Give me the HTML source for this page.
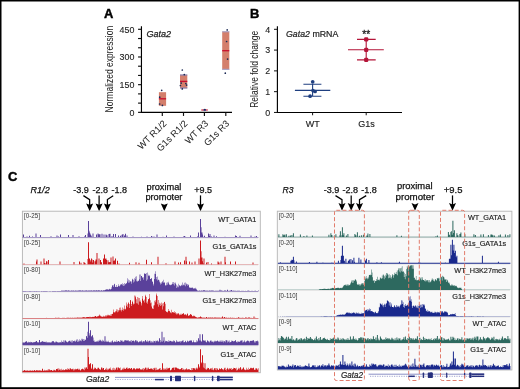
<!DOCTYPE html>
<html><head><meta charset="utf-8"><style>
html,body{margin:0;padding:0;background:#fff;}
body{width:520px;height:389px;position:relative;overflow:hidden;font-family:"Liberation Sans", sans-serif;}
</style></head><body>
<svg width="520" height="389" viewBox="0 0 520 389" style="position:absolute;left:0;top:0;will-change:transform"><g font-family='"Liberation Sans", sans-serif'><text x="103.9" y="17.8" font-size="12.9" font-weight="bold" fill="#000" stroke="#000" stroke-width="0.45">A</text><path d="M141.45,26.3 V112.35 H232" stroke="#000" stroke-width="1.15" fill="none"/><path d="M138.04999999999998,112.35 H141.45" stroke="#111" stroke-width="1.15"/><path d="M138.04999999999998,103.12 H141.45" stroke="#111" stroke-width="1.15"/><path d="M138.04999999999998,93.89 H141.45" stroke="#111" stroke-width="1.15"/><path d="M138.04999999999998,84.67 H141.45" stroke="#111" stroke-width="1.15"/><path d="M138.04999999999998,75.44 H141.45" stroke="#111" stroke-width="1.15"/><path d="M138.04999999999998,66.21 H141.45" stroke="#111" stroke-width="1.15"/><path d="M138.04999999999998,56.98 H141.45" stroke="#111" stroke-width="1.15"/><path d="M138.04999999999998,47.76 H141.45" stroke="#111" stroke-width="1.15"/><path d="M138.04999999999998,38.53 H141.45" stroke="#111" stroke-width="1.15"/><path d="M138.04999999999998,29.30 H141.45" stroke="#111" stroke-width="1.15"/><text x="134.4" y="115.55" font-size="9.4" text-anchor="end" textLength="4.95" lengthAdjust="spacingAndGlyphs" fill="#222" stroke="#222" stroke-width="0.12">0</text><text x="134.4" y="87.87" font-size="9.4" text-anchor="end" textLength="14.85" lengthAdjust="spacingAndGlyphs" fill="#222" stroke="#222" stroke-width="0.12">150</text><text x="134.4" y="60.18" font-size="9.4" text-anchor="end" textLength="14.85" lengthAdjust="spacingAndGlyphs" fill="#222" stroke="#222" stroke-width="0.12">300</text><text x="134.4" y="32.5" font-size="9.4" text-anchor="end" textLength="14.85" lengthAdjust="spacingAndGlyphs" fill="#222" stroke="#222" stroke-width="0.12">450</text><path d="M162.3,112.35 V115.94999999999999" stroke="#111" stroke-width="1.15"/><path d="M183.5,112.35 V115.94999999999999" stroke="#111" stroke-width="1.15"/><path d="M204.4,112.35 V115.94999999999999" stroke="#111" stroke-width="1.15"/><path d="M225.8,112.35 V115.94999999999999" stroke="#111" stroke-width="1.15"/><text transform="translate(113.0,69.1) rotate(-90)" font-size="10.9" text-anchor="middle" fill="#222" textLength="86.6" lengthAdjust="spacingAndGlyphs">Normalized expression</text><text x="146.4" y="37.3" font-size="9.3" font-style="italic" textLength="24.6" lengthAdjust="spacingAndGlyphs" fill="#222" stroke="#222" stroke-width="0.25">Gata2</text><text transform="translate(167.2,124.1) rotate(-45)" font-size="9.3" text-anchor="end" fill="#222">WT R1/2</text><text transform="translate(188.2,124.1) rotate(-45)" font-size="9.3" text-anchor="end" fill="#222">G1s R1/2</text><text transform="translate(209.0,124.1) rotate(-45)" font-size="9.3" text-anchor="end" fill="#222">WT R3</text><text transform="translate(230.0,124.1) rotate(-45)" font-size="9.3" text-anchor="end" fill="#222">G1s R3</text><rect x="158.9" y="92.2" width="7.199999999999989" height="13.599999999999994" fill="#d47f6c"/><path d="M158.9,98.8 H166.1" stroke="#c8102e" stroke-width="1.3"/><rect x="180.0" y="74.6" width="7.300000000000011" height="13.800000000000011" fill="#d47f6c"/><path d="M180.0,75.0 H187.3 M180.0,88.0 H187.3" stroke="#6f83c8" stroke-width="0.9"/><path d="M180.0,81.4 H187.3" stroke="#c8102e" stroke-width="1.3"/><rect x="222.2" y="31.4" width="7.100000000000023" height="38.300000000000004" fill="#d47f6c"/><path d="M222.2,31.799999999999997 H229.3 M222.2,69.3 H229.3" stroke="#9aa6d8" stroke-width="0.9"/><path d="M222.2,50.7 H229.3" stroke="#c8102e" stroke-width="1.3"/><rect x="201.3" y="109.3" width="6.5" height="1.4" fill="#d04050"/><rect x="203.5" y="109.1" width="2.5" height="1.7" fill="#4050a0"/><circle cx="161.7" cy="90.3" r="0.85" fill="#1c2a55"/><circle cx="159.7" cy="97.2" r="0.85" fill="#1c2a55"/><circle cx="159.6" cy="104" r="0.85" fill="#1c2a55"/><circle cx="162.4" cy="105.4" r="0.85" fill="#1c2a55"/><circle cx="182.3" cy="70" r="0.85" fill="#1c2a55"/><circle cx="184.3" cy="74.6" r="0.85" fill="#1c2a55"/><circle cx="181.2" cy="83.1" r="0.85" fill="#1c2a55"/><circle cx="185.8" cy="83.5" r="0.85" fill="#1c2a55"/><circle cx="180.4" cy="85.5" r="0.85" fill="#1c2a55"/><circle cx="186.6" cy="85.1" r="0.85" fill="#1c2a55"/><circle cx="182.3" cy="88.9" r="0.85" fill="#1c2a55"/><circle cx="227.2" cy="29.9" r="0.85" fill="#1c2a55"/><circle cx="226.6" cy="41.5" r="0.85" fill="#1c2a55"/><circle cx="227.6" cy="59.1" r="0.85" fill="#1c2a55"/><circle cx="225.3" cy="73.2" r="0.85" fill="#1c2a55"/><circle cx="204.8" cy="109.6" r="0.85" fill="#1c2a55"/><text x="250.0" y="17.8" font-size="12.9" font-weight="bold" fill="#000" stroke="#000" stroke-width="0.45">B</text><path d="M277.4,26.2 V112.45 H402" stroke="#000" stroke-width="1.15" fill="none"/><path d="M274.0,112.45 H277.4" stroke="#111" stroke-width="1"/><text x="270.1" y="115.65" font-size="9.4" text-anchor="end" textLength="4.95" lengthAdjust="spacingAndGlyphs" fill="#222" stroke="#222" stroke-width="0.12">0</text><path d="M274.0,91.66 H277.4" stroke="#111" stroke-width="1"/><text x="270.1" y="94.86" font-size="9.4" text-anchor="end" textLength="4.95" lengthAdjust="spacingAndGlyphs" fill="#222" stroke="#222" stroke-width="0.12">1</text><path d="M274.0,70.88 H277.4" stroke="#111" stroke-width="1"/><text x="270.1" y="74.08" font-size="9.4" text-anchor="end" textLength="4.95" lengthAdjust="spacingAndGlyphs" fill="#222" stroke="#222" stroke-width="0.12">2</text><path d="M274.0,50.09 H277.4" stroke="#111" stroke-width="1"/><text x="270.1" y="53.29" font-size="9.4" text-anchor="end" textLength="4.95" lengthAdjust="spacingAndGlyphs" fill="#222" stroke="#222" stroke-width="0.12">3</text><path d="M274.0,29.30 H277.4" stroke="#111" stroke-width="1"/><text x="270.1" y="32.5" font-size="9.4" text-anchor="end" textLength="4.95" lengthAdjust="spacingAndGlyphs" fill="#222" stroke="#222" stroke-width="0.12">4</text><path d="M312.6,112.45 V115.25" stroke="#111" stroke-width="1"/><path d="M366.2,112.45 V115.25" stroke="#111" stroke-width="1"/><text transform="translate(257.8,69.3) rotate(-90)" font-size="10.3" text-anchor="middle" fill="#222" textLength="77" lengthAdjust="spacingAndGlyphs">Relative fold change</text><text x="286.0" y="36.9" font-size="8.9" fill="#222" stroke="#222" stroke-width="0.2" textLength="52.3" lengthAdjust="spacingAndGlyphs"><tspan font-style="italic">Gata2</tspan> mRNA</text><text x="312.7" y="126.9" font-size="9.0" text-anchor="middle" fill="#222" stroke="#222" stroke-width="0.15">WT</text><text x="366.4" y="127.1" font-size="9.0" text-anchor="middle" fill="#222" stroke="#222" stroke-width="0.15">G1s</text><text x="366.2" y="38.0" font-size="10.2" text-anchor="middle" fill="#222" stroke="#222" stroke-width="0.3">**</text><path d="M294.9,90.4 H330.3 M303.4,84.2 H321.4 M303.4,96.2 H321.4 M312.6,84.2 V96.2" stroke="#1f3f80" stroke-width="1.1" fill="none"/><circle cx="312.7" cy="81.8" r="1.85" fill="#1f3f80"/><circle cx="315.1" cy="91.5" r="1.85" fill="#1f3f80"/><circle cx="313.0" cy="90.6" r="1.85" fill="#1f3f80"/><circle cx="310.1" cy="96.2" r="1.85" fill="#1f3f80"/><path d="M348,49.8 H383.8 M357,39.4 H375.7 M357,59.9 H375.7 M366.2,39.4 V59.9" stroke="#b41438" stroke-width="1.1" fill="none"/><rect x="364.09999999999997" y="37.3" width="4.2" height="4.2" rx="1.2" fill="#b41438"/><rect x="364.09999999999997" y="47.699999999999996" width="4.2" height="4.2" rx="1.2" fill="#b41438"/><rect x="364.09999999999997" y="57.8" width="4.2" height="4.2" rx="1.2" fill="#b41438"/><text x="8.0" y="181.0" font-size="12.9" font-weight="bold" fill="#000" stroke="#000" stroke-width="0.45">C</text><text x="30.5" y="192.5" font-size="9.0" font-style="italic" textLength="19.2" lengthAdjust="spacingAndGlyphs" fill="#111" stroke="#111" stroke-width="0.25">R1/2</text><text x="73.2" y="192.5" font-size="9.3" textLength="15.6" lengthAdjust="spacingAndGlyphs" fill="#111" stroke="#111" stroke-width="0.25">-3.9</text><text x="92.5" y="192.5" font-size="9.3" textLength="15.6" lengthAdjust="spacingAndGlyphs" fill="#111" stroke="#111" stroke-width="0.25">-2.8</text><text x="111.5" y="192.5" font-size="9.3" textLength="15.6" lengthAdjust="spacingAndGlyphs" fill="#111" stroke="#111" stroke-width="0.25">-1.8</text><path d="M83.4,195.6 L89.65,199.6 V205 M99.1,195.6 V205 M113.2,195.8 L107.4,199.6 V205" stroke="#000" stroke-width="1.25" fill="none"/><path d="M89.65,211.2 L86.15,203.39999999999998 L89.65,204.79999999999998 L93.15,203.39999999999998 Z" fill="#000"/><path d="M99.1,211.2 L95.6,203.39999999999998 L99.1,204.79999999999998 L102.6,203.39999999999998 Z" fill="#000"/><path d="M107.4,211.2 L103.9,203.39999999999998 L107.4,204.79999999999998 L110.9,203.39999999999998 Z" fill="#000"/><text x="146.5" y="189.5" font-size="9.0" textLength="34.9" lengthAdjust="spacingAndGlyphs" fill="#111" stroke="#111" stroke-width="0.25">proximal</text><text x="145.4" y="199.8" font-size="9.0" textLength="37.0" lengthAdjust="spacingAndGlyphs" fill="#111" stroke="#111" stroke-width="0.25">promoter</text><path d="M164.3,211.2 L160.8,203.39999999999998 L164.3,204.79999999999998 L167.8,203.39999999999998 Z" fill="#000"/><text x="194.2" y="192.7" font-size="8.9" textLength="17.8" lengthAdjust="spacingAndGlyphs" fill="#111" stroke="#111" stroke-width="0.25">+9.5</text><path d="M200.5,195.4 V205" stroke="#000" stroke-width="1.25"/><path d="M200.5,211.2 L197.0,203.39999999999998 L200.5,204.79999999999998 L204.0,203.39999999999998 Z" fill="#000"/><text x="282.5" y="192.5" font-size="9.0" font-style="italic" textLength="11" lengthAdjust="spacingAndGlyphs" fill="#111" stroke="#111" stroke-width="0.25">R3</text><text x="323.8" y="192.5" font-size="9.3" textLength="15.6" lengthAdjust="spacingAndGlyphs" fill="#111" stroke="#111" stroke-width="0.25">-3.9</text><text x="342.5" y="192.5" font-size="9.3" textLength="15.6" lengthAdjust="spacingAndGlyphs" fill="#111" stroke="#111" stroke-width="0.25">-2.8</text><text x="361.3" y="192.5" font-size="9.3" textLength="15.6" lengthAdjust="spacingAndGlyphs" fill="#111" stroke="#111" stroke-width="0.25">-1.8</text><path d="M335.5,195.6 L342,199.6 V205 M351.2,195.6 V205 M366.2,195.6 L359.5,199.6 V205" stroke="#000" stroke-width="1.25" fill="none"/><path d="M342.0,210.8 L338.5,203.0 L342.0,204.4 L345.5,203.0 Z" fill="#000"/><path d="M351.2,210.8 L347.7,203.0 L351.2,204.4 L354.7,203.0 Z" fill="#000"/><path d="M359.5,210.8 L356.0,203.0 L359.5,204.4 L363.0,203.0 Z" fill="#000"/><text x="397.0" y="189.3" font-size="9.0" textLength="35.5" lengthAdjust="spacingAndGlyphs" fill="#111" stroke="#111" stroke-width="0.25">proximal</text><text x="395.5" y="199.6" font-size="9.0" textLength="39.0" lengthAdjust="spacingAndGlyphs" fill="#111" stroke="#111" stroke-width="0.25">promoter</text><path d="M415.0,210.8 L411.5,203.0 L415.0,204.4 L418.5,203.0 Z" fill="#000"/><text x="443.8" y="192.7" font-size="8.9" textLength="18.7" lengthAdjust="spacingAndGlyphs" fill="#111" stroke="#111" stroke-width="0.25">+9.5</text><path d="M452.5,195.4 V205" stroke="#000" stroke-width="1.25"/><path d="M452.5,210.8 L449.0,203.0 L452.5,204.4 L456.0,203.0 Z" fill="#000"/><rect x="22.4" y="211.2" width="237.9" height="161.52" fill="#f8f8f8" stroke="#b4b4b4" stroke-width="0.9"/><text x="24.0" y="218.4" font-size="7.0" textLength="15.9" lengthAdjust="spacingAndGlyphs" fill="#333">[0-25]</text><text x="256.4" y="221.9" font-size="7.3" text-anchor="end" fill="#222" stroke="#222" stroke-width="0.15">WT_GATA1</text><text x="24.0" y="245.32" font-size="7.0" textLength="15.9" lengthAdjust="spacingAndGlyphs" fill="#333">[0-25]</text><text x="256.4" y="248.82" font-size="7.3" text-anchor="end" fill="#222" stroke="#222" stroke-width="0.15">G1s_GATA1s</text><text x="24.0" y="272.24" font-size="7.0" textLength="15.9" lengthAdjust="spacingAndGlyphs" fill="#333">[0-80]</text><text x="256.4" y="275.74" font-size="7.3" text-anchor="end" fill="#222" stroke="#222" stroke-width="0.15">WT_H3K27me3</text><text x="24.0" y="299.16" font-size="7.0" textLength="15.9" lengthAdjust="spacingAndGlyphs" fill="#333">[0-80]</text><text x="256.4" y="302.66" font-size="7.3" text-anchor="end" fill="#222" stroke="#222" stroke-width="0.15">G1s_H3K27me3</text><text x="24.0" y="326.08" font-size="7.0" textLength="15.9" lengthAdjust="spacingAndGlyphs" fill="#333">[0-10]</text><text x="256.4" y="329.58" font-size="7.3" text-anchor="end" fill="#222" stroke="#222" stroke-width="0.15">WT_ATAC</text><text x="24.0" y="353.0" font-size="7.0" textLength="15.9" lengthAdjust="spacingAndGlyphs" fill="#333">[0-10]</text><text x="256.4" y="356.5" font-size="7.3" text-anchor="end" fill="#222" stroke="#222" stroke-width="0.15">G1s_ATAC</text><rect x="22.5" y="237.62" width="235.5" height="0.9" fill="#e2e2e2"/><path d="M22.50,237.62L22.50,237.12L23.00,237.12L23.00,234.62L23.50,234.62L23.50,234.62L24.00,234.62L24.00,237.12L24.50,237.12L24.50,237.12L25.00,237.12L25.00,237.12L25.50,237.12L25.50,237.12L26.00,237.12L26.00,237.12L26.50,237.12L26.50,236.56L27.00,236.56L27.00,236.56L27.50,236.56L27.50,237.12L28.00,237.12L28.00,237.12L28.50,237.12L28.50,237.12L29.00,237.12L29.00,235.73L29.50,235.73L29.50,235.73L30.00,235.73L30.00,237.12L30.50,237.12L30.50,237.12L31.00,237.12L31.00,237.12L31.50,237.12L31.50,237.12L32.00,237.12L32.00,236.57L32.50,236.57L32.50,236.57L33.00,236.57L33.00,237.12L33.50,237.12L33.50,237.12L34.00,237.12L34.00,237.12L34.50,237.12L34.50,237.12L35.00,237.12L35.00,237.12L35.50,237.12L35.50,233.62L36.00,233.62L36.00,233.62L36.50,233.62L36.50,237.12L37.00,237.12L37.00,237.12L37.50,237.12L37.50,237.12L38.00,237.12L38.00,237.12L38.50,237.12L38.50,237.12L39.00,237.12L39.00,237.12L39.50,237.12L39.50,237.12L40.00,237.12L40.00,234.94L40.50,234.94L40.50,234.94L41.00,234.94L41.00,237.12L41.50,237.12L41.50,237.12L42.00,237.12L42.00,237.12L42.50,237.12L42.50,237.12L43.00,237.12L43.00,237.12L43.50,237.12L43.50,237.12L44.00,237.12L44.00,237.12L44.50,237.12L44.50,237.12L45.00,237.12L45.00,237.12L45.50,237.12L45.50,237.12L46.00,237.12L46.00,237.12L46.50,237.12L46.50,237.12L47.00,237.12L47.00,237.12L47.50,237.12L47.50,237.12L48.00,237.12L48.00,237.12L48.50,237.12L48.50,237.12L49.00,237.12L49.00,237.12L49.50,237.12L49.50,237.12L50.00,237.12L50.00,237.12L50.50,237.12L50.50,236.13L51.00,236.13L51.00,236.13L51.50,236.13L51.50,237.12L52.00,237.12L52.00,237.12L52.50,237.12L52.50,237.12L53.00,237.12L53.00,237.12L53.50,237.12L53.50,237.12L54.00,237.12L54.00,237.12L54.50,237.12L54.50,237.12L55.00,237.12L55.00,237.12L55.50,237.12L55.50,237.12L56.00,237.12L56.00,237.12L56.50,237.12L56.50,235.62L57.00,235.62L57.00,235.62L57.50,235.62L57.50,237.12L58.00,237.12L58.00,236.53L58.50,236.53L58.50,236.53L59.00,236.53L59.00,237.12L59.50,237.12L59.50,237.12L60.00,237.12L60.00,234.62L60.50,234.62L60.50,234.62L61.00,234.62L61.00,237.12L61.50,237.12L61.50,237.12L62.00,237.12L62.00,237.12L62.50,237.12L62.50,237.12L63.00,237.12L63.00,237.12L63.50,237.12L63.50,237.12L64.00,237.12L64.00,237.12L64.50,237.12L64.50,237.12L65.00,237.12L65.00,237.12L65.50,237.12L65.50,237.12L66.00,237.12L66.00,237.12L66.50,237.12L66.50,237.12L67.00,237.12L67.00,237.12L67.50,237.12L67.50,237.12L68.00,237.12L68.00,235.05L68.50,235.05L68.50,235.05L69.00,235.05L69.00,237.12L69.50,237.12L69.50,237.12L70.00,237.12L70.00,237.12L70.50,237.12L70.50,237.12L71.00,237.12L71.00,237.12L71.50,237.12L71.50,237.12L72.00,237.12L72.00,237.12L72.50,237.12L72.50,234.88L73.00,234.88L73.00,234.88L73.50,234.88L73.50,237.12L74.00,237.12L74.00,237.12L74.50,237.12L74.50,237.12L75.00,237.12L75.00,237.12L75.50,237.12L75.50,237.12L76.00,237.12L76.00,237.12L76.50,237.12L76.50,237.12L77.00,237.12L77.00,237.12L77.50,237.12L77.50,237.12L78.00,237.12L78.00,237.12L78.50,237.12L78.50,236.16L79.00,236.16L79.00,236.16L79.50,236.16L79.50,237.12L80.00,237.12L80.00,237.12L80.50,237.12L80.50,237.12L81.00,237.12L81.00,237.12L81.50,237.12L81.50,237.12L82.00,237.12L82.00,237.12L82.50,237.12L82.50,237.12L83.00,237.12L83.00,237.12L83.50,237.12L83.50,237.12L84.00,237.12L84.00,236.59L84.50,236.59L84.50,236.59L85.00,236.59L85.00,235.11L85.50,235.11L85.50,235.11L86.00,235.11L86.00,237.12L86.50,237.12L86.50,237.12L87.00,237.12L87.00,237.12L87.50,237.12L87.50,233.50L88.00,233.50L88.00,221.12L88.50,221.12L88.50,221.12L89.00,221.12L89.00,230.75L89.50,230.75L89.50,232.62L90.00,232.62L90.00,233.52L90.50,233.52L90.50,234.64L91.00,234.64L91.00,235.53L91.50,235.53L91.50,236.62L92.00,236.62L92.00,237.12L92.50,237.12L92.50,233.62L93.00,233.62L93.00,233.62L93.50,233.62L93.50,237.12L94.00,237.12L94.00,237.12L94.50,237.12L94.50,237.12L95.00,237.12L95.00,237.12L95.50,237.12L95.50,237.12L96.00,237.12L96.00,234.61L96.50,234.61L96.50,234.61L97.00,234.61L97.00,237.12L97.50,237.12L97.50,233.62L98.00,233.62L98.00,233.62L98.50,233.62L98.50,234.32L99.00,234.32L99.00,234.32L99.50,234.32L99.50,234.36L100.00,234.36L100.00,234.36L100.50,234.36L100.50,237.12L101.00,237.12L101.00,237.12L101.50,237.12L101.50,233.68L102.00,233.68L102.00,233.68L102.50,233.68L102.50,237.12L103.00,237.12L103.00,237.12L103.50,237.12L103.50,234.50L104.00,234.50L104.00,234.50L104.50,234.50L104.50,237.12L105.00,237.12L105.00,237.12L105.50,237.12L105.50,234.54L106.00,234.54L106.00,234.54L106.50,234.54L106.50,235.37L107.00,235.37L107.00,235.37L107.50,235.37L107.50,237.12L108.00,237.12L108.00,237.12L108.50,237.12L108.50,233.97L109.00,233.97L109.00,233.97L109.50,233.97L109.50,233.77L110.00,233.77L110.00,233.77L110.50,233.77L110.50,237.12L111.00,237.12L111.00,237.12L111.50,237.12L111.50,236.10L112.00,236.10L112.00,236.10L112.50,236.10L112.50,237.12L113.00,237.12L113.00,234.07L113.50,234.07L113.50,234.07L114.00,234.07L114.00,237.12L114.50,237.12L114.50,237.12L115.00,237.12L115.00,233.95L115.50,233.95L115.50,233.95L116.00,233.95L116.00,237.12L116.50,237.12L116.50,237.12L117.00,237.12L117.00,237.12L117.50,237.12L117.50,237.12L118.00,237.12L118.00,235.61L118.50,235.61L118.50,235.61L119.00,235.61L119.00,237.12L119.50,237.12L119.50,237.12L120.00,237.12L120.00,235.86L120.50,235.86L120.50,235.86L121.00,235.86L121.00,237.12L121.50,237.12L121.50,234.87L122.00,234.87L122.00,234.87L122.50,234.87L122.50,233.94L123.00,233.94L123.00,233.94L123.50,233.94L123.50,237.12L124.00,237.12L124.00,235.62L124.50,235.62L124.50,235.62L125.00,235.62L125.00,233.65L125.50,233.65L125.50,233.65L126.00,233.65L126.00,237.12L126.50,237.12L126.50,235.59L127.00,235.59L127.00,235.59L127.50,235.59L127.50,237.12L128.00,237.12L128.00,237.12L128.50,237.12L128.50,237.12L129.00,237.12L129.00,237.12L129.50,237.12L129.50,237.12L130.00,237.12L130.00,237.12L130.50,237.12L130.50,237.12L131.00,237.12L131.00,237.12L131.50,237.12L131.50,237.12L132.00,237.12L132.00,237.12L132.50,237.12L132.50,236.58L133.00,236.58L133.00,236.58L133.50,236.58L133.50,237.12L134.00,237.12L134.00,237.12L134.50,237.12L134.50,237.12L135.00,237.12L135.00,237.12L135.50,237.12L135.50,237.12L136.00,237.12L136.00,237.12L136.50,237.12L136.50,237.12L137.00,237.12L137.00,237.12L137.50,237.12L137.50,237.12L138.00,237.12L138.00,237.12L138.50,237.12L138.50,237.12L139.00,237.12L139.00,237.12L139.50,237.12L139.50,237.12L140.00,237.12L140.00,237.12L140.50,237.12L140.50,237.12L141.00,237.12L141.00,236.72L141.50,236.72L141.50,236.72L142.00,236.72L142.00,237.12L142.50,237.12L142.50,237.12L143.00,237.12L143.00,237.12L143.50,237.12L143.50,237.12L144.00,237.12L144.00,237.12L144.50,237.12L144.50,237.12L145.00,237.12L145.00,237.12L145.50,237.12L145.50,237.12L146.00,237.12L146.00,237.12L146.50,237.12L146.50,236.45L147.00,236.45L147.00,236.45L147.50,236.45L147.50,237.12L148.00,237.12L148.00,237.12L148.50,237.12L148.50,237.12L149.00,237.12L149.00,237.12L149.50,237.12L149.50,237.12L150.00,237.12L150.00,237.12L150.50,237.12L150.50,237.12L151.00,237.12L151.00,235.88L151.50,235.88L151.50,235.88L152.00,235.88L152.00,236.66L152.50,236.66L152.50,236.66L153.00,236.66L153.00,237.12L153.50,237.12L153.50,236.48L154.00,236.48L154.00,236.48L154.50,236.48L154.50,237.12L155.00,237.12L155.00,237.12L155.50,237.12L155.50,237.12L156.00,237.12L156.00,237.12L156.50,237.12L156.50,234.62L157.00,234.62L157.00,234.62L157.50,234.62L157.50,237.12L158.00,237.12L158.00,237.12L158.50,237.12L158.50,237.12L159.00,237.12L159.00,237.12L159.50,237.12L159.50,237.12L160.00,237.12L160.00,237.12L160.50,237.12L160.50,237.12L161.00,237.12L161.00,237.12L161.50,237.12L161.50,237.12L162.00,237.12L162.00,237.12L162.50,237.12L162.50,236.81L163.00,236.81L163.00,236.81L163.50,236.81L163.50,237.12L164.00,237.12L164.00,237.12L164.50,237.12L164.50,237.12L165.00,237.12L165.00,237.12L165.50,237.12L165.50,237.12L166.00,237.12L166.00,235.54L166.50,235.54L166.50,235.54L167.00,235.54L167.00,237.12L167.50,237.12L167.50,237.12L168.00,237.12L168.00,237.12L168.50,237.12L168.50,237.12L169.00,237.12L169.00,237.12L169.50,237.12L169.50,237.12L170.00,237.12L170.00,237.12L170.50,237.12L170.50,237.12L171.00,237.12L171.00,237.12L171.50,237.12L171.50,237.12L172.00,237.12L172.00,237.12L172.50,237.12L172.50,237.12L173.00,237.12L173.00,237.12L173.50,237.12L173.50,236.43L174.00,236.43L174.00,236.43L174.50,236.43L174.50,237.12L175.00,237.12L175.00,237.12L175.50,237.12L175.50,237.12L176.00,237.12L176.00,237.12L176.50,237.12L176.50,237.12L177.00,237.12L177.00,237.12L177.50,237.12L177.50,237.12L178.00,237.12L178.00,237.12L178.50,237.12L178.50,237.12L179.00,237.12L179.00,237.12L179.50,237.12L179.50,237.12L180.00,237.12L180.00,237.12L180.50,237.12L180.50,237.12L181.00,237.12L181.00,237.12L181.50,237.12L181.50,237.12L182.00,237.12L182.00,237.12L182.50,237.12L182.50,237.12L183.00,237.12L183.00,236.48L183.50,236.48L183.50,236.48L184.00,236.48L184.00,236.05L184.50,236.05L184.50,236.05L185.00,236.05L185.00,236.71L185.50,236.71L185.50,236.71L186.00,236.71L186.00,237.12L186.50,237.12L186.50,237.12L187.00,237.12L187.00,237.12L187.50,237.12L187.50,237.12L188.00,237.12L188.00,237.12L188.50,237.12L188.50,237.12L189.00,237.12L189.00,237.12L189.50,237.12L189.50,237.12L190.00,237.12L190.00,235.49L190.50,235.49L190.50,235.49L191.00,235.49L191.00,237.12L191.50,237.12L191.50,237.12L192.00,237.12L192.00,237.12L192.50,237.12L192.50,237.12L193.00,237.12L193.00,237.12L193.50,237.12L193.50,237.12L194.00,237.12L194.00,237.12L194.50,237.12L194.50,237.12L195.00,237.12L195.00,237.12L195.50,237.12L195.50,237.12L196.00,237.12L196.00,237.12L196.50,237.12L196.50,237.12L197.00,237.12L197.00,236.38L197.50,236.38L197.50,236.38L198.00,236.38L198.00,232.62L198.50,232.62L198.50,232.62L199.00,232.62L199.00,237.12L199.50,237.12L199.50,237.12L200.00,237.12L200.00,218.92L200.50,218.92L200.50,218.92L201.00,218.92L201.00,227.33L201.50,227.33L201.50,232.62L202.00,232.62L202.00,232.62L202.50,232.62L202.50,234.49L203.00,234.49L203.00,236.73L203.50,236.73L203.50,237.12L204.00,237.12L204.00,235.66L204.50,235.66L204.50,235.66L205.00,235.66L205.00,237.12L205.50,237.12L205.50,237.12L206.00,237.12L206.00,237.12L206.50,237.12L206.50,237.12L207.00,237.12L207.00,237.12L207.50,237.12L207.50,237.12L208.00,237.12L208.00,233.62L208.50,233.62L208.50,233.62L209.00,233.62L209.00,236.04L209.50,236.04L209.50,234.12L210.00,234.12L210.00,234.12L210.50,234.12L210.50,236.72L211.00,236.72L211.00,236.39L211.50,236.39L211.50,236.39L212.00,236.39L212.00,237.12L212.50,237.12L212.50,237.12L213.00,237.12L213.00,237.12L213.50,237.12L213.50,235.62L214.00,235.62L214.00,235.62L214.50,235.62L214.50,237.12L215.00,237.12L215.00,237.12L215.50,237.12L215.50,237.12L216.00,237.12L216.00,236.19L216.50,236.19L216.50,236.19L217.00,236.19L217.00,237.12L217.50,237.12L217.50,237.12L218.00,237.12L218.00,237.12L218.50,237.12L218.50,237.12L219.00,237.12L219.00,237.12L219.50,237.12L219.50,237.12L220.00,237.12L220.00,237.12L220.50,237.12L220.50,237.12L221.00,237.12L221.00,237.12L221.50,237.12L221.50,237.12L222.00,237.12L222.00,237.12L222.50,237.12L222.50,237.12L223.00,237.12L223.00,237.12L223.50,237.12L223.50,237.12L224.00,237.12L224.00,237.12L224.50,237.12L224.50,236.73L225.00,236.73L225.00,236.73L225.50,236.73L225.50,237.12L226.00,237.12L226.00,237.12L226.50,237.12L226.50,237.12L227.00,237.12L227.00,237.12L227.50,237.12L227.50,237.12L228.00,237.12L228.00,237.12L228.50,237.12L228.50,237.12L229.00,237.12L229.00,237.12L229.50,237.12L229.50,237.12L230.00,237.12L230.00,237.12L230.50,237.12L230.50,237.12L231.00,237.12L231.00,237.12L231.50,237.12L231.50,237.12L232.00,237.12L232.00,237.12L232.50,237.12L232.50,237.12L233.00,237.12L233.00,237.12L233.50,237.12L233.50,237.12L234.00,237.12L234.00,237.12L234.50,237.12L234.50,237.12L235.00,237.12L235.00,235.62L235.50,235.62L235.50,235.62L236.00,235.62L236.00,236.00L236.50,236.00L236.50,236.00L237.00,236.00L237.00,237.12L237.50,237.12L237.50,237.12L238.00,237.12L238.00,237.12L238.50,237.12L238.50,237.12L239.00,237.12L239.00,237.12L239.50,237.12L239.50,235.64L240.00,235.64L240.00,235.64L240.50,235.64L240.50,237.12L241.00,237.12L241.00,237.12L241.50,237.12L241.50,237.12L242.00,237.12L242.00,237.12L242.50,237.12L242.50,237.12L243.00,237.12L243.00,237.12L243.50,237.12L243.50,237.12L244.00,237.12L244.00,237.12L244.50,237.12L244.50,237.12L245.00,237.12L245.00,237.12L245.50,237.12L245.50,237.12L246.00,237.12L246.00,237.12L246.50,237.12L246.50,237.12L247.00,237.12L247.00,237.12L247.50,237.12L247.50,237.12L248.00,237.12L248.00,237.12L248.50,237.12L248.50,237.12L249.00,237.12L249.00,237.12L249.50,237.12L249.50,237.12L250.00,237.12L250.00,237.12L250.50,237.12L250.50,235.62L251.00,235.62L251.00,235.62L251.50,235.62L251.50,237.12L252.00,237.12L252.00,237.12L252.50,237.12L252.50,237.12L253.00,237.12L253.00,237.12L253.50,237.12L253.50,237.12L254.00,237.12L254.00,237.12L254.50,237.12L254.50,236.59L255.00,236.59L255.00,236.59L255.50,236.59L255.50,237.12L256.00,237.12L256.00,236.07L256.50,236.07L256.50,236.07L257.00,236.07L257.00,237.12L257.50,237.12L257.50,237.12L258.00,237.12L258.00,237.12L258.50,237.12L258.50,237.62Z" fill="#5a419b"/><rect x="22.5" y="264.53999999999996" width="235.5" height="0.9" fill="#e2e2e2"/><path d="M22.50,264.54L22.50,264.14L23.00,264.14L23.00,264.14L23.50,264.14L23.50,263.46L24.00,263.46L24.00,263.46L24.50,263.46L24.50,264.14L25.00,264.14L25.00,264.14L25.50,264.14L25.50,264.14L26.00,264.14L26.00,264.14L26.50,264.14L26.50,264.14L27.00,264.14L27.00,264.14L27.50,264.14L27.50,264.14L28.00,264.14L28.00,264.14L28.50,264.14L28.50,264.14L29.00,264.14L29.00,264.14L29.50,264.14L29.50,264.14L30.00,264.14L30.00,264.14L30.50,264.14L30.50,264.14L31.00,264.14L31.00,264.14L31.50,264.14L31.50,264.14L32.00,264.14L32.00,264.14L32.50,264.14L32.50,264.14L33.00,264.14L33.00,264.14L33.50,264.14L33.50,264.14L34.00,264.14L34.00,264.14L34.50,264.14L34.50,264.14L35.00,264.14L35.00,264.14L35.50,264.14L35.50,264.14L36.00,264.14L36.00,261.53L36.50,261.53L36.50,259.54L37.00,259.54L37.00,259.54L37.50,259.54L37.50,264.14L38.00,264.14L38.00,264.14L38.50,264.14L38.50,264.14L39.00,264.14L39.00,264.14L39.50,264.14L39.50,264.14L40.00,264.14L40.00,264.14L40.50,264.14L40.50,261.54L41.00,261.54L41.00,261.54L41.50,261.54L41.50,264.14L42.00,264.14L42.00,264.14L42.50,264.14L42.50,264.14L43.00,264.14L43.00,264.14L43.50,264.14L43.50,258.54L44.00,258.54L44.00,258.54L44.50,258.54L44.50,262.96L45.00,262.96L45.00,262.96L45.50,262.96L45.50,264.14L46.00,264.14L46.00,261.25L46.50,261.25L46.50,261.25L47.00,261.25L47.00,261.54L47.50,261.54L47.50,264.14L48.00,264.14L48.00,259.91L48.50,259.91L48.50,259.91L49.00,259.91L49.00,264.14L49.50,264.14L49.50,264.14L50.00,264.14L50.00,264.14L50.50,264.14L50.50,264.14L51.00,264.14L51.00,264.14L51.50,264.14L51.50,264.14L52.00,264.14L52.00,264.14L52.50,264.14L52.50,264.14L53.00,264.14L53.00,264.14L53.50,264.14L53.50,264.14L54.00,264.14L54.00,264.14L54.50,264.14L54.50,264.14L55.00,264.14L55.00,264.14L55.50,264.14L55.50,264.14L56.00,264.14L56.00,264.14L56.50,264.14L56.50,264.14L57.00,264.14L57.00,264.14L57.50,264.14L57.50,264.14L58.00,264.14L58.00,264.14L58.50,264.14L58.50,264.14L59.00,264.14L59.00,264.14L59.50,264.14L59.50,261.54L60.00,261.54L60.00,261.54L60.50,261.54L60.50,264.14L61.00,264.14L61.00,264.14L61.50,264.14L61.50,264.14L62.00,264.14L62.00,264.14L62.50,264.14L62.50,264.14L63.00,264.14L63.00,264.14L63.50,264.14L63.50,264.14L64.00,264.14L64.00,264.14L64.50,264.14L64.50,264.14L65.00,264.14L65.00,264.14L65.50,264.14L65.50,264.14L66.00,264.14L66.00,264.14L66.50,264.14L66.50,264.14L67.00,264.14L67.00,264.14L67.50,264.14L67.50,264.14L68.00,264.14L68.00,264.14L68.50,264.14L68.50,264.14L69.00,264.14L69.00,264.14L69.50,264.14L69.50,264.14L70.00,264.14L70.00,264.14L70.50,264.14L70.50,264.14L71.00,264.14L71.00,264.14L71.50,264.14L71.50,264.14L72.00,264.14L72.00,264.14L72.50,264.14L72.50,264.14L73.00,264.14L73.00,264.14L73.50,264.14L73.50,262.04L74.00,262.04L74.00,262.04L74.50,262.04L74.50,264.14L75.00,264.14L75.00,264.14L75.50,264.14L75.50,264.14L76.00,264.14L76.00,264.14L76.50,264.14L76.50,264.14L77.00,264.14L77.00,264.14L77.50,264.14L77.50,264.14L78.00,264.14L78.00,264.14L78.50,264.14L78.50,264.14L79.00,264.14L79.00,261.54L79.50,261.54L79.50,261.54L80.00,261.54L80.00,264.14L80.50,264.14L80.50,262.82L81.00,262.82L81.00,262.82L81.50,262.82L81.50,264.14L82.00,264.14L82.00,264.14L82.50,264.14L82.50,264.14L83.00,264.14L83.00,264.14L83.50,264.14L83.50,262.08L84.00,262.08L84.00,262.08L84.50,262.08L84.50,263.03L85.00,263.03L85.00,263.03L85.50,263.03L85.50,264.14L86.00,264.14L86.00,264.14L86.50,264.14L86.50,264.14L87.00,264.14L87.00,264.14L87.50,264.14L87.50,259.01L88.00,259.01L88.00,242.24L88.50,242.24L88.50,242.24L89.00,242.24L89.00,258.54L89.50,258.54L89.50,258.54L90.00,258.54L90.00,259.89L90.50,259.89L90.50,261.41L91.00,261.41L91.00,258.58L91.50,258.58L91.50,258.58L92.00,258.58L92.00,259.54L92.50,259.54L92.50,262.39L93.00,262.39L93.00,260.08L93.50,260.08L93.50,260.08L94.00,260.08L94.00,264.14L94.50,264.14L94.50,261.19L95.00,261.19L95.00,261.19L95.50,261.19L95.50,259.54L96.00,259.54L96.00,259.54L96.50,259.54L96.50,253.04L97.00,253.04L97.00,253.04L97.50,253.04L97.50,264.14L98.00,264.14L98.00,264.14L98.50,264.14L98.50,258.54L99.00,258.54L99.00,258.54L99.50,258.54L99.50,264.14L100.00,264.14L100.00,259.90L100.50,259.90L100.50,259.90L101.00,259.90L101.00,262.13L101.50,262.13L101.50,262.13L102.00,262.13L102.00,264.14L102.50,264.14L102.50,264.14L103.00,264.14L103.00,258.54L103.50,258.54L103.50,258.54L104.00,258.54L104.00,254.54L104.50,254.54L104.50,254.54L105.00,254.54L105.00,258.70L105.50,258.70L105.50,258.54L106.00,258.54L106.00,258.54L106.50,258.54L106.50,260.12L107.00,260.12L107.00,264.14L107.50,264.14L107.50,260.31L108.00,260.31L108.00,260.31L108.50,260.31L108.50,262.31L109.00,262.31L109.00,262.31L109.50,262.31L109.50,261.90L110.00,261.90L110.00,261.90L110.50,261.90L110.50,257.54L111.00,257.54L111.00,257.54L111.50,257.54L111.50,264.14L112.00,264.14L112.00,264.14L112.50,264.14L112.50,256.54L113.00,256.54L113.00,256.54L113.50,256.54L113.50,260.76L114.00,260.76L114.00,260.76L114.50,260.76L114.50,260.18L115.00,260.18L115.00,258.54L115.50,258.54L115.50,258.54L116.00,258.54L116.00,264.14L116.50,264.14L116.50,264.14L117.00,264.14L117.00,260.85L117.50,260.85L117.50,260.85L118.00,260.85L118.00,264.14L118.50,264.14L118.50,263.47L119.00,263.47L119.00,263.47L119.50,263.47L119.50,264.14L120.00,264.14L120.00,264.14L120.50,264.14L120.50,264.14L121.00,264.14L121.00,264.14L121.50,264.14L121.50,264.14L122.00,264.14L122.00,264.14L122.50,264.14L122.50,264.14L123.00,264.14L123.00,264.14L123.50,264.14L123.50,264.14L124.00,264.14L124.00,264.14L124.50,264.14L124.50,264.14L125.00,264.14L125.00,264.14L125.50,264.14L125.50,264.14L126.00,264.14L126.00,264.14L126.50,264.14L126.50,264.14L127.00,264.14L127.00,264.14L127.50,264.14L127.50,264.14L128.00,264.14L128.00,264.14L128.50,264.14L128.50,264.14L129.00,264.14L129.00,262.70L129.50,262.70L129.50,262.70L130.00,262.70L130.00,264.14L130.50,264.14L130.50,264.14L131.00,264.14L131.00,264.14L131.50,264.14L131.50,264.14L132.00,264.14L132.00,264.14L132.50,264.14L132.50,264.14L133.00,264.14L133.00,264.14L133.50,264.14L133.50,264.14L134.00,264.14L134.00,264.14L134.50,264.14L134.50,264.14L135.00,264.14L135.00,264.14L135.50,264.14L135.50,262.17L136.00,262.17L136.00,262.17L136.50,262.17L136.50,264.14L137.00,264.14L137.00,264.14L137.50,264.14L137.50,264.14L138.00,264.14L138.00,264.14L138.50,264.14L138.50,262.64L139.00,262.64L139.00,262.64L139.50,262.64L139.50,264.14L140.00,264.14L140.00,264.14L140.50,264.14L140.50,264.14L141.00,264.14L141.00,264.14L141.50,264.14L141.50,264.14L142.00,264.14L142.00,264.14L142.50,264.14L142.50,264.14L143.00,264.14L143.00,264.14L143.50,264.14L143.50,264.14L144.00,264.14L144.00,264.14L144.50,264.14L144.50,264.14L145.00,264.14L145.00,264.14L145.50,264.14L145.50,264.14L146.00,264.14L146.00,259.84L146.50,259.84L146.50,259.84L147.00,259.84L147.00,264.14L147.50,264.14L147.50,264.14L148.00,264.14L148.00,264.14L148.50,264.14L148.50,264.14L149.00,264.14L149.00,264.14L149.50,264.14L149.50,264.14L150.00,264.14L150.00,264.14L150.50,264.14L150.50,264.14L151.00,264.14L151.00,262.22L151.50,262.22L151.50,262.22L152.00,262.22L152.00,264.14L152.50,264.14L152.50,264.14L153.00,264.14L153.00,264.14L153.50,264.14L153.50,264.14L154.00,264.14L154.00,264.14L154.50,264.14L154.50,264.14L155.00,264.14L155.00,264.14L155.50,264.14L155.50,264.14L156.00,264.14L156.00,264.14L156.50,264.14L156.50,264.14L157.00,264.14L157.00,264.14L157.50,264.14L157.50,256.84L158.00,256.84L158.00,256.84L158.50,256.84L158.50,264.14L159.00,264.14L159.00,264.14L159.50,264.14L159.50,264.14L160.00,264.14L160.00,264.14L160.50,264.14L160.50,264.14L161.00,264.14L161.00,264.14L161.50,264.14L161.50,264.14L162.00,264.14L162.00,264.14L162.50,264.14L162.50,264.14L163.00,264.14L163.00,264.14L163.50,264.14L163.50,264.14L164.00,264.14L164.00,264.14L164.50,264.14L164.50,264.14L165.00,264.14L165.00,264.14L165.50,264.14L165.50,263.37L166.00,263.37L166.00,263.37L166.50,263.37L166.50,264.14L167.00,264.14L167.00,264.14L167.50,264.14L167.50,264.14L168.00,264.14L168.00,264.14L168.50,264.14L168.50,264.14L169.00,264.14L169.00,264.14L169.50,264.14L169.50,264.14L170.00,264.14L170.00,264.14L170.50,264.14L170.50,264.14L171.00,264.14L171.00,264.14L171.50,264.14L171.50,264.14L172.00,264.14L172.00,264.14L172.50,264.14L172.50,264.14L173.00,264.14L173.00,264.14L173.50,264.14L173.50,264.14L174.00,264.14L174.00,264.14L174.50,264.14L174.50,261.54L175.00,261.54L175.00,261.54L175.50,261.54L175.50,264.14L176.00,264.14L176.00,264.14L176.50,264.14L176.50,264.14L177.00,264.14L177.00,264.14L177.50,264.14L177.50,264.14L178.00,264.14L178.00,262.54L178.50,262.54L178.50,262.54L179.00,262.54L179.00,264.14L179.50,264.14L179.50,264.14L180.00,264.14L180.00,262.35L180.50,262.35L180.50,262.35L181.00,262.35L181.00,264.14L181.50,264.14L181.50,264.14L182.00,264.14L182.00,264.14L182.50,264.14L182.50,264.14L183.00,264.14L183.00,264.14L183.50,264.14L183.50,264.14L184.00,264.14L184.00,260.54L184.50,260.54L184.50,260.54L185.00,260.54L185.00,264.14L185.50,264.14L185.50,256.84L186.00,256.84L186.00,256.84L186.50,256.84L186.50,261.33L187.00,261.33L187.00,264.14L187.50,264.14L187.50,264.14L188.00,264.14L188.00,264.14L188.50,264.14L188.50,264.14L189.00,264.14L189.00,261.54L189.50,261.54L189.50,261.54L190.00,261.54L190.00,264.14L190.50,264.14L190.50,264.14L191.00,264.14L191.00,264.14L191.50,264.14L191.50,262.61L192.00,262.61L192.00,262.61L192.50,262.61L192.50,264.14L193.00,264.14L193.00,264.14L193.50,264.14L193.50,264.14L194.00,264.14L194.00,264.14L194.50,264.14L194.50,261.54L195.00,261.54L195.00,261.54L195.50,261.54L195.50,264.14L196.00,264.14L196.00,264.14L196.50,264.14L196.50,264.14L197.00,264.14L197.00,264.14L197.50,264.14L197.50,264.14L198.00,264.14L198.00,264.14L198.50,264.14L198.50,258.54L199.00,258.54L199.00,258.54L199.50,258.54L199.50,264.14L200.00,264.14L200.00,240.54L200.50,240.54L200.50,240.54L201.00,240.54L201.00,251.34L201.50,251.34L201.50,257.54L202.00,257.54L202.00,257.54L202.50,257.54L202.50,261.16L203.00,261.16L203.00,263.52L203.50,263.52L203.50,258.54L204.00,258.54L204.00,258.54L204.50,258.54L204.50,264.14L205.00,264.14L205.00,264.14L205.50,264.14L205.50,264.14L206.00,264.14L206.00,262.57L206.50,262.57L206.50,262.57L207.00,262.57L207.00,264.14L207.50,264.14L207.50,262.04L208.00,262.04L208.00,262.04L208.50,262.04L208.50,264.14L209.00,264.14L209.00,264.14L209.50,264.14L209.50,264.14L210.00,264.14L210.00,264.14L210.50,264.14L210.50,264.14L211.00,264.14L211.00,263.38L211.50,263.38L211.50,263.38L212.00,263.38L212.00,264.14L212.50,264.14L212.50,264.14L213.00,264.14L213.00,264.14L213.50,264.14L213.50,264.14L214.00,264.14L214.00,264.14L214.50,264.14L214.50,264.14L215.00,264.14L215.00,264.14L215.50,264.14L215.50,264.14L216.00,264.14L216.00,264.14L216.50,264.14L216.50,264.14L217.00,264.14L217.00,264.14L217.50,264.14L217.50,261.54L218.00,261.54L218.00,261.54L218.50,261.54L218.50,262.43L219.00,262.43L219.00,262.43L219.50,262.43L219.50,264.14L220.00,264.14L220.00,264.14L220.50,264.14L220.50,261.54L221.00,261.54L221.00,261.54L221.50,261.54L221.50,264.14L222.00,264.14L222.00,264.14L222.50,264.14L222.50,264.14L223.00,264.14L223.00,264.14L223.50,264.14L223.50,264.14L224.00,264.14L224.00,264.14L224.50,264.14L224.50,256.84L225.00,256.84L225.00,256.84L225.50,256.84L225.50,262.23L226.00,262.23L226.00,264.14L226.50,264.14L226.50,264.14L227.00,264.14L227.00,264.14L227.50,264.14L227.50,264.14L228.00,264.14L228.00,264.14L228.50,264.14L228.50,264.14L229.00,264.14L229.00,264.14L229.50,264.14L229.50,264.14L230.00,264.14L230.00,261.54L230.50,261.54L230.50,261.54L231.00,261.54L231.00,264.14L231.50,264.14L231.50,264.14L232.00,264.14L232.00,264.14L232.50,264.14L232.50,264.14L233.00,264.14L233.00,264.14L233.50,264.14L233.50,264.14L234.00,264.14L234.00,264.14L234.50,264.14L234.50,264.14L235.00,264.14L235.00,261.54L235.50,261.54L235.50,261.54L236.00,261.54L236.00,264.14L236.50,264.14L236.50,264.14L237.00,264.14L237.00,264.14L237.50,264.14L237.50,264.14L238.00,264.14L238.00,264.14L238.50,264.14L238.50,264.14L239.00,264.14L239.00,264.14L239.50,264.14L239.50,264.14L240.00,264.14L240.00,264.14L240.50,264.14L240.50,264.14L241.00,264.14L241.00,264.14L241.50,264.14L241.50,264.14L242.00,264.14L242.00,264.14L242.50,264.14L242.50,264.14L243.00,264.14L243.00,264.14L243.50,264.14L243.50,264.14L244.00,264.14L244.00,264.14L244.50,264.14L244.50,264.14L245.00,264.14L245.00,264.14L245.50,264.14L245.50,264.14L246.00,264.14L246.00,264.14L246.50,264.14L246.50,264.14L247.00,264.14L247.00,264.14L247.50,264.14L247.50,264.14L248.00,264.14L248.00,264.14L248.50,264.14L248.50,264.14L249.00,264.14L249.00,264.14L249.50,264.14L249.50,264.14L250.00,264.14L250.00,264.14L250.50,264.14L250.50,264.14L251.00,264.14L251.00,264.14L251.50,264.14L251.50,264.14L252.00,264.14L252.00,264.14L252.50,264.14L252.50,262.54L253.00,262.54L253.00,262.54L253.50,262.54L253.50,264.14L254.00,264.14L254.00,264.14L254.50,264.14L254.50,264.14L255.00,264.14L255.00,264.14L255.50,264.14L255.50,264.14L256.00,264.14L256.00,264.14L256.50,264.14L256.50,264.14L257.00,264.14L257.00,264.14L257.50,264.14L257.50,264.14L258.00,264.14L258.00,264.14L258.50,264.14L258.50,264.54Z" fill="#cc1a1e"/><rect x="22.5" y="291.46" width="235.5" height="0.9" fill="#e2e2e2"/><path d="M22.50,291.46L22.50,291.05L23.00,291.05L23.00,291.11L23.50,291.11L23.50,291.07L24.00,291.07L24.00,291.12L24.50,291.12L24.50,291.12L25.00,291.12L25.00,291.00L25.50,291.00L25.50,290.99L26.00,290.99L26.00,291.16L26.50,291.16L26.50,291.04L27.00,291.04L27.00,291.03L27.50,291.03L27.50,291.16L28.00,291.16L28.00,291.08L28.50,291.08L28.50,291.16L29.00,291.16L29.00,291.08L29.50,291.08L29.50,291.12L30.00,291.12L30.00,291.01L30.50,291.01L30.50,291.11L31.00,291.11L31.00,291.16L31.50,291.16L31.50,291.09L32.00,291.09L32.00,291.13L32.50,291.13L32.50,291.12L33.00,291.12L33.00,290.98L33.50,290.98L33.50,291.13L34.00,291.13L34.00,291.10L34.50,291.10L34.50,291.03L35.00,291.03L35.00,290.97L35.50,290.97L35.50,291.15L36.00,291.15L36.00,291.06L36.50,291.06L36.50,291.12L37.00,291.12L37.00,291.15L37.50,291.15L37.50,291.12L38.00,291.12L38.00,291.16L38.50,291.16L38.50,291.04L39.00,291.04L39.00,291.13L39.50,291.13L39.50,291.05L40.00,291.05L40.00,291.16L40.50,291.16L40.50,291.15L41.00,291.15L41.00,290.97L41.50,290.97L41.50,290.97L42.00,290.97L42.00,290.99L42.50,290.99L42.50,291.16L43.00,291.16L43.00,291.04L43.50,291.04L43.50,291.08L44.00,291.08L44.00,291.00L44.50,291.00L44.50,291.05L45.00,291.05L45.00,291.02L45.50,291.02L45.50,291.01L46.00,291.01L46.00,291.07L46.50,291.07L46.50,291.07L47.00,291.07L47.00,291.14L47.50,291.14L47.50,291.09L48.00,291.09L48.00,291.15L48.50,291.15L48.50,291.13L49.00,291.13L49.00,291.16L49.50,291.16L49.50,291.08L50.00,291.08L50.00,290.96L50.50,290.96L50.50,291.13L51.00,291.13L51.00,291.15L51.50,291.15L51.50,291.13L52.00,291.13L52.00,291.05L52.50,291.05L52.50,291.09L53.00,291.09L53.00,290.96L53.50,290.96L53.50,291.11L54.00,291.11L54.00,291.05L54.50,291.05L54.50,290.97L55.00,290.97L55.00,290.92L55.50,290.92L55.50,291.11L56.00,291.11L56.00,291.15L56.50,291.15L56.50,290.92L57.00,290.92L57.00,291.10L57.50,291.10L57.50,291.00L58.00,291.00L58.00,290.93L58.50,290.93L58.50,290.96L59.00,290.96L59.00,291.09L59.50,291.09L59.50,291.11L60.00,291.11L60.00,290.90L60.50,290.90L60.50,290.94L61.00,290.94L61.00,290.61L61.50,290.61L61.50,290.78L62.00,290.78L62.00,290.48L62.50,290.48L62.50,290.77L63.00,290.77L63.00,290.82L63.50,290.82L63.50,290.57L64.00,290.57L64.00,290.83L64.50,290.83L64.50,290.47L65.00,290.47L65.00,290.35L65.50,290.35L65.50,290.62L66.00,290.62L66.00,290.33L66.50,290.33L66.50,290.41L67.00,290.41L67.00,290.52L67.50,290.52L67.50,290.63L68.00,290.63L68.00,290.39L68.50,290.39L68.50,290.33L69.00,290.33L69.00,290.76L69.50,290.76L69.50,290.47L70.00,290.47L70.00,290.81L70.50,290.81L70.50,290.77L71.00,290.77L71.00,290.51L71.50,290.51L71.50,290.55L72.00,290.55L72.00,290.58L72.50,290.58L72.50,290.64L73.00,290.64L73.00,290.62L73.50,290.62L73.50,290.60L74.00,290.60L74.00,290.63L74.50,290.63L74.50,290.80L75.00,290.80L75.00,290.57L75.50,290.57L75.50,290.53L76.00,290.53L76.00,290.68L76.50,290.68L76.50,290.43L77.00,290.43L77.00,290.47L77.50,290.47L77.50,290.82L78.00,290.82L78.00,290.58L78.50,290.58L78.50,290.59L79.00,290.59L79.00,290.32L79.50,290.32L79.50,290.52L80.00,290.52L80.00,290.61L80.50,290.61L80.50,290.32L81.00,290.32L81.00,290.62L81.50,290.62L81.50,290.63L82.00,290.63L82.00,290.32L82.50,290.32L82.50,290.62L83.00,290.62L83.00,290.53L83.50,290.53L83.50,290.64L84.00,290.64L84.00,290.46L84.50,290.46L84.50,290.65L85.00,290.65L85.00,290.66L85.50,290.66L85.50,290.27L86.00,290.27L86.00,290.29L86.50,290.29L86.50,290.62L87.00,290.62L87.00,290.77L87.50,290.77L87.50,290.38L88.00,290.38L88.00,290.49L88.50,290.49L88.50,290.56L89.00,290.56L89.00,290.40L89.50,290.40L89.50,290.42L90.00,290.42L90.00,290.39L90.50,290.39L90.50,290.42L91.00,290.42L91.00,290.54L91.50,290.54L91.50,290.37L92.00,290.37L92.00,290.41L92.50,290.41L92.50,290.63L93.00,290.63L93.00,290.20L93.50,290.20L93.50,290.51L94.00,290.51L94.00,290.60L94.50,290.60L94.50,290.35L95.00,290.35L95.00,290.30L95.50,290.30L95.50,290.63L96.00,290.63L96.00,290.30L96.50,290.30L96.50,290.26L97.00,290.26L97.00,290.40L97.50,290.40L97.50,290.56L98.00,290.56L98.00,290.20L98.50,290.20L98.50,290.33L99.00,290.33L99.00,290.33L99.50,290.33L99.50,290.62L100.00,290.62L100.00,290.38L100.50,290.38L100.50,290.63L101.00,290.63L101.00,290.21L101.50,290.21L101.50,290.31L102.00,290.31L102.00,290.50L102.50,290.50L102.50,290.64L103.00,290.64L103.00,290.37L103.50,290.37L103.50,290.22L104.00,290.22L104.00,290.16L104.50,290.16L104.50,290.15L105.00,290.15L105.00,289.57L105.50,289.57L105.50,289.92L106.00,289.92L106.00,289.74L106.50,289.74L106.50,288.93L107.00,288.93L107.00,289.05L107.50,289.05L107.50,289.70L108.00,289.70L108.00,289.50L108.50,289.50L108.50,289.70L109.00,289.70L109.00,289.13L109.50,289.13L109.50,288.86L110.00,288.86L110.00,289.06L110.50,289.06L110.50,289.69L111.00,289.69L111.00,289.04L111.50,289.04L111.50,287.14L112.00,287.14L112.00,285.39L112.50,285.39L112.50,285.36L113.00,285.36L113.00,285.28L113.50,285.28L113.50,287.00L114.00,287.00L114.00,284.33L114.50,284.33L114.50,283.76L115.00,283.76L115.00,286.99L115.50,286.99L115.50,286.74L116.00,286.74L116.00,287.09L116.50,287.09L116.50,285.10L117.00,285.10L117.00,286.91L117.50,286.91L117.50,286.80L118.00,286.80L118.00,284.21L118.50,284.21L118.50,286.08L119.00,286.08L119.00,286.38L119.50,286.38L119.50,285.71L120.00,285.71L120.00,285.14L120.50,285.14L120.50,284.25L121.00,284.25L121.00,284.40L121.50,284.40L121.50,283.93L122.00,283.93L122.00,283.28L122.50,283.28L122.50,285.23L123.00,285.23L123.00,284.03L123.50,284.03L123.50,286.01L124.00,286.01L124.00,283.01L124.50,283.01L124.50,285.57L125.00,285.57L125.00,283.75L125.50,283.75L125.50,284.15L126.00,284.15L126.00,283.23L126.50,283.23L126.50,283.33L127.00,283.33L127.00,281.46L127.50,281.46L127.50,278.17L128.00,278.17L128.00,282.67L128.50,282.67L128.50,279.39L129.00,279.39L129.00,280.27L129.50,280.27L129.50,282.48L130.00,282.48L130.00,281.80L130.50,281.80L130.50,280.88L131.00,280.88L131.00,283.76L131.50,283.76L131.50,281.54L132.00,281.54L132.00,279.59L132.50,279.59L132.50,278.72L133.00,278.72L133.00,282.45L133.50,282.45L133.50,279.63L134.00,279.63L134.00,281.48L134.50,281.48L134.50,278.20L135.00,278.20L135.00,276.79L135.50,276.79L135.50,279.15L136.00,279.15L136.00,281.13L136.50,281.13L136.50,276.28L137.00,276.28L137.00,280.80L137.50,280.80L137.50,281.70L138.00,281.70L138.00,280.76L138.50,280.76L138.50,280.82L139.00,280.82L139.00,274.50L139.50,274.50L139.50,279.17L140.00,279.17L140.00,280.91L140.50,280.91L140.50,274.49L141.00,274.49L141.00,276.11L141.50,276.11L141.50,275.99L142.00,275.99L142.00,277.95L142.50,277.95L142.50,277.03L143.00,277.03L143.00,277.34L143.50,277.34L143.50,279.71L144.00,279.71L144.00,273.30L144.50,273.30L144.50,273.63L145.00,273.63L145.00,274.11L145.50,274.11L145.50,273.82L146.00,273.82L146.00,273.07L146.50,273.07L146.50,280.65L147.00,280.65L147.00,279.43L147.50,279.43L147.50,272.39L148.00,272.39L148.00,275.88L148.50,275.88L148.50,274.77L149.00,274.77L149.00,275.34L149.50,275.34L149.50,276.21L150.00,276.21L150.00,279.10L150.50,279.10L150.50,279.12L151.00,279.12L151.00,277.97L151.50,277.97L151.50,278.58L152.00,278.58L152.00,281.17L152.50,281.17L152.50,281.96L153.00,281.96L153.00,285.42L153.50,285.42L153.50,283.67L154.00,283.67L154.00,279.07L154.50,279.07L154.50,273.72L155.00,273.72L155.00,271.37L155.50,271.37L155.50,274.08L156.00,274.08L156.00,276.95L156.50,276.95L156.50,279.17L157.00,279.17L157.00,276.53L157.50,276.53L157.50,280.55L158.00,280.55L158.00,279.87L158.50,279.87L158.50,279.65L159.00,279.65L159.00,280.45L159.50,280.45L159.50,282.30L160.00,282.30L160.00,284.38L160.50,284.38L160.50,282.76L161.00,282.76L161.00,283.82L161.50,283.82L161.50,282.34L162.00,282.34L162.00,280.89L162.50,280.89L162.50,282.15L163.00,282.15L163.00,282.77L163.50,282.77L163.50,279.77L164.00,279.77L164.00,282.16L164.50,282.16L164.50,282.63L165.00,282.63L165.00,285.21L165.50,285.21L165.50,285.47L166.00,285.47L166.00,282.85L166.50,282.85L166.50,285.29L167.00,285.29L167.00,284.79L167.50,284.79L167.50,282.33L168.00,282.33L168.00,283.27L168.50,283.27L168.50,281.68L169.00,281.68L169.00,284.90L169.50,284.90L169.50,284.19L170.00,284.19L170.00,285.24L170.50,285.24L170.50,284.87L171.00,284.87L171.00,284.38L171.50,284.38L171.50,284.76L172.00,284.76L172.00,284.08L172.50,284.08L172.50,282.14L173.00,282.14L173.00,284.35L173.50,284.35L173.50,281.94L174.00,281.94L174.00,282.64L174.50,282.64L174.50,285.39L175.00,285.39L175.00,282.44L175.50,282.44L175.50,283.74L176.00,283.74L176.00,284.87L176.50,284.87L176.50,287.99L177.00,287.99L177.00,287.23L177.50,287.23L177.50,285.77L178.00,285.77L178.00,287.17L178.50,287.17L178.50,283.85L179.00,283.85L179.00,285.75L179.50,285.75L179.50,285.05L180.00,285.05L180.00,285.72L180.50,285.72L180.50,286.20L181.00,286.20L181.00,284.66L181.50,284.66L181.50,285.57L182.00,285.57L182.00,282.41L182.50,282.41L182.50,285.44L183.00,285.44L183.00,284.38L183.50,284.38L183.50,285.22L184.00,285.22L184.00,282.70L184.50,282.70L184.50,285.36L185.00,285.36L185.00,286.13L185.50,286.13L185.50,282.51L186.00,282.51L186.00,283.60L186.50,283.60L186.50,284.59L187.00,284.59L187.00,285.69L187.50,285.69L187.50,283.95L188.00,283.95L188.00,284.41L188.50,284.41L188.50,285.34L189.00,285.34L189.00,287.03L189.50,287.03L189.50,287.91L190.00,287.91L190.00,287.68L190.50,287.68L190.50,287.66L191.00,287.66L191.00,287.76L191.50,287.76L191.50,287.71L192.00,287.71L192.00,287.88L192.50,287.88L192.50,287.26L193.00,287.26L193.00,288.12L193.50,288.12L193.50,289.06L194.00,289.06L194.00,288.03L194.50,288.03L194.50,288.69L195.00,288.69L195.00,287.64L195.50,287.64L195.50,288.65L196.00,288.65L196.00,288.80L196.50,288.80L196.50,289.66L197.00,289.66L197.00,290.58L197.50,290.58L197.50,290.56L198.00,290.56L198.00,290.65L198.50,290.65L198.50,290.78L199.00,290.78L199.00,290.40L199.50,290.40L199.50,290.38L200.00,290.38L200.00,290.71L200.50,290.71L200.50,290.80L201.00,290.80L201.00,290.60L201.50,290.60L201.50,290.57L202.00,290.57L202.00,290.71L202.50,290.71L202.50,290.44L203.00,290.44L203.00,290.49L203.50,290.49L203.50,289.96L204.00,289.96L204.00,289.96L204.50,289.96L204.50,290.52L205.00,290.52L205.00,290.48L205.50,290.48L205.50,290.71L206.00,290.71L206.00,290.84L206.50,290.84L206.50,290.52L207.00,290.52L207.00,290.72L207.50,290.72L207.50,290.59L208.00,290.59L208.00,290.80L208.50,290.80L208.50,290.67L209.00,290.67L209.00,290.53L209.50,290.53L209.50,290.50L210.00,290.50L210.00,290.42L210.50,290.42L210.50,290.64L211.00,290.64L211.00,290.59L211.50,290.59L211.50,290.50L212.00,290.50L212.00,290.59L212.50,290.59L212.50,290.57L213.00,290.57L213.00,290.79L213.50,290.79L213.50,290.50L214.00,290.50L214.00,290.89L214.50,290.89L214.50,290.66L215.00,290.66L215.00,290.72L215.50,290.72L215.50,290.66L216.00,290.66L216.00,290.83L216.50,290.83L216.50,290.82L217.00,290.82L217.00,290.71L217.50,290.71L217.50,290.68L218.00,290.68L218.00,290.79L218.50,290.79L218.50,290.85L219.00,290.85L219.00,290.65L219.50,290.65L219.50,289.66L220.00,289.66L220.00,289.66L220.50,289.66L220.50,290.69L221.00,290.69L221.00,290.59L221.50,290.59L221.50,290.59L222.00,290.59L222.00,290.80L222.50,290.80L222.50,290.79L223.00,290.79L223.00,290.91L223.50,290.91L223.50,290.87L224.00,290.87L224.00,290.61L224.50,290.61L224.50,290.59L225.00,290.59L225.00,290.62L225.50,290.62L225.50,290.60L226.00,290.60L226.00,290.82L226.50,290.82L226.50,290.89L227.00,290.89L227.00,289.69L227.50,289.69L227.50,289.69L228.00,289.69L228.00,290.90L228.50,290.90L228.50,290.67L229.00,290.67L229.00,290.72L229.50,290.72L229.50,290.85L230.00,290.85L230.00,290.59L230.50,290.59L230.50,290.59L231.00,290.59L231.00,289.96L231.50,289.96L231.50,289.96L232.00,289.96L232.00,290.71L232.50,290.71L232.50,290.80L233.00,290.80L233.00,290.84L233.50,290.84L233.50,290.58L234.00,290.58L234.00,290.71L234.50,290.71L234.50,290.76L235.00,290.76L235.00,290.78L235.50,290.78L235.50,290.67L236.00,290.67L236.00,290.82L236.50,290.82L236.50,290.97L237.00,290.97L237.00,290.75L237.50,290.75L237.50,290.81L238.00,290.81L238.00,290.65L238.50,290.65L238.50,290.72L239.00,290.72L239.00,290.87L239.50,290.87L239.50,290.66L240.00,290.66L240.00,290.96L240.50,290.96L240.50,290.97L241.00,290.97L241.00,290.67L241.50,290.67L241.50,290.98L242.00,290.98L242.00,290.78L242.50,290.78L242.50,290.93L243.00,290.93L243.00,290.92L243.50,290.92L243.50,290.76L244.00,290.76L244.00,290.90L244.50,290.90L244.50,290.89L245.00,290.89L245.00,290.95L245.50,290.95L245.50,290.76L246.00,290.76L246.00,290.94L246.50,290.94L246.50,291.01L247.00,291.01L247.00,290.91L247.50,290.91L247.50,290.38L248.00,290.38L248.00,290.38L248.50,290.38L248.50,290.86L249.00,290.86L249.00,290.81L249.50,290.81L249.50,290.94L250.00,290.94L250.00,290.93L250.50,290.93L250.50,290.89L251.00,290.89L251.00,290.77L251.50,290.77L251.50,290.93L252.00,290.93L252.00,290.92L252.50,290.92L252.50,290.78L253.00,290.78L253.00,291.02L253.50,291.02L253.50,290.94L254.00,290.94L254.00,290.77L254.50,290.77L254.50,291.04L255.00,291.04L255.00,290.78L255.50,290.78L255.50,290.84L256.00,290.84L256.00,290.97L256.50,290.97L256.50,290.94L257.00,290.94L257.00,290.93L257.50,290.93L257.50,290.96L258.00,290.96L258.00,290.25L258.50,290.25L258.50,291.46Z" fill="#5a419b"/><rect x="22.5" y="318.38" width="235.5" height="0.9" fill="#e2e2e2"/><path d="M22.50,318.38L22.50,318.06L23.00,318.06L23.00,318.04L23.50,318.04L23.50,318.08L24.00,318.08L24.00,318.04L24.50,318.04L24.50,318.02L25.00,318.02L25.00,318.07L25.50,318.07L25.50,318.08L26.00,318.08L26.00,318.08L26.50,318.08L26.50,318.08L27.00,318.08L27.00,318.03L27.50,318.03L27.50,318.08L28.00,318.08L28.00,318.03L28.50,318.03L28.50,318.01L29.00,318.01L29.00,318.00L29.50,318.00L29.50,318.01L30.00,318.01L30.00,318.08L30.50,318.08L30.50,318.08L31.00,318.08L31.00,318.08L31.50,318.08L31.50,318.08L32.00,318.08L32.00,318.00L32.50,318.00L32.50,318.02L33.00,318.02L33.00,318.07L33.50,318.07L33.50,318.08L34.00,318.08L34.00,318.08L34.50,318.08L34.50,318.08L35.00,318.08L35.00,317.96L35.50,317.96L35.50,318.06L36.00,318.06L36.00,318.07L36.50,318.07L36.50,318.03L37.00,318.03L37.00,317.96L37.50,317.96L37.50,318.02L38.00,318.02L38.00,317.94L38.50,317.94L38.50,318.08L39.00,318.08L39.00,318.08L39.50,318.08L39.50,318.03L40.00,318.03L40.00,317.97L40.50,317.97L40.50,318.08L41.00,318.08L41.00,318.02L41.50,318.02L41.50,318.08L42.00,318.08L42.00,318.08L42.50,318.08L42.50,318.00L43.00,318.00L43.00,317.98L43.50,317.98L43.50,318.02L44.00,318.02L44.00,317.98L44.50,317.98L44.50,317.91L45.00,317.91L45.00,317.94L45.50,317.94L45.50,318.06L46.00,318.06L46.00,317.88L46.50,317.88L46.50,317.87L47.00,317.87L47.00,318.01L47.50,318.01L47.50,317.92L48.00,317.92L48.00,317.98L48.50,317.98L48.50,317.96L49.00,317.96L49.00,317.93L49.50,317.93L49.50,318.08L50.00,318.08L50.00,317.89L50.50,317.89L50.50,317.94L51.00,317.94L51.00,317.88L51.50,317.88L51.50,317.99L52.00,317.99L52.00,317.89L52.50,317.89L52.50,317.91L53.00,317.91L53.00,318.01L53.50,318.01L53.50,317.90L54.00,317.90L54.00,317.95L54.50,317.95L54.50,318.04L55.00,318.04L55.00,317.83L55.50,317.83L55.50,317.82L56.00,317.82L56.00,317.86L56.50,317.86L56.50,318.00L57.00,318.00L57.00,317.96L57.50,317.96L57.50,317.85L58.00,317.85L58.00,317.87L58.50,317.87L58.50,317.83L59.00,317.83L59.00,317.90L59.50,317.90L59.50,317.79L60.00,317.79L60.00,317.96L60.50,317.96L60.50,318.02L61.00,318.02L61.00,318.03L61.50,318.03L61.50,317.97L62.00,317.97L62.00,318.03L62.50,318.03L62.50,317.76L63.00,317.76L63.00,317.83L63.50,317.83L63.50,318.02L64.00,318.02L64.00,317.97L64.50,317.97L64.50,317.86L65.00,317.86L65.00,318.01L65.50,318.01L65.50,317.92L66.00,317.92L66.00,317.97L66.50,317.97L66.50,317.81L67.00,317.81L67.00,317.78L67.50,317.78L67.50,317.85L68.00,317.85L68.00,317.76L68.50,317.76L68.50,317.83L69.00,317.83L69.00,318.00L69.50,318.00L69.50,317.81L70.00,317.81L70.00,317.71L70.50,317.71L70.50,317.72L71.00,317.72L71.00,317.75L71.50,317.75L71.50,317.94L72.00,317.94L72.00,317.80L72.50,317.80L72.50,317.78L73.00,317.78L73.00,317.72L73.50,317.72L73.50,317.99L74.00,317.99L74.00,317.81L74.50,317.81L74.50,317.74L75.00,317.74L75.00,317.69L75.50,317.69L75.50,317.66L76.00,317.66L76.00,317.66L76.50,317.66L76.50,317.81L77.00,317.81L77.00,317.59L77.50,317.59L77.50,317.51L78.00,317.51L78.00,317.66L78.50,317.66L78.50,317.53L79.00,317.53L79.00,317.83L79.50,317.83L79.50,317.41L80.00,317.41L80.00,317.57L80.50,317.57L80.50,317.66L81.00,317.66L81.00,317.46L81.50,317.46L81.50,317.73L82.00,317.73L82.00,317.44L82.50,317.44L82.50,317.28L83.00,317.28L83.00,317.34L83.50,317.34L83.50,317.09L84.00,317.09L84.00,317.29L84.50,317.29L84.50,317.15L85.00,317.15L85.00,317.53L85.50,317.53L85.50,317.47L86.00,317.47L86.00,317.23L86.50,317.23L86.50,316.88L87.00,316.88L87.00,317.00L87.50,317.00L87.50,316.96L88.00,316.96L88.00,316.90L88.50,316.90L88.50,316.89L89.00,316.89L89.00,317.35L89.50,317.35L89.50,316.76L90.00,316.76L90.00,316.65L90.50,316.65L90.50,317.31L91.00,317.31L91.00,316.95L91.50,316.95L91.50,317.28L92.00,317.28L92.00,316.69L92.50,316.69L92.50,317.11L93.00,317.11L93.00,316.82L93.50,316.82L93.50,316.91L94.00,316.91L94.00,316.81L94.50,316.81L94.50,316.49L95.00,316.49L95.00,315.98L95.50,315.98L95.50,316.04L96.00,316.04L96.00,316.77L96.50,316.77L96.50,316.76L97.00,316.76L97.00,316.74L97.50,316.74L97.50,315.94L98.00,315.94L98.00,316.30L98.50,316.30L98.50,315.74L99.00,315.74L99.00,314.61L99.50,314.61L99.50,315.48L100.00,315.48L100.00,315.46L100.50,315.46L100.50,316.20L101.00,316.20L101.00,316.75L101.50,316.75L101.50,316.21L102.00,316.21L102.00,316.87L102.50,316.87L102.50,316.85L103.00,316.85L103.00,315.68L103.50,315.68L103.50,316.75L104.00,316.75L104.00,316.68L104.50,316.68L104.50,316.20L105.00,316.20L105.00,315.23L105.50,315.23L105.50,316.40L106.00,316.40L106.00,315.14L106.50,315.14L106.50,316.38L107.00,316.38L107.00,315.83L107.50,315.83L107.50,314.73L108.00,314.73L108.00,314.81L108.50,314.81L108.50,315.55L109.00,315.55L109.00,315.35L109.50,315.35L109.50,315.60L110.00,315.60L110.00,315.88L110.50,315.88L110.50,314.41L111.00,314.41L111.00,313.88L111.50,313.88L111.50,315.68L112.00,315.68L112.00,313.69L112.50,313.69L112.50,314.09L113.00,314.09L113.00,309.43L113.50,309.43L113.50,312.31L114.00,312.31L114.00,312.13L114.50,312.13L114.50,312.47L115.00,312.47L115.00,310.96L115.50,310.96L115.50,312.35L116.00,312.35L116.00,309.21L116.50,309.21L116.50,311.27L117.00,311.27L117.00,309.61L117.50,309.61L117.50,312.15L118.00,312.15L118.00,311.53L118.50,311.53L118.50,310.01L119.00,310.01L119.00,310.19L119.50,310.19L119.50,307.67L120.00,307.67L120.00,307.61L120.50,307.61L120.50,310.29L121.00,310.29L121.00,309.68L121.50,309.68L121.50,311.50L122.00,311.50L122.00,310.12L122.50,310.12L122.50,307.62L123.00,307.62L123.00,308.68L123.50,308.68L123.50,310.73L124.00,310.73L124.00,309.36L124.50,309.36L124.50,305.46L125.00,305.46L125.00,309.56L125.50,309.56L125.50,308.75L126.00,308.75L126.00,302.49L126.50,302.49L126.50,305.68L127.00,305.68L127.00,304.20L127.50,304.20L127.50,307.14L128.00,307.14L128.00,303.16L128.50,303.16L128.50,302.28L129.00,302.28L129.00,304.10L129.50,304.10L129.50,307.88L130.00,307.88L130.00,300.31L130.50,300.31L130.50,299.91L131.00,299.91L131.00,303.93L131.50,303.93L131.50,305.96L132.00,305.96L132.00,302.04L132.50,302.04L132.50,300.81L133.00,300.81L133.00,304.61L133.50,304.61L133.50,303.41L134.00,303.41L134.00,295.49L134.50,295.49L134.50,303.78L135.00,303.78L135.00,295.78L135.50,295.78L135.50,297.28L136.00,297.28L136.00,303.37L136.50,303.37L136.50,299.17L137.00,299.17L137.00,303.41L137.50,303.41L137.50,297.10L138.00,297.10L138.00,304.64L138.50,304.64L138.50,297.85L139.00,297.85L139.00,297.91L139.50,297.91L139.50,301.59L140.00,301.59L140.00,300.38L140.50,300.38L140.50,302.10L141.00,302.10L141.00,305.43L141.50,305.43L141.50,303.33L142.00,303.33L142.00,296.02L142.50,296.02L142.50,298.85L143.00,298.85L143.00,301.01L143.50,301.01L143.50,300.18L144.00,300.18L144.00,302.38L144.50,302.38L144.50,299.62L145.00,299.62L145.00,294.82L145.50,294.82L145.50,296.34L146.00,296.34L146.00,302.81L146.50,302.81L146.50,296.92L147.00,296.92L147.00,301.38L147.50,301.38L147.50,303.67L148.00,303.67L148.00,299.06L148.50,299.06L148.50,299.34L149.00,299.34L149.00,298.17L149.50,298.17L149.50,294.05L150.00,294.05L150.00,303.31L150.50,303.31L150.50,300.36L151.00,300.36L151.00,306.55L151.50,306.55L151.50,302.61L152.00,302.61L152.00,308.31L152.50,308.31L152.50,308.85L153.00,308.85L153.00,308.98L153.50,308.98L153.50,305.62L154.00,305.62L154.00,300.70L154.50,300.70L154.50,305.13L155.00,305.13L155.00,300.21L155.50,300.21L155.50,302.14L156.00,302.14L156.00,295.31L156.50,295.31L156.50,293.38L157.00,293.38L157.00,295.94L157.50,295.94L157.50,304.37L158.00,304.37L158.00,299.92L158.50,299.92L158.50,306.81L159.00,306.81L159.00,302.66L159.50,302.66L159.50,304.83L160.00,304.83L160.00,303.47L160.50,303.47L160.50,306.05L161.00,306.05L161.00,302.55L161.50,302.55L161.50,305.34L162.00,305.34L162.00,309.50L162.50,309.50L162.50,303.47L163.00,303.47L163.00,306.31L163.50,306.31L163.50,303.03L164.00,303.03L164.00,302.05L164.50,302.05L164.50,301.74L165.00,301.74L165.00,303.76L165.50,303.76L165.50,311.11L166.00,311.11L166.00,311.73L166.50,311.73L166.50,311.67L167.00,311.67L167.00,311.78L167.50,311.78L167.50,312.54L168.00,312.54L168.00,309.00L168.50,309.00L168.50,311.03L169.00,311.03L169.00,310.74L169.50,310.74L169.50,311.18L170.00,311.18L170.00,312.85L170.50,312.85L170.50,312.17L171.00,312.17L171.00,313.13L171.50,313.13L171.50,309.68L172.00,309.68L172.00,311.99L172.50,311.99L172.50,312.17L173.00,312.17L173.00,312.54L173.50,312.54L173.50,312.13L174.00,312.13L174.00,313.05L174.50,313.05L174.50,311.13L175.00,311.13L175.00,313.57L175.50,313.57L175.50,312.11L176.00,312.11L176.00,313.21L176.50,313.21L176.50,314.51L177.00,314.51L177.00,314.35L177.50,314.35L177.50,313.34L178.00,313.34L178.00,313.17L178.50,313.17L178.50,313.46L179.00,313.46L179.00,314.27L179.50,314.27L179.50,315.25L180.00,315.25L180.00,315.03L180.50,315.03L180.50,313.80L181.00,313.80L181.00,313.84L181.50,313.84L181.50,314.91L182.00,314.91L182.00,313.63L182.50,313.63L182.50,313.98L183.00,313.98L183.00,313.06L183.50,313.06L183.50,313.51L184.00,313.51L184.00,314.40L184.50,314.40L184.50,314.79L185.00,314.79L185.00,314.64L185.50,314.64L185.50,314.09L186.00,314.09L186.00,315.47L186.50,315.47L186.50,314.76L187.00,314.76L187.00,313.74L187.50,313.74L187.50,313.58L188.00,313.58L188.00,315.63L188.50,315.63L188.50,315.68L189.00,315.68L189.00,315.56L189.50,315.56L189.50,314.91L190.00,314.91L190.00,314.32L190.50,314.32L190.50,314.08L191.00,314.08L191.00,314.63L191.50,314.63L191.50,314.77L192.00,314.77L192.00,316.18L192.50,316.18L192.50,316.26L193.00,316.26L193.00,316.23L193.50,316.23L193.50,315.52L194.00,315.52L194.00,315.85L194.50,315.85L194.50,316.13L195.00,316.13L195.00,317.03L195.50,317.03L195.50,316.47L196.00,316.47L196.00,317.24L196.50,317.24L196.50,317.36L197.00,317.36L197.00,317.49L197.50,317.49L197.50,317.71L198.00,317.71L198.00,317.35L198.50,317.35L198.50,317.49L199.00,317.49L199.00,317.30L199.50,317.30L199.50,317.28L200.00,317.28L200.00,316.49L200.50,316.49L200.50,316.49L201.00,316.49L201.00,317.31L201.50,317.31L201.50,317.28L202.00,317.28L202.00,317.76L202.50,317.76L202.50,317.41L203.00,317.41L203.00,317.71L203.50,317.71L203.50,317.62L204.00,317.62L204.00,317.64L204.50,317.64L204.50,317.61L205.00,317.61L205.00,317.76L205.50,317.76L205.50,317.72L206.00,317.72L206.00,317.12L206.50,317.12L206.50,317.12L207.00,317.12L207.00,317.65L207.50,317.65L207.50,317.66L208.00,317.66L208.00,317.59L208.50,317.59L208.50,317.57L209.00,317.57L209.00,317.41L209.50,317.41L209.50,317.74L210.00,317.74L210.00,317.57L210.50,317.57L210.50,317.38L211.00,317.38L211.00,317.43L211.50,317.43L211.50,317.76L212.00,317.76L212.00,317.49L212.50,317.49L212.50,317.55L213.00,317.55L213.00,317.69L213.50,317.69L213.50,317.77L214.00,317.77L214.00,317.54L214.50,317.54L214.50,317.57L215.00,317.57L215.00,317.59L215.50,317.59L215.50,317.42L216.00,317.42L216.00,317.79L216.50,317.79L216.50,317.43L217.00,317.43L217.00,317.84L217.50,317.84L217.50,317.50L218.00,317.50L218.00,317.50L218.50,317.50L218.50,317.80L219.00,317.80L219.00,317.79L219.50,317.79L219.50,317.55L220.00,317.55L220.00,317.69L220.50,317.69L220.50,317.66L221.00,317.66L221.00,317.76L221.50,317.76L221.50,317.55L222.00,317.55L222.00,316.61L222.50,316.61L222.50,316.61L223.00,316.61L223.00,317.77L223.50,317.77L223.50,317.86L224.00,317.86L224.00,317.06L224.50,317.06L224.50,317.06L225.00,317.06L225.00,317.84L225.50,317.84L225.50,317.84L226.00,317.84L226.00,317.75L226.50,317.75L226.50,317.57L227.00,317.57L227.00,317.77L227.50,317.77L227.50,317.89L228.00,317.89L228.00,317.66L228.50,317.66L228.50,317.79L229.00,317.79L229.00,317.89L229.50,317.89L229.50,317.79L230.00,317.79L230.00,317.58L230.50,317.58L230.50,317.80L231.00,317.80L231.00,317.67L231.50,317.67L231.50,317.89L232.00,317.89L232.00,317.83L232.50,317.83L232.50,317.71L233.00,317.71L233.00,317.92L233.50,317.92L233.50,317.83L234.00,317.83L234.00,317.73L234.50,317.73L234.50,317.91L235.00,317.91L235.00,317.93L235.50,317.93L235.50,317.93L236.00,317.93L236.00,317.93L236.50,317.93L236.50,317.86L237.00,317.86L237.00,317.88L237.50,317.88L237.50,317.85L238.00,317.85L238.00,317.23L238.50,317.23L238.50,317.23L239.00,317.23L239.00,317.78L239.50,317.78L239.50,317.70L240.00,317.70L240.00,317.91L240.50,317.91L240.50,317.84L241.00,317.84L241.00,317.86L241.50,317.86L241.50,317.88L242.00,317.88L242.00,317.78L242.50,317.78L242.50,317.77L243.00,317.77L243.00,317.74L243.50,317.74L243.50,317.95L244.00,317.95L244.00,317.99L244.50,317.99L244.50,317.94L245.00,317.94L245.00,317.77L245.50,317.77L245.50,317.19L246.00,317.19L246.00,317.19L246.50,317.19L246.50,317.90L247.00,317.90L247.00,317.76L247.50,317.76L247.50,318.00L248.00,318.00L248.00,317.94L248.50,317.94L248.50,317.07L249.00,317.07L249.00,317.07L249.50,317.07L249.50,317.98L250.00,317.98L250.00,317.80L250.50,317.80L250.50,317.93L251.00,317.93L251.00,317.84L251.50,317.84L251.50,317.90L252.00,317.90L252.00,318.04L252.50,318.04L252.50,318.01L253.00,318.01L253.00,318.03L253.50,318.03L253.50,316.60L254.00,316.60L254.00,316.60L254.50,316.60L254.50,317.99L255.00,317.99L255.00,317.86L255.50,317.86L255.50,317.95L256.00,317.95L256.00,318.08L256.50,318.08L256.50,318.04L257.00,318.04L257.00,318.07L257.50,318.07L257.50,317.95L258.00,317.95L258.00,318.04L258.50,318.04L258.50,318.38Z" fill="#cc1a1e"/><rect x="22.5" y="345.3" width="235.5" height="0.9" fill="#e2e2e2"/><path d="M22.50,345.30L22.50,342.50L23.00,342.50L23.00,342.50L23.50,342.50L23.50,342.50L24.00,342.50L24.00,342.50L24.50,342.50L24.50,342.50L25.00,342.50L25.00,341.72L25.50,341.72L25.50,341.72L26.00,341.72L26.00,341.30L26.50,341.30L26.50,341.30L27.00,341.30L27.00,342.50L27.50,342.50L27.50,342.50L28.00,342.50L28.00,341.87L28.50,341.87L28.50,342.50L29.00,342.50L29.00,342.11L29.50,342.11L29.50,342.50L30.00,342.50L30.00,342.50L30.50,342.50L30.50,341.68L31.00,341.68L31.00,342.05L31.50,342.05L31.50,342.16L32.00,342.16L32.00,342.50L32.50,342.50L32.50,342.50L33.00,342.50L33.00,341.93L33.50,341.93L33.50,342.50L34.00,342.50L34.00,341.89L34.50,341.89L34.50,342.15L35.00,342.15L35.00,341.86L35.50,341.86L35.50,341.63L36.00,341.63L36.00,340.93L36.50,340.93L36.50,340.93L37.00,340.93L37.00,342.02L37.50,342.02L37.50,342.50L38.00,342.50L38.00,342.50L38.50,342.50L38.50,342.15L39.00,342.15L39.00,340.05L39.50,340.05L39.50,340.05L40.00,340.05L40.00,342.50L40.50,342.50L40.50,341.98L41.00,341.98L41.00,341.69L41.50,341.69L41.50,341.69L42.00,341.69L42.00,341.31L42.50,341.31L42.50,341.31L43.00,341.31L43.00,341.66L43.50,341.66L43.50,341.66L44.00,341.66L44.00,341.89L44.50,341.89L44.50,341.85L45.00,341.85L45.00,341.70L45.50,341.70L45.50,342.14L46.00,342.14L46.00,342.50L46.50,342.50L46.50,341.58L47.00,341.58L47.00,342.50L47.50,342.50L47.50,342.20L48.00,342.20L48.00,342.14L48.50,342.14L48.50,342.50L49.00,342.50L49.00,342.46L49.50,342.46L49.50,342.15L50.00,342.15L50.00,342.45L50.50,342.45L50.50,342.50L51.00,342.50L51.00,341.65L51.50,341.65L51.50,342.50L52.00,342.50L52.00,341.59L52.50,341.59L52.50,340.95L53.00,340.95L53.00,340.95L53.50,340.95L53.50,341.57L54.00,341.57L54.00,342.50L54.50,342.50L54.50,342.22L55.00,342.22L55.00,342.50L55.50,342.50L55.50,341.54L56.00,341.54L56.00,341.61L56.50,341.61L56.50,341.86L57.00,341.86L57.00,342.50L57.50,342.50L57.50,341.89L58.00,341.89L58.00,342.50L58.50,342.50L58.50,342.50L59.00,342.50L59.00,342.50L59.50,342.50L59.50,342.16L60.00,342.16L60.00,342.17L60.50,342.17L60.50,342.18L61.00,342.18L61.00,342.45L61.50,342.45L61.50,340.50L62.00,340.50L62.00,341.86L62.50,341.86L62.50,342.05L63.00,342.05L63.00,342.28L63.50,342.28L63.50,340.20L64.00,340.20L64.00,342.50L64.50,342.50L64.50,340.53L65.00,340.53L65.00,340.55L65.50,340.55L65.50,340.55L66.00,340.55L66.00,341.80L66.50,341.80L66.50,341.48L67.00,341.48L67.00,342.50L67.50,342.50L67.50,341.97L68.00,341.97L68.00,341.38L68.50,341.38L68.50,341.32L69.00,341.32L69.00,340.93L69.50,340.93L69.50,340.62L70.00,340.62L70.00,340.72L70.50,340.72L70.50,342.01L71.00,342.01L71.00,342.50L71.50,342.50L71.50,340.54L72.00,340.54L72.00,340.18L72.50,340.18L72.50,342.50L73.00,342.50L73.00,341.34L73.50,341.34L73.50,340.94L74.00,340.94L74.00,340.41L74.50,340.41L74.50,341.35L75.00,341.35L75.00,341.95L75.50,341.95L75.50,340.84L76.00,340.84L76.00,340.68L76.50,340.68L76.50,339.54L77.00,339.54L77.00,342.05L77.50,342.05L77.50,339.29L78.00,339.29L78.00,340.62L78.50,340.62L78.50,341.63L79.00,341.63L79.00,339.29L79.50,339.29L79.50,341.16L80.00,341.16L80.00,340.39L80.50,340.39L80.50,340.39L81.00,340.39L81.00,341.14L81.50,341.14L81.50,338.71L82.00,338.71L82.00,339.77L82.50,339.77L82.50,338.66L83.00,338.66L83.00,341.09L83.50,341.09L83.50,339.00L84.00,339.00L84.00,339.50L84.50,339.50L84.50,340.98L85.00,340.98L85.00,339.70L85.50,339.70L85.50,339.73L86.00,339.73L86.00,336.02L86.50,336.02L86.50,336.23L87.00,336.23L87.00,337.68L87.50,337.68L87.50,331.74L88.00,331.74L88.00,321.70L88.50,321.70L88.50,321.70L89.00,321.70L89.00,333.27L89.50,333.27L89.50,335.56L90.00,335.56L90.00,330.30L90.50,330.30L90.50,330.30L91.00,330.30L91.00,336.55L91.50,336.55L91.50,336.30L92.00,336.30L92.00,335.33L92.50,335.33L92.50,335.27L93.00,335.27L93.00,337.53L93.50,337.53L93.50,340.73L94.00,340.73L94.00,341.90L94.50,341.90L94.50,340.42L95.00,340.42L95.00,341.71L95.50,341.71L95.50,341.70L96.00,341.70L96.00,341.49L96.50,341.49L96.50,341.43L97.00,341.43L97.00,341.73L97.50,341.73L97.50,340.63L98.00,340.63L98.00,341.63L98.50,341.63L98.50,340.46L99.00,340.46L99.00,341.07L99.50,341.07L99.50,339.85L100.00,339.85L100.00,339.85L100.50,339.85L100.50,340.61L101.00,340.61L101.00,340.86L101.50,340.86L101.50,341.59L102.00,341.59L102.00,341.40L102.50,341.40L102.50,339.84L103.00,339.84L103.00,341.31L103.50,341.31L103.50,340.50L104.00,340.50L104.00,341.66L104.50,341.66L104.50,336.30L105.00,336.30L105.00,336.30L105.50,336.30L105.50,341.59L106.00,341.59L106.00,342.00L106.50,342.00L106.50,340.77L107.00,340.77L107.00,341.59L107.50,341.59L107.50,341.84L108.00,341.84L108.00,342.09L108.50,342.09L108.50,340.78L109.00,340.78L109.00,342.13L109.50,342.13L109.50,342.21L110.00,342.21L110.00,341.71L110.50,341.71L110.50,342.50L111.00,342.50L111.00,342.45L111.50,342.45L111.50,341.25L112.00,341.25L112.00,341.28L112.50,341.28L112.50,340.29L113.00,340.29L113.00,342.12L113.50,342.12L113.50,342.40L114.00,342.40L114.00,341.15L114.50,341.15L114.50,341.73L115.00,341.73L115.00,341.81L115.50,341.81L115.50,341.84L116.00,341.84L116.00,340.32L116.50,340.32L116.50,341.98L117.00,341.98L117.00,341.44L117.50,341.44L117.50,341.67L118.00,341.67L118.00,341.00L118.50,341.00L118.50,341.02L119.00,341.02L119.00,341.97L119.50,341.97L119.50,341.59L120.00,341.59L120.00,341.82L120.50,341.82L120.50,339.94L121.00,339.94L121.00,340.30L121.50,340.30L121.50,341.07L122.00,341.07L122.00,341.63L122.50,341.63L122.50,340.46L123.00,340.46L123.00,341.73L123.50,341.73L123.50,341.59L124.00,341.59L124.00,339.99L124.50,339.99L124.50,341.16L125.00,341.16L125.00,340.49L125.50,340.49L125.50,340.03L126.00,340.03L126.00,340.24L126.50,340.24L126.50,340.74L127.00,340.74L127.00,340.38L127.50,340.38L127.50,340.41L128.00,340.41L128.00,339.98L128.50,339.98L128.50,341.15L129.00,341.15L129.00,340.92L129.50,340.92L129.50,341.55L130.00,341.55L130.00,341.49L130.50,341.49L130.50,340.54L131.00,340.54L131.00,342.34L131.50,342.34L131.50,339.90L132.00,339.90L132.00,340.99L132.50,340.99L132.50,340.65L133.00,340.65L133.00,341.01L133.50,341.01L133.50,340.22L134.00,340.22L134.00,342.15L134.50,342.15L134.50,340.92L135.00,340.92L135.00,340.01L135.50,340.01L135.50,340.42L136.00,340.42L136.00,340.17L136.50,340.17L136.50,341.38L137.00,341.38L137.00,340.83L137.50,340.83L137.50,341.48L138.00,341.48L138.00,342.50L138.50,342.50L138.50,342.12L139.00,342.12L139.00,341.05L139.50,341.05L139.50,342.11L140.00,342.11L140.00,341.65L140.50,341.65L140.50,340.92L141.00,340.92L141.00,340.31L141.50,340.31L141.50,341.53L142.00,341.53L142.00,341.44L142.50,341.44L142.50,342.50L143.00,342.50L143.00,341.32L143.50,341.32L143.50,341.32L144.00,341.32L144.00,340.88L144.50,340.88L144.50,342.33L145.00,342.33L145.00,339.94L145.50,339.94L145.50,340.23L146.00,340.23L146.00,341.46L146.50,341.46L146.50,341.59L147.00,341.59L147.00,340.32L147.50,340.32L147.50,341.63L148.00,341.63L148.00,342.33L148.50,342.33L148.50,340.96L149.00,340.96L149.00,341.11L149.50,341.11L149.50,340.56L150.00,340.56L150.00,340.74L150.50,340.74L150.50,342.50L151.00,342.50L151.00,340.97L151.50,340.97L151.50,342.50L152.00,342.50L152.00,342.40L152.50,342.40L152.50,341.55L153.00,341.55L153.00,340.66L153.50,340.66L153.50,342.50L154.00,342.50L154.00,341.29L154.50,341.29L154.50,340.89L155.00,340.89L155.00,340.82L155.50,340.82L155.50,342.50L156.00,342.50L156.00,341.28L156.50,341.28L156.50,340.74L157.00,340.74L157.00,341.25L157.50,341.25L157.50,340.30L158.00,340.30L158.00,341.63L158.50,341.63L158.50,341.16L159.00,341.16L159.00,338.30L159.50,338.30L159.50,338.30L160.00,338.30L160.00,342.18L160.50,342.18L160.50,340.02L161.00,340.02L161.00,341.40L161.50,341.40L161.50,331.70L162.00,331.70L162.00,331.70L162.50,331.70L162.50,341.68L163.00,341.68L163.00,340.65L163.50,340.65L163.50,337.30L164.00,337.30L164.00,337.30L164.50,337.30L164.50,342.50L165.00,342.50L165.00,340.78L165.50,340.78L165.50,341.61L166.00,341.61L166.00,341.26L166.50,341.26L166.50,341.09L167.00,341.09L167.00,341.09L167.50,341.09L167.50,341.98L168.00,341.98L168.00,340.32L168.50,340.32L168.50,342.02L169.00,342.02L169.00,340.81L169.50,340.81L169.50,341.43L170.00,341.43L170.00,340.91L170.50,340.91L170.50,340.80L171.00,340.80L171.00,341.42L171.50,341.42L171.50,341.25L172.00,341.25L172.00,340.98L172.50,340.98L172.50,341.99L173.00,341.99L173.00,341.59L173.50,341.59L173.50,340.13L174.00,340.13L174.00,340.70L174.50,340.70L174.50,341.23L175.00,341.23L175.00,342.45L175.50,342.45L175.50,342.37L176.00,342.37L176.00,341.47L176.50,341.47L176.50,340.08L177.00,340.08L177.00,342.09L177.50,342.09L177.50,341.17L178.00,341.17L178.00,341.56L178.50,341.56L178.50,341.91L179.00,341.91L179.00,341.71L179.50,341.71L179.50,341.31L180.00,341.31L180.00,342.44L180.50,342.44L180.50,341.06L181.00,341.06L181.00,341.08L181.50,341.08L181.50,341.78L182.00,341.78L182.00,340.57L182.50,340.57L182.50,340.83L183.00,340.83L183.00,342.23L183.50,342.23L183.50,340.23L184.00,340.23L184.00,342.25L184.50,342.25L184.50,341.88L185.00,341.88L185.00,341.20L185.50,341.20L185.50,340.82L186.00,340.82L186.00,342.11L186.50,342.11L186.50,342.45L187.00,342.45L187.00,340.44L187.50,340.44L187.50,341.32L188.00,341.32L188.00,341.51L188.50,341.51L188.50,341.38L189.00,341.38L189.00,340.94L189.50,340.94L189.50,340.48L190.00,340.48L190.00,340.40L190.50,340.40L190.50,340.40L191.00,340.40L191.00,340.26L191.50,340.26L191.50,340.69L192.00,340.69L192.00,342.22L192.50,342.22L192.50,342.15L193.00,342.15L193.00,341.82L193.50,341.82L193.50,340.16L194.00,340.16L194.00,341.97L194.50,341.97L194.50,342.50L195.00,342.50L195.00,342.50L195.50,342.50L195.50,341.92L196.00,341.92L196.00,340.23L196.50,340.23L196.50,342.29L197.00,342.29L197.00,340.67L197.50,340.67L197.50,341.78L198.00,341.78L198.00,338.30L198.50,338.30L198.50,338.30L199.00,338.30L199.00,340.46L199.50,340.46L199.50,334.30L200.00,334.30L200.00,334.30L200.50,334.30L200.50,340.50L201.00,340.50L201.00,341.70L201.50,341.70L201.50,341.19L202.00,341.19L202.00,334.30L202.50,334.30L202.50,334.30L203.00,334.30L203.00,340.23L203.50,340.23L203.50,340.40L204.00,340.40L204.00,341.11L204.50,341.11L204.50,340.31L205.00,340.31L205.00,340.28L205.50,340.28L205.50,341.62L206.00,341.62L206.00,342.05L206.50,342.05L206.50,342.40L207.00,342.40L207.00,340.39L207.50,340.39L207.50,340.39L208.00,340.39L208.00,340.95L208.50,340.95L208.50,341.67L209.00,341.67L209.00,341.40L209.50,341.40L209.50,342.50L210.00,342.50L210.00,341.11L210.50,341.11L210.50,340.29L211.00,340.29L211.00,341.75L211.50,341.75L211.50,340.54L212.00,340.54L212.00,341.78L212.50,341.78L212.50,341.45L213.00,341.45L213.00,342.50L213.50,342.50L213.50,341.58L214.00,341.58L214.00,341.75L214.50,341.75L214.50,340.83L215.00,340.83L215.00,341.58L215.50,341.58L215.50,340.81L216.00,340.81L216.00,341.32L216.50,341.32L216.50,341.32L217.00,341.32L217.00,340.51L217.50,340.51L217.50,340.77L218.00,340.77L218.00,341.12L218.50,341.12L218.50,342.06L219.00,342.06L219.00,340.63L219.50,340.63L219.50,342.00L220.00,342.00L220.00,341.85L220.50,341.85L220.50,340.39L221.00,340.39L221.00,341.89L221.50,341.89L221.50,340.41L222.00,340.41L222.00,340.50L222.50,340.50L222.50,341.70L223.00,341.70L223.00,340.79L223.50,340.79L223.50,342.43L224.00,342.43L224.00,341.42L224.50,341.42L224.50,341.02L225.00,341.02L225.00,342.23L225.50,342.23L225.50,340.27L226.00,340.27L226.00,340.30L226.50,340.30L226.50,340.33L227.00,340.33L227.00,340.58L227.50,340.58L227.50,342.50L228.00,342.50L228.00,341.94L228.50,341.94L228.50,340.77L229.00,340.77L229.00,340.50L229.50,340.50L229.50,342.50L230.00,342.50L230.00,341.90L230.50,341.90L230.50,342.30L231.00,342.30L231.00,340.57L231.50,340.57L231.50,341.80L232.00,341.80L232.00,341.11L232.50,341.11L232.50,340.81L233.00,340.81L233.00,341.06L233.50,341.06L233.50,341.78L234.00,341.78L234.00,341.10L234.50,341.10L234.50,341.20L235.00,341.20L235.00,340.23L235.50,340.23L235.50,340.23L236.00,340.23L236.00,341.87L236.50,341.87L236.50,342.27L237.00,342.27L237.00,341.33L237.50,341.33L237.50,342.39L238.00,342.39L238.00,341.54L238.50,341.54L238.50,341.73L239.00,341.73L239.00,341.69L239.50,341.69L239.50,341.84L240.00,341.84L240.00,341.24L240.50,341.24L240.50,340.48L241.00,340.48L241.00,340.32L241.50,340.32L241.50,340.75L242.00,340.75L242.00,340.34L242.50,340.34L242.50,342.49L243.00,342.49L243.00,341.46L243.50,341.46L243.50,342.17L244.00,342.17L244.00,340.25L244.50,340.25L244.50,341.44L245.00,341.44L245.00,342.50L245.50,342.50L245.50,341.82L246.00,341.82L246.00,341.34L246.50,341.34L246.50,341.43L247.00,341.43L247.00,340.51L247.50,340.51L247.50,340.65L248.00,340.65L248.00,340.66L248.50,340.66L248.50,341.21L249.00,341.21L249.00,341.24L249.50,341.24L249.50,342.48L250.00,342.48L250.00,340.65L250.50,340.65L250.50,340.91L251.00,340.91L251.00,340.97L251.50,340.97L251.50,340.68L252.00,340.68L252.00,341.00L252.50,341.00L252.50,340.37L253.00,340.37L253.00,340.37L253.50,340.37L253.50,340.36L254.00,340.36L254.00,342.50L254.50,342.50L254.50,341.21L255.00,341.21L255.00,342.50L255.50,342.50L255.50,341.05L256.00,341.05L256.00,341.05L256.50,341.05L256.50,341.34L257.00,341.34L257.00,341.34L257.50,341.34L257.50,340.59L258.00,340.59L258.00,341.56L258.50,341.56L258.50,345.30Z" fill="#5a419b"/><rect x="22.5" y="372.22" width="235.5" height="0.9" fill="#e2e2e2"/><path d="M22.50,372.22L22.50,370.82L23.00,370.82L23.00,370.82L23.50,370.82L23.50,370.65L24.00,370.65L24.00,370.34L24.50,370.34L24.50,369.99L25.00,369.99L25.00,370.82L25.50,370.82L25.50,370.61L26.00,370.61L26.00,370.82L26.50,370.82L26.50,370.47L27.00,370.47L27.00,370.82L27.50,370.82L27.50,370.32L28.00,370.32L28.00,370.82L28.50,370.82L28.50,370.82L29.00,370.82L29.00,370.50L29.50,370.50L29.50,370.67L30.00,370.67L30.00,370.82L30.50,370.82L30.50,370.18L31.00,370.18L31.00,370.68L31.50,370.68L31.50,370.82L32.00,370.82L32.00,370.27L32.50,370.27L32.50,370.82L33.00,370.82L33.00,370.82L33.50,370.82L33.50,370.82L34.00,370.82L34.00,370.35L34.50,370.35L34.50,370.00L35.00,370.00L35.00,370.82L35.50,370.82L35.50,370.82L36.00,370.82L36.00,370.48L36.50,370.48L36.50,369.98L37.00,369.98L37.00,370.12L37.50,370.12L37.50,370.74L38.00,370.74L38.00,370.24L38.50,370.24L38.50,370.82L39.00,370.82L39.00,370.66L39.50,370.66L39.50,370.10L40.00,370.10L40.00,370.75L40.50,370.75L40.50,370.32L41.00,370.32L41.00,370.82L41.50,370.82L41.50,370.82L42.00,370.82L42.00,368.69L42.50,368.69L42.50,368.69L43.00,368.69L43.00,370.79L43.50,370.79L43.50,370.82L44.00,370.82L44.00,370.82L44.50,370.82L44.50,369.79L45.00,369.79L45.00,370.28L45.50,370.28L45.50,370.63L46.00,370.63L46.00,370.18L46.50,370.18L46.50,370.61L47.00,370.61L47.00,369.85L47.50,369.85L47.50,370.82L48.00,370.82L48.00,370.50L48.50,370.50L48.50,369.12L49.00,369.12L49.00,369.12L49.50,369.12L49.50,370.16L50.00,370.16L50.00,369.98L50.50,369.98L50.50,370.41L51.00,370.41L51.00,369.88L51.50,369.88L51.50,369.98L52.00,369.98L52.00,370.82L52.50,370.82L52.50,370.73L53.00,370.73L53.00,369.66L53.50,369.66L53.50,370.82L54.00,370.82L54.00,369.66L54.50,369.66L54.50,370.14L55.00,370.14L55.00,370.82L55.50,370.82L55.50,370.15L56.00,370.15L56.00,368.95L56.50,368.95L56.50,369.12L57.00,369.12L57.00,369.15L57.50,369.15L57.50,368.51L58.00,368.51L58.00,370.61L58.50,370.61L58.50,368.33L59.00,368.33L59.00,368.78L59.50,368.78L59.50,370.00L60.00,370.00L60.00,369.15L60.50,369.15L60.50,370.56L61.00,370.56L61.00,368.77L61.50,368.77L61.50,370.55L62.00,370.55L62.00,370.34L62.50,370.34L62.50,369.80L63.00,369.80L63.00,370.33L63.50,370.33L63.50,369.25L64.00,369.25L64.00,370.18L64.50,370.18L64.50,370.10L65.00,370.10L65.00,369.41L65.50,369.41L65.50,369.30L66.00,369.30L66.00,369.87L66.50,369.87L66.50,369.14L67.00,369.14L67.00,368.34L67.50,368.34L67.50,369.96L68.00,369.96L68.00,368.78L68.50,368.78L68.50,369.32L69.00,369.32L69.00,370.05L69.50,370.05L69.50,368.54L70.00,368.54L70.00,368.16L70.50,368.16L70.50,368.41L71.00,368.41L71.00,369.56L71.50,369.56L71.50,368.99L72.00,368.99L72.00,368.73L72.50,368.73L72.50,369.21L73.00,369.21L73.00,370.39L73.50,370.39L73.50,368.71L74.00,368.71L74.00,369.10L74.50,369.10L74.50,370.26L75.00,370.26L75.00,369.59L75.50,369.59L75.50,368.73L76.00,368.73L76.00,369.24L76.50,369.24L76.50,369.25L77.00,369.25L77.00,368.41L77.50,368.41L77.50,368.99L78.00,368.99L78.00,368.81L78.50,368.81L78.50,370.06L79.00,370.06L79.00,368.85L79.50,368.85L79.50,369.69L80.00,369.69L80.00,370.47L80.50,370.47L80.50,370.35L81.00,370.35L81.00,368.97L81.50,368.97L81.50,369.49L82.00,369.49L82.00,368.70L82.50,368.70L82.50,368.84L83.00,368.84L83.00,369.02L83.50,369.02L83.50,369.81L84.00,369.81L84.00,370.17L84.50,370.17L84.50,367.45L85.00,367.45L85.00,367.40L85.50,367.40L85.50,368.63L86.00,368.63L86.00,367.39L86.50,367.39L86.50,367.31L87.00,367.31L87.00,369.04L87.50,369.04L87.50,348.72L88.00,348.72L88.00,348.72L88.50,348.72L88.50,356.94L89.00,356.94L89.00,364.22L89.50,364.22L89.50,364.22L90.00,364.22L90.00,363.22L90.50,363.22L90.50,363.22L91.00,363.22L91.00,367.73L91.50,367.73L91.50,369.06L92.00,369.06L92.00,364.22L92.50,364.22L92.50,364.22L93.00,364.22L93.00,369.66L93.50,369.66L93.50,368.70L94.00,368.70L94.00,368.63L94.50,368.63L94.50,367.54L95.00,367.54L95.00,368.33L95.50,368.33L95.50,367.70L96.00,367.70L96.00,369.14L96.50,369.14L96.50,369.09L97.00,369.09L97.00,367.74L97.50,367.74L97.50,369.18L98.00,369.18L98.00,367.64L98.50,367.64L98.50,367.68L99.00,367.68L99.00,369.26L99.50,369.26L99.50,368.74L100.00,368.74L100.00,370.01L100.50,370.01L100.50,369.23L101.00,369.23L101.00,367.61L101.50,367.61L101.50,367.61L102.00,367.61L102.00,369.13L102.50,369.13L102.50,367.67L103.00,367.67L103.00,367.93L103.50,367.93L103.50,367.93L104.00,367.93L104.00,370.04L104.50,370.04L104.50,370.00L105.00,370.00L105.00,368.73L105.50,368.73L105.50,369.42L106.00,369.42L106.00,369.70L106.50,369.70L106.50,367.83L107.00,367.83L107.00,370.14L107.50,370.14L107.50,368.77L108.00,368.77L108.00,368.70L108.50,368.70L108.50,369.67L109.00,369.67L109.00,368.72L109.50,368.72L109.50,368.23L110.00,368.23L110.00,369.48L110.50,369.48L110.50,367.62L111.00,367.62L111.00,369.74L111.50,369.74L111.50,370.25L112.00,370.25L112.00,368.26L112.50,368.26L112.50,370.14L113.00,370.14L113.00,367.68L113.50,367.68L113.50,369.90L114.00,369.90L114.00,368.25L114.50,368.25L114.50,370.21L115.00,370.21L115.00,368.68L115.50,368.68L115.50,370.09L116.00,370.09L116.00,367.54L116.50,367.54L116.50,367.70L117.00,367.70L117.00,369.79L117.50,369.79L117.50,367.39L118.00,367.39L118.00,367.39L118.50,367.39L118.50,367.55L119.00,367.55L119.00,367.95L119.50,367.95L119.50,368.52L120.00,368.52L120.00,367.61L120.50,367.61L120.50,370.30L121.00,370.30L121.00,369.65L121.50,369.65L121.50,370.17L122.00,370.17L122.00,369.46L122.50,369.46L122.50,368.44L123.00,368.44L123.00,367.68L123.50,367.68L123.50,369.55L124.00,369.55L124.00,367.79L124.50,367.79L124.50,369.03L125.00,369.03L125.00,368.79L125.50,368.79L125.50,368.88L126.00,368.88L126.00,367.68L126.50,367.68L126.50,367.68L127.00,367.68L127.00,368.95L127.50,368.95L127.50,367.56L128.00,367.56L128.00,368.97L128.50,368.97L128.50,367.90L129.00,367.90L129.00,368.28L129.50,368.28L129.50,367.91L130.00,367.91L130.00,369.09L130.50,369.09L130.50,368.58L131.00,368.58L131.00,368.11L131.50,368.11L131.50,368.11L132.00,368.11L132.00,369.08L132.50,369.08L132.50,370.07L133.00,370.07L133.00,368.67L133.50,368.67L133.50,367.95L134.00,367.95L134.00,368.38L134.50,368.38L134.50,368.17L135.00,368.17L135.00,369.11L135.50,369.11L135.50,369.72L136.00,369.72L136.00,369.10L136.50,369.10L136.50,368.02L137.00,368.02L137.00,368.41L137.50,368.41L137.50,368.57L138.00,368.57L138.00,368.74L138.50,368.74L138.50,368.62L139.00,368.62L139.00,368.34L139.50,368.34L139.50,368.34L140.00,368.34L140.00,369.37L140.50,369.37L140.50,369.53L141.00,369.53L141.00,369.33L141.50,369.33L141.50,369.78L142.00,369.78L142.00,368.55L142.50,368.55L142.50,369.39L143.00,369.39L143.00,370.25L143.50,370.25L143.50,367.97L144.00,367.97L144.00,369.27L144.50,369.27L144.50,368.59L145.00,368.59L145.00,367.68L145.50,367.68L145.50,367.62L146.00,367.62L146.00,369.65L146.50,369.65L146.50,367.83L147.00,367.83L147.00,369.52L147.50,369.52L147.50,367.79L148.00,367.79L148.00,368.55L148.50,368.55L148.50,367.60L149.00,367.60L149.00,369.05L149.50,369.05L149.50,369.09L150.00,369.09L150.00,368.15L150.50,368.15L150.50,369.11L151.00,369.11L151.00,368.80L151.50,368.80L151.50,368.34L152.00,368.34L152.00,368.85L152.50,368.85L152.50,369.56L153.00,369.56L153.00,369.96L153.50,369.96L153.50,368.00L154.00,368.00L154.00,368.44L154.50,368.44L154.50,367.86L155.00,367.86L155.00,367.84L155.50,367.84L155.50,370.29L156.00,370.29L156.00,367.67L156.50,367.67L156.50,370.12L157.00,370.12L157.00,369.64L157.50,369.64L157.50,369.43L158.00,369.43L158.00,369.58L158.50,369.58L158.50,369.36L159.00,369.36L159.00,368.34L159.50,368.34L159.50,368.78L160.00,368.78L160.00,368.10L160.50,368.10L160.50,369.95L161.00,369.95L161.00,369.72L161.50,369.72L161.50,369.75L162.00,369.75L162.00,363.22L162.50,363.22L162.50,363.22L163.00,363.22L163.00,368.25L163.50,368.25L163.50,369.76L164.00,369.76L164.00,369.63L164.50,369.63L164.50,368.51L165.00,368.51L165.00,368.51L165.50,368.51L165.50,369.46L166.00,369.46L166.00,369.72L166.50,369.72L166.50,367.81L167.00,367.81L167.00,369.22L167.50,369.22L167.50,367.64L168.00,367.64L168.00,368.58L168.50,368.58L168.50,367.88L169.00,367.88L169.00,367.91L169.50,367.91L169.50,367.63L170.00,367.63L170.00,370.13L170.50,370.13L170.50,370.21L171.00,370.21L171.00,368.77L171.50,368.77L171.50,369.88L172.00,369.88L172.00,367.70L172.50,367.70L172.50,367.95L173.00,367.95L173.00,367.58L173.50,367.58L173.50,367.75L174.00,367.75L174.00,367.57L174.50,367.57L174.50,369.88L175.00,369.88L175.00,367.81L175.50,367.81L175.50,367.22L176.00,367.22L176.00,367.22L176.50,367.22L176.50,367.93L177.00,367.93L177.00,368.74L177.50,368.74L177.50,368.07L178.00,368.07L178.00,368.47L178.50,368.47L178.50,368.64L179.00,368.64L179.00,369.23L179.50,369.23L179.50,369.14L180.00,369.14L180.00,369.32L180.50,369.32L180.50,368.91L181.00,368.91L181.00,368.33L181.50,368.33L181.50,367.95L182.00,367.95L182.00,370.05L182.50,370.05L182.50,368.11L183.00,368.11L183.00,368.83L183.50,368.83L183.50,369.83L184.00,369.83L184.00,369.18L184.50,369.18L184.50,370.22L185.00,370.22L185.00,369.83L185.50,369.83L185.50,369.01L186.00,369.01L186.00,367.91L186.50,367.91L186.50,369.23L187.00,369.23L187.00,368.90L187.50,368.90L187.50,369.98L188.00,369.98L188.00,369.06L188.50,369.06L188.50,369.52L189.00,369.52L189.00,369.84L189.50,369.84L189.50,368.90L190.00,368.90L190.00,369.93L190.50,369.93L190.50,370.09L191.00,370.09L191.00,368.02L191.50,368.02L191.50,370.14L192.00,370.14L192.00,370.01L192.50,370.01L192.50,367.94L193.00,367.94L193.00,367.94L193.50,367.94L193.50,368.29L194.00,368.29L194.00,367.96L194.50,367.96L194.50,368.63L195.00,368.63L195.00,369.97L195.50,369.97L195.50,368.61L196.00,368.61L196.00,367.61L196.50,367.61L196.50,368.45L197.00,368.45L197.00,367.83L197.50,367.83L197.50,369.33L198.00,369.33L198.00,364.22L198.50,364.22L198.50,364.22L199.00,364.22L199.00,367.85L199.50,367.85L199.50,366.41L200.00,366.41L200.00,349.22L200.50,349.22L200.50,349.22L201.00,349.22L201.00,362.16L201.50,362.16L201.50,363.22L202.00,363.22L202.00,355.22L202.50,355.22L202.50,355.22L203.00,355.22L203.00,362.66L203.50,362.66L203.50,367.60L204.00,367.60L204.00,368.18L204.50,368.18L204.50,363.22L205.00,363.22L205.00,363.22L205.50,363.22L205.50,369.25L206.00,369.25L206.00,370.01L206.50,370.01L206.50,368.63L207.00,368.63L207.00,368.63L207.50,368.63L207.50,367.81L208.00,367.81L208.00,367.99L208.50,367.99L208.50,367.93L209.00,367.93L209.00,369.29L209.50,369.29L209.50,369.61L210.00,369.61L210.00,368.05L210.50,368.05L210.50,369.02L211.00,369.02L211.00,367.94L211.50,367.94L211.50,369.52L212.00,369.52L212.00,369.78L212.50,369.78L212.50,367.87L213.00,367.87L213.00,370.33L213.50,370.33L213.50,369.46L214.00,369.46L214.00,367.98L214.50,367.98L214.50,368.60L215.00,368.60L215.00,368.07L215.50,368.07L215.50,369.64L216.00,369.64L216.00,370.16L216.50,370.16L216.50,368.12L217.00,368.12L217.00,368.15L217.50,368.15L217.50,369.37L218.00,369.37L218.00,370.00L218.50,370.00L218.50,369.67L219.00,369.67L219.00,368.90L219.50,368.90L219.50,367.95L220.00,367.95L220.00,369.33L220.50,369.33L220.50,368.90L221.00,368.90L221.00,368.21L221.50,368.21L221.50,368.21L222.00,368.21L222.00,369.13L222.50,369.13L222.50,369.13L223.00,369.13L223.00,369.37L223.50,369.37L223.50,370.15L224.00,370.15L224.00,368.40L224.50,368.40L224.50,367.66L225.00,367.66L225.00,370.07L225.50,370.07L225.50,367.74L226.00,367.74L226.00,370.38L226.50,370.38L226.50,368.90L227.00,368.90L227.00,367.83L227.50,367.83L227.50,368.41L228.00,368.41L228.00,369.63L228.50,369.63L228.50,368.71L229.00,368.71L229.00,369.37L229.50,369.37L229.50,367.94L230.00,367.94L230.00,368.49L230.50,368.49L230.50,368.68L231.00,368.68L231.00,369.94L231.50,369.94L231.50,368.07L232.00,368.07L232.00,369.49L232.50,369.49L232.50,368.95L233.00,368.95L233.00,368.77L233.50,368.77L233.50,367.72L234.00,367.72L234.00,368.08L234.50,368.08L234.50,368.08L235.00,368.08L235.00,367.96L235.50,367.96L235.50,368.89L236.00,368.89L236.00,367.71L236.50,367.71L236.50,370.39L237.00,370.39L237.00,370.32L237.50,370.32L237.50,369.53L238.00,369.53L238.00,368.99L238.50,368.99L238.50,367.87L239.00,367.87L239.00,368.01L239.50,368.01L239.50,369.60L240.00,369.60L240.00,367.29L240.50,367.29L240.50,367.29L241.00,367.29L241.00,370.03L241.50,370.03L241.50,368.63L242.00,368.63L242.00,368.38L242.50,368.38L242.50,369.16L243.00,369.16L243.00,367.61L243.50,367.61L243.50,367.61L244.00,367.61L244.00,370.09L244.50,370.09L244.50,368.92L245.00,368.92L245.00,370.36L245.50,370.36L245.50,369.64L246.00,369.64L246.00,367.82L246.50,367.82L246.50,369.72L247.00,369.72L247.00,369.49L247.50,369.49L247.50,369.38L248.00,369.38L248.00,367.71L248.50,367.71L248.50,370.08L249.00,370.08L249.00,369.04L249.50,369.04L249.50,369.16L250.00,369.16L250.00,368.16L250.50,368.16L250.50,367.80L251.00,367.80L251.00,367.74L251.50,367.74L251.50,368.27L252.00,368.27L252.00,368.53L252.50,368.53L252.50,368.12L253.00,368.12L253.00,367.86L253.50,367.86L253.50,367.86L254.00,367.86L254.00,369.61L254.50,369.61L254.50,370.10L255.00,370.10L255.00,368.30L255.50,368.30L255.50,369.68L256.00,369.68L256.00,368.67L256.50,368.67L256.50,367.96L257.00,367.96L257.00,370.08L257.50,370.08L257.50,368.68L258.00,368.68L258.00,368.22L258.50,368.22L258.50,372.22Z" fill="#cc1a1e"/><rect x="277.3" y="211.2" width="234.59999999999997" height="158.76" fill="#f8f8f8" stroke="#b4b4b4" stroke-width="0.9"/><text x="278.90000000000003" y="218.4" font-size="7.0" textLength="15.5" lengthAdjust="spacingAndGlyphs" fill="#333">[0-20]</text><text x="506.2" y="219.8" font-size="7.3" text-anchor="end" fill="#222" stroke="#222" stroke-width="0.15">WT_GATA1</text><text x="278.90000000000003" y="244.86" font-size="7.0" textLength="15.5" lengthAdjust="spacingAndGlyphs" fill="#333">[0-20]</text><text x="506.2" y="246.26" font-size="7.3" text-anchor="end" fill="#222" stroke="#222" stroke-width="0.15">G1s_GATA1s</text><text x="278.90000000000003" y="271.32" font-size="7.0" textLength="18.5" lengthAdjust="spacingAndGlyphs" fill="#333">[0-110]</text><text x="506.2" y="272.72" font-size="7.3" text-anchor="end" fill="#222" stroke="#222" stroke-width="0.15">WT_H3K27me3</text><text x="278.90000000000003" y="297.78" font-size="7.0" textLength="18.5" lengthAdjust="spacingAndGlyphs" fill="#333">[0-110]</text><text x="506.2" y="299.18" font-size="7.3" text-anchor="end" fill="#222" stroke="#222" stroke-width="0.15">G1s_H3K27me3</text><text x="278.90000000000003" y="324.24" font-size="7.0" textLength="12.6" lengthAdjust="spacingAndGlyphs" fill="#333">[0-9]</text><text x="506.2" y="325.64" font-size="7.3" text-anchor="end" fill="#222" stroke="#222" stroke-width="0.15">WT_ATAC</text><text x="278.90000000000003" y="350.7" font-size="7.0" textLength="12.6" lengthAdjust="spacingAndGlyphs" fill="#333">[0-9]</text><text x="506.2" y="352.1" font-size="7.3" text-anchor="end" fill="#222" stroke="#222" stroke-width="0.15">G1s_ATAC</text><rect x="277.9" y="237.2" width="232.0" height="0.9" fill="#e2e2e2"/><path d="M277.90,237.20L277.90,236.80L278.40,236.80L278.40,234.20L278.90,234.20L278.90,234.20L279.40,234.20L279.40,236.80L279.90,236.80L279.90,236.80L280.40,236.80L280.40,236.80L280.90,236.80L280.90,236.80L281.40,236.80L281.40,236.80L281.90,236.80L281.90,236.80L282.40,236.80L282.40,234.20L282.90,234.20L282.90,234.20L283.40,234.20L283.40,235.24L283.90,235.24L283.90,235.24L284.40,235.24L284.40,234.49L284.90,234.49L284.90,234.49L285.40,234.49L285.40,236.80L285.90,236.80L285.90,234.23L286.40,234.23L286.40,234.23L286.90,234.23L286.90,236.80L287.40,236.80L287.40,236.80L287.90,236.80L287.90,236.80L288.40,236.80L288.40,235.68L288.90,235.68L288.90,235.68L289.40,235.68L289.40,236.80L289.90,236.80L289.90,235.41L290.40,235.41L290.40,235.41L290.90,235.41L290.90,236.80L291.40,236.80L291.40,235.00L291.90,235.00L291.90,235.00L292.40,235.00L292.40,236.80L292.90,236.80L292.90,233.20L293.40,233.20L293.40,233.20L293.90,233.20L293.90,236.80L294.40,236.80L294.40,236.80L294.90,236.80L294.90,236.80L295.40,236.80L295.40,236.80L295.90,236.80L295.90,236.80L296.40,236.80L296.40,236.80L296.90,236.80L296.90,236.80L297.40,236.80L297.40,236.80L297.90,236.80L297.90,236.80L298.40,236.80L298.40,236.80L298.90,236.80L298.90,236.80L299.40,236.80L299.40,236.80L299.90,236.80L299.90,234.55L300.40,234.55L300.40,234.55L300.90,234.55L300.90,236.80L301.40,236.80L301.40,236.80L301.90,236.80L301.90,236.80L302.40,236.80L302.40,236.80L302.90,236.80L302.90,236.80L303.40,236.80L303.40,235.99L303.90,235.99L303.90,235.99L304.40,235.99L304.40,236.80L304.90,236.80L304.90,236.80L305.40,236.80L305.40,236.80L305.90,236.80L305.90,236.80L306.40,236.80L306.40,235.57L306.90,235.57L306.90,235.57L307.40,235.57L307.40,236.80L307.90,236.80L307.90,236.80L308.40,236.80L308.40,236.80L308.90,236.80L308.90,236.80L309.40,236.80L309.40,236.80L309.90,236.80L309.90,236.80L310.40,236.80L310.40,236.80L310.90,236.80L310.90,236.80L311.40,236.80L311.40,236.80L311.90,236.80L311.90,235.40L312.40,235.40L312.40,235.40L312.90,235.40L312.90,236.80L313.40,236.80L313.40,236.80L313.90,236.80L313.90,236.80L314.40,236.80L314.40,236.80L314.90,236.80L314.90,236.80L315.40,236.80L315.40,236.80L315.90,236.80L315.90,236.80L316.40,236.80L316.40,236.80L316.90,236.80L316.90,236.80L317.40,236.80L317.40,236.80L317.90,236.80L317.90,236.80L318.40,236.80L318.40,236.80L318.90,236.80L318.90,236.80L319.40,236.80L319.40,236.80L319.90,236.80L319.90,236.80L320.40,236.80L320.40,236.80L320.90,236.80L320.90,236.80L321.40,236.80L321.40,236.80L321.90,236.80L321.90,236.80L322.40,236.80L322.40,236.80L322.90,236.80L322.90,236.80L323.40,236.80L323.40,236.80L323.90,236.80L323.90,236.80L324.40,236.80L324.40,236.80L324.90,236.80L324.90,236.80L325.40,236.80L325.40,236.80L325.90,236.80L325.90,236.80L326.40,236.80L326.40,236.80L326.90,236.80L326.90,236.80L327.40,236.80L327.40,236.80L327.90,236.80L327.90,236.80L328.40,236.80L328.40,234.71L328.90,234.71L328.90,234.71L329.40,234.71L329.40,236.80L329.90,236.80L329.90,236.80L330.40,236.80L330.40,233.23L330.90,233.23L330.90,233.23L331.40,233.23L331.40,235.05L331.90,235.05L331.90,235.05L332.40,235.05L332.40,236.80L332.90,236.80L332.90,236.80L333.40,236.80L333.40,236.80L333.90,236.80L333.90,235.47L334.40,235.47L334.40,235.47L334.90,235.47L334.90,236.80L335.40,236.80L335.40,234.20L335.90,234.20L335.90,234.20L336.40,234.20L336.40,236.80L336.90,236.80L336.90,236.80L337.40,236.80L337.40,236.80L337.90,236.80L337.90,236.80L338.40,236.80L338.40,236.80L338.90,236.80L338.90,236.80L339.40,236.80L339.40,235.31L339.90,235.31L339.90,231.20L340.40,231.20L340.40,231.20L340.90,231.20L340.90,236.75L341.40,236.75L341.40,235.23L341.90,235.23L341.90,227.20L342.40,227.20L342.40,227.20L342.90,227.20L342.90,235.31L343.40,235.31L343.40,233.32L343.90,233.32L343.90,233.32L344.40,233.32L344.40,236.80L344.90,236.80L344.90,236.80L345.40,236.80L345.40,236.80L345.90,236.80L345.90,235.60L346.40,235.60L346.40,235.60L346.90,235.60L346.90,236.80L347.40,236.80L347.40,233.94L347.90,233.94L347.90,233.94L348.40,233.94L348.40,236.80L348.90,236.80L348.90,236.80L349.40,236.80L349.40,236.80L349.90,236.80L349.90,236.80L350.40,236.80L350.40,236.80L350.90,236.80L350.90,236.80L351.40,236.80L351.40,236.80L351.90,236.80L351.90,236.80L352.40,236.80L352.40,236.80L352.90,236.80L352.90,236.80L353.40,236.80L353.40,236.80L353.90,236.80L353.90,236.80L354.40,236.80L354.40,233.90L354.90,233.90L354.90,233.90L355.40,233.90L355.40,235.13L355.90,235.13L355.90,235.13L356.40,235.13L356.40,236.80L356.90,236.80L356.90,232.20L357.40,232.20L357.40,232.20L357.90,232.20L357.90,236.80L358.40,236.80L358.40,236.80L358.90,236.80L358.90,235.66L359.40,235.66L359.40,235.66L359.90,235.66L359.90,236.80L360.40,236.80L360.40,236.80L360.90,236.80L360.90,235.26L361.40,235.26L361.40,235.26L361.90,235.26L361.90,236.80L362.40,236.80L362.40,236.80L362.90,236.80L362.90,234.79L363.40,234.79L363.40,234.79L363.90,234.79L363.90,236.80L364.40,236.80L364.40,236.80L364.90,236.80L364.90,236.80L365.40,236.80L365.40,236.80L365.90,236.80L365.90,236.80L366.40,236.80L366.40,235.61L366.90,235.61L366.90,235.61L367.40,235.61L367.40,233.42L367.90,233.42L367.90,233.42L368.40,233.42L368.40,236.80L368.90,236.80L368.90,236.80L369.40,236.80L369.40,234.11L369.90,234.11L369.90,234.11L370.40,234.11L370.40,236.80L370.90,236.80L370.90,236.80L371.40,236.80L371.40,236.80L371.90,236.80L371.90,236.80L372.40,236.80L372.40,236.80L372.90,236.80L372.90,236.80L373.40,236.80L373.40,236.80L373.90,236.80L373.90,236.80L374.40,236.80L374.40,236.80L374.90,236.80L374.90,236.80L375.40,236.80L375.40,236.80L375.90,236.80L375.90,236.80L376.40,236.80L376.40,236.80L376.90,236.80L376.90,236.80L377.40,236.80L377.40,236.80L377.90,236.80L377.90,236.80L378.40,236.80L378.40,236.80L378.90,236.80L378.90,236.80L379.40,236.80L379.40,236.80L379.90,236.80L379.90,236.80L380.40,236.80L380.40,236.80L380.90,236.80L380.90,236.80L381.40,236.80L381.40,236.80L381.90,236.80L381.90,236.80L382.40,236.80L382.40,236.80L382.90,236.80L382.90,236.80L383.40,236.80L383.40,236.80L383.90,236.80L383.90,236.80L384.40,236.80L384.40,236.80L384.90,236.80L384.90,236.80L385.40,236.80L385.40,236.80L385.90,236.80L385.90,236.80L386.40,236.80L386.40,236.80L386.90,236.80L386.90,236.80L387.40,236.80L387.40,236.80L387.90,236.80L387.90,236.80L388.40,236.80L388.40,236.80L388.90,236.80L388.90,236.80L389.40,236.80L389.40,236.80L389.90,236.80L389.90,236.80L390.40,236.80L390.40,236.80L390.90,236.80L390.90,236.80L391.40,236.80L391.40,236.80L391.90,236.80L391.90,236.80L392.40,236.80L392.40,236.80L392.90,236.80L392.90,236.80L393.40,236.80L393.40,236.80L393.90,236.80L393.90,236.80L394.40,236.80L394.40,236.80L394.90,236.80L394.90,236.80L395.40,236.80L395.40,236.80L395.90,236.80L395.90,236.80L396.40,236.80L396.40,235.30L396.90,235.30L396.90,235.30L397.40,235.30L397.40,236.80L397.90,236.80L397.90,236.80L398.40,236.80L398.40,236.80L398.90,236.80L398.90,236.80L399.40,236.80L399.40,236.80L399.90,236.80L399.90,236.80L400.40,236.80L400.40,236.80L400.90,236.80L400.90,235.75L401.40,235.75L401.40,235.75L401.90,235.75L401.90,236.80L402.40,236.80L402.40,236.80L402.90,236.80L402.90,236.80L403.40,236.80L403.40,236.80L403.90,236.80L403.90,236.80L404.40,236.80L404.40,236.80L404.90,236.80L404.90,236.80L405.40,236.80L405.40,236.80L405.90,236.80L405.90,236.80L406.40,236.80L406.40,236.80L406.90,236.80L406.90,236.80L407.40,236.80L407.40,236.80L407.90,236.80L407.90,236.80L408.40,236.80L408.40,236.80L408.90,236.80L408.90,236.80L409.40,236.80L409.40,236.80L409.90,236.80L409.90,236.80L410.40,236.80L410.40,236.80L410.90,236.80L410.90,236.80L411.40,236.80L411.40,236.80L411.90,236.80L411.90,236.80L412.40,236.80L412.40,236.80L412.90,236.80L412.90,236.80L413.40,236.80L413.40,236.80L413.90,236.80L413.90,236.80L414.40,236.80L414.40,236.80L414.90,236.80L414.90,236.80L415.40,236.80L415.40,236.80L415.90,236.80L415.90,236.80L416.40,236.80L416.40,236.80L416.90,236.80L416.90,236.80L417.40,236.80L417.40,236.80L417.90,236.80L417.90,236.80L418.40,236.80L418.40,236.80L418.90,236.80L418.90,236.80L419.40,236.80L419.40,236.80L419.90,236.80L419.90,236.80L420.40,236.80L420.40,236.80L420.90,236.80L420.90,236.80L421.40,236.80L421.40,236.80L421.90,236.80L421.90,236.80L422.40,236.80L422.40,236.80L422.90,236.80L422.90,236.80L423.40,236.80L423.40,236.80L423.90,236.80L423.90,236.80L424.40,236.80L424.40,236.80L424.90,236.80L424.90,236.80L425.40,236.80L425.40,236.80L425.90,236.80L425.90,236.80L426.40,236.80L426.40,236.80L426.90,236.80L426.90,236.80L427.40,236.80L427.40,236.80L427.90,236.80L427.90,236.80L428.40,236.80L428.40,236.80L428.90,236.80L428.90,236.80L429.40,236.80L429.40,236.80L429.90,236.80L429.90,236.80L430.40,236.80L430.40,236.80L430.90,236.80L430.90,236.80L431.40,236.80L431.40,236.80L431.90,236.80L431.90,236.80L432.40,236.80L432.40,236.80L432.90,236.80L432.90,236.80L433.40,236.80L433.40,236.80L433.90,236.80L433.90,236.80L434.40,236.80L434.40,236.80L434.90,236.80L434.90,236.80L435.40,236.80L435.40,236.17L435.90,236.17L435.90,236.17L436.40,236.17L436.40,236.80L436.90,236.80L436.90,235.49L437.40,235.49L437.40,235.49L437.90,235.49L437.90,236.80L438.40,236.80L438.40,236.80L438.90,236.80L438.90,236.80L439.40,236.80L439.40,236.80L439.90,236.80L439.90,236.80L440.40,236.80L440.40,236.80L440.90,236.80L440.90,236.80L441.40,236.80L441.40,236.80L441.90,236.80L441.90,236.80L442.40,236.80L442.40,236.80L442.90,236.80L442.90,236.80L443.40,236.80L443.40,236.80L443.90,236.80L443.90,236.80L444.40,236.80L444.40,236.80L444.90,236.80L444.90,236.80L445.40,236.80L445.40,236.80L445.90,236.80L445.90,236.80L446.40,236.80L446.40,236.80L446.90,236.80L446.90,236.80L447.40,236.80L447.40,236.80L447.90,236.80L447.90,232.03L448.40,232.03L448.40,232.03L448.90,232.03L448.90,234.66L449.40,234.66L449.40,234.66L449.90,234.66L449.90,236.80L450.40,236.80L450.40,231.88L450.90,231.88L450.90,231.20L451.40,231.20L451.40,231.20L451.90,231.20L451.90,234.64L452.40,234.64L452.40,220.70L452.90,220.70L452.90,220.70L453.40,220.70L453.40,233.02L453.90,233.02L453.90,230.20L454.40,230.20L454.40,230.20L454.90,230.20L454.90,236.80L455.40,236.80L455.40,236.80L455.90,236.80L455.90,236.80L456.40,236.80L456.40,233.30L456.90,233.30L456.90,233.30L457.40,233.30L457.40,235.16L457.90,235.16L457.90,235.16L458.40,235.16L458.40,236.80L458.90,236.80L458.90,236.80L459.40,236.80L459.40,234.11L459.90,234.11L459.90,234.11L460.40,234.11L460.40,232.41L460.90,232.41L460.90,232.41L461.40,232.41L461.40,236.80L461.90,236.80L461.90,236.80L462.40,236.80L462.40,236.80L462.90,236.80L462.90,236.80L463.40,236.80L463.40,236.80L463.90,236.80L463.90,236.80L464.40,236.80L464.40,234.20L464.90,234.20L464.90,234.20L465.40,234.20L465.40,236.80L465.90,236.80L465.90,236.80L466.40,236.80L466.40,236.80L466.90,236.80L466.90,236.80L467.40,236.80L467.40,236.80L467.90,236.80L467.90,236.80L468.40,236.80L468.40,236.80L468.90,236.80L468.90,236.80L469.40,236.80L469.40,236.80L469.90,236.80L469.90,236.80L470.40,236.80L470.40,236.80L470.90,236.80L470.90,236.80L471.40,236.80L471.40,236.80L471.90,236.80L471.90,236.80L472.40,236.80L472.40,236.80L472.90,236.80L472.90,236.80L473.40,236.80L473.40,234.30L473.90,234.30L473.90,234.30L474.40,234.30L474.40,236.80L474.90,236.80L474.90,235.02L475.40,235.02L475.40,235.02L475.90,235.02L475.90,236.80L476.40,236.80L476.40,236.80L476.90,236.80L476.90,236.80L477.40,236.80L477.40,236.80L477.90,236.80L477.90,236.80L478.40,236.80L478.40,236.80L478.90,236.80L478.90,236.80L479.40,236.80L479.40,236.80L479.90,236.80L479.90,236.80L480.40,236.80L480.40,234.62L480.90,234.62L480.90,234.62L481.40,234.62L481.40,236.80L481.90,236.80L481.90,236.80L482.40,236.80L482.40,236.80L482.90,236.80L482.90,234.35L483.40,234.35L483.40,234.35L483.90,234.35L483.90,236.80L484.40,236.80L484.40,236.80L484.90,236.80L484.90,236.80L485.40,236.80L485.40,236.80L485.90,236.80L485.90,236.80L486.40,236.80L486.40,236.80L486.90,236.80L486.90,236.80L487.40,236.80L487.40,236.80L487.90,236.80L487.90,235.04L488.40,235.04L488.40,235.04L488.90,235.04L488.90,236.80L489.40,236.80L489.40,236.80L489.90,236.80L489.90,236.80L490.40,236.80L490.40,234.49L490.90,234.49L490.90,234.49L491.40,234.49L491.40,234.50L491.90,234.50L491.90,234.50L492.40,234.50L492.40,235.20L492.90,235.20L492.90,235.20L493.40,235.20L493.40,236.80L493.90,236.80L493.90,235.48L494.40,235.48L494.40,235.48L494.90,235.48L494.90,236.80L495.40,236.80L495.40,236.80L495.90,236.80L495.90,236.80L496.40,236.80L496.40,236.80L496.90,236.80L496.90,236.80L497.40,236.80L497.40,236.80L497.90,236.80L497.90,236.80L498.40,236.80L498.40,235.37L498.90,235.37L498.90,235.37L499.40,235.37L499.40,236.80L499.90,236.80L499.90,234.61L500.40,234.61L500.40,234.61L500.90,234.61L500.90,236.80L501.40,236.80L501.40,236.80L501.90,236.80L501.90,236.80L502.40,236.80L502.40,236.80L502.90,236.80L502.90,236.80L503.40,236.80L503.40,236.80L503.90,236.80L503.90,236.80L504.40,236.80L504.40,236.80L504.90,236.80L504.90,234.42L505.40,234.42L505.40,234.42L505.90,234.42L505.90,236.80L506.40,236.80L506.40,236.80L506.90,236.80L506.90,236.80L507.40,236.80L507.40,234.90L507.90,234.90L507.90,234.90L508.40,234.90L508.40,236.80L508.90,236.80L508.90,236.80L509.40,236.80L509.40,234.25L509.90,234.25L509.90,234.25L510.40,234.25L510.40,237.20Z" fill="#2d695f"/><rect x="277.9" y="263.66" width="232.0" height="0.9" fill="#e2e2e2"/><path d="M277.90,263.66L277.90,262.86L278.40,262.86L278.40,262.86L278.90,262.86L278.90,262.86L279.40,262.86L279.40,262.86L279.90,262.86L279.90,262.14L280.40,262.14L280.40,262.14L280.90,262.14L280.90,262.86L281.40,262.86L281.40,262.86L281.90,262.86L281.90,262.86L282.40,262.86L282.40,262.86L282.90,262.86L282.90,262.86L283.40,262.86L283.40,262.86L283.90,262.86L283.90,262.86L284.40,262.86L284.40,262.86L284.90,262.86L284.90,262.86L285.40,262.86L285.40,262.86L285.90,262.86L285.90,262.86L286.40,262.86L286.40,262.86L286.90,262.86L286.90,262.86L287.40,262.86L287.40,262.86L287.90,262.86L287.90,262.86L288.40,262.86L288.40,262.86L288.90,262.86L288.90,262.86L289.40,262.86L289.40,262.86L289.90,262.86L289.90,262.86L290.40,262.86L290.40,260.78L290.90,260.78L290.90,260.78L291.40,260.78L291.40,259.85L291.90,259.85L291.90,259.85L292.40,259.85L292.40,260.02L292.90,260.02L292.90,256.66L293.40,256.66L293.40,256.66L293.90,256.66L293.90,260.29L294.40,260.29L294.40,262.86L294.90,262.86L294.90,262.86L295.40,262.86L295.40,262.86L295.90,262.86L295.90,261.54L296.40,261.54L296.40,261.54L296.90,261.54L296.90,262.86L297.40,262.86L297.40,262.86L297.90,262.86L297.90,262.86L298.40,262.86L298.40,262.86L298.90,262.86L298.90,262.86L299.40,262.86L299.40,262.86L299.90,262.86L299.90,262.86L300.40,262.86L300.40,262.86L300.90,262.86L300.90,262.86L301.40,262.86L301.40,262.86L301.90,262.86L301.90,262.86L302.40,262.86L302.40,262.86L302.90,262.86L302.90,262.86L303.40,262.86L303.40,262.86L303.90,262.86L303.90,262.86L304.40,262.86L304.40,262.86L304.90,262.86L304.90,262.86L305.40,262.86L305.40,262.86L305.90,262.86L305.90,262.86L306.40,262.86L306.40,262.86L306.90,262.86L306.90,262.86L307.40,262.86L307.40,262.86L307.90,262.86L307.90,262.86L308.40,262.86L308.40,262.86L308.90,262.86L308.90,261.93L309.40,261.93L309.40,261.93L309.90,261.93L309.90,262.86L310.40,262.86L310.40,262.86L310.90,262.86L310.90,262.86L311.40,262.86L311.40,262.86L311.90,262.86L311.90,262.86L312.40,262.86L312.40,262.86L312.90,262.86L312.90,262.86L313.40,262.86L313.40,262.86L313.90,262.86L313.90,262.86L314.40,262.86L314.40,262.86L314.90,262.86L314.90,262.86L315.40,262.86L315.40,262.86L315.90,262.86L315.90,262.86L316.40,262.86L316.40,261.84L316.90,261.84L316.90,261.84L317.40,261.84L317.40,262.86L317.90,262.86L317.90,262.86L318.40,262.86L318.40,262.86L318.90,262.86L318.90,262.86L319.40,262.86L319.40,262.86L319.90,262.86L319.90,262.86L320.40,262.86L320.40,262.86L320.90,262.86L320.90,262.86L321.40,262.86L321.40,262.86L321.90,262.86L321.90,262.86L322.40,262.86L322.40,262.38L322.90,262.38L322.90,262.38L323.40,262.38L323.40,262.86L323.90,262.86L323.90,262.86L324.40,262.86L324.40,262.86L324.90,262.86L324.90,262.86L325.40,262.86L325.40,262.86L325.90,262.86L325.90,262.86L326.40,262.86L326.40,262.86L326.90,262.86L326.90,262.86L327.40,262.86L327.40,262.86L327.90,262.86L327.90,262.86L328.40,262.86L328.40,262.86L328.90,262.86L328.90,262.86L329.40,262.86L329.40,262.86L329.90,262.86L329.90,262.86L330.40,262.86L330.40,262.86L330.90,262.86L330.90,262.86L331.40,262.86L331.40,262.39L331.90,262.39L331.90,262.39L332.40,262.39L332.40,262.86L332.90,262.86L332.90,262.86L333.40,262.86L333.40,262.86L333.90,262.86L333.90,262.62L334.40,262.62L334.40,262.62L334.90,262.62L334.90,262.86L335.40,262.86L335.40,262.86L335.90,262.86L335.90,262.86L336.40,262.86L336.40,262.86L336.90,262.86L336.90,262.86L337.40,262.86L337.40,262.86L337.90,262.86L337.90,260.69L338.40,260.69L338.40,260.69L338.90,260.69L338.90,262.86L339.40,262.86L339.40,262.86L339.90,262.86L339.90,262.86L340.40,262.86L340.40,260.08L340.90,260.08L340.90,255.66L341.40,255.66L341.40,255.66L341.90,255.66L341.90,245.66L342.40,245.66L342.40,245.66L342.90,245.66L342.90,255.66L343.40,255.66L343.40,255.66L343.90,255.66L343.90,260.79L344.40,260.79L344.40,260.79L344.90,260.79L344.90,262.86L345.40,262.86L345.40,258.83L345.90,258.83L345.90,258.83L346.40,258.83L346.40,262.86L346.90,262.86L346.90,262.86L347.40,262.86L347.40,262.86L347.90,262.86L347.90,260.80L348.40,260.80L348.40,260.80L348.90,260.80L348.90,259.61L349.40,259.61L349.40,259.61L349.90,259.61L349.90,262.86L350.40,262.86L350.40,259.00L350.90,259.00L350.90,259.00L351.40,259.00L351.40,262.86L351.90,262.86L351.90,260.35L352.40,260.35L352.40,260.35L352.90,260.35L352.90,262.86L353.40,262.86L353.40,257.66L353.90,257.66L353.90,257.66L354.40,257.66L354.40,261.86L354.90,261.86L354.90,262.86L355.40,262.86L355.40,262.86L355.90,262.86L355.90,262.86L356.40,262.86L356.40,262.86L356.90,262.86L356.90,262.86L357.40,262.86L357.40,262.86L357.90,262.86L357.90,262.86L358.40,262.86L358.40,257.66L358.90,257.66L358.90,257.66L359.40,257.66L359.40,262.86L359.90,262.86L359.90,262.86L360.40,262.86L360.40,259.53L360.90,259.53L360.90,259.53L361.40,259.53L361.40,262.86L361.90,262.86L361.90,262.86L362.40,262.86L362.40,262.86L362.90,262.86L362.90,262.86L363.40,262.86L363.40,262.86L363.90,262.86L363.90,262.86L364.40,262.86L364.40,262.86L364.90,262.86L364.90,260.60L365.40,260.60L365.40,260.60L365.90,260.60L365.90,258.86L366.40,258.86L366.40,258.86L366.90,258.86L366.90,262.86L367.40,262.86L367.40,262.86L367.90,262.86L367.90,262.86L368.40,262.86L368.40,260.06L368.90,260.06L368.90,260.06L369.40,260.06L369.40,262.86L369.90,262.86L369.90,262.86L370.40,262.86L370.40,262.86L370.90,262.86L370.90,262.86L371.40,262.86L371.40,262.86L371.90,262.86L371.90,262.86L372.40,262.86L372.40,262.86L372.90,262.86L372.90,262.86L373.40,262.86L373.40,262.86L373.90,262.86L373.90,262.86L374.40,262.86L374.40,262.86L374.90,262.86L374.90,262.86L375.40,262.86L375.40,262.86L375.90,262.86L375.90,262.86L376.40,262.86L376.40,262.17L376.90,262.17L376.90,262.17L377.40,262.17L377.40,262.86L377.90,262.86L377.90,262.86L378.40,262.86L378.40,262.86L378.90,262.86L378.90,262.86L379.40,262.86L379.40,262.86L379.90,262.86L379.90,262.86L380.40,262.86L380.40,262.86L380.90,262.86L380.90,262.30L381.40,262.30L381.40,262.30L381.90,262.30L381.90,262.86L382.40,262.86L382.40,262.86L382.90,262.86L382.90,262.86L383.40,262.86L383.40,262.86L383.90,262.86L383.90,262.86L384.40,262.86L384.40,262.86L384.90,262.86L384.90,262.86L385.40,262.86L385.40,262.86L385.90,262.86L385.90,262.86L386.40,262.86L386.40,262.86L386.90,262.86L386.90,262.86L387.40,262.86L387.40,262.86L387.90,262.86L387.90,262.86L388.40,262.86L388.40,262.86L388.90,262.86L388.90,262.86L389.40,262.86L389.40,262.86L389.90,262.86L389.90,262.86L390.40,262.86L390.40,262.86L390.90,262.86L390.90,262.86L391.40,262.86L391.40,262.86L391.90,262.86L391.90,262.86L392.40,262.86L392.40,262.86L392.90,262.86L392.90,262.86L393.40,262.86L393.40,262.86L393.90,262.86L393.90,262.86L394.40,262.86L394.40,262.86L394.90,262.86L394.90,262.86L395.40,262.86L395.40,262.86L395.90,262.86L395.90,262.86L396.40,262.86L396.40,262.86L396.90,262.86L396.90,262.86L397.40,262.86L397.40,262.86L397.90,262.86L397.90,262.86L398.40,262.86L398.40,262.86L398.90,262.86L398.90,261.86L399.40,261.86L399.40,261.86L399.90,261.86L399.90,262.86L400.40,262.86L400.40,262.86L400.90,262.86L400.90,262.86L401.40,262.86L401.40,262.86L401.90,262.86L401.90,262.86L402.40,262.86L402.40,262.86L402.90,262.86L402.90,262.86L403.40,262.86L403.40,262.86L403.90,262.86L403.90,262.86L404.40,262.86L404.40,262.86L404.90,262.86L404.90,262.86L405.40,262.86L405.40,262.86L405.90,262.86L405.90,262.86L406.40,262.86L406.40,262.86L406.90,262.86L406.90,262.86L407.40,262.86L407.40,262.86L407.90,262.86L407.90,262.86L408.40,262.86L408.40,262.86L408.90,262.86L408.90,262.86L409.40,262.86L409.40,262.86L409.90,262.86L409.90,262.86L410.40,262.86L410.40,262.86L410.90,262.86L410.90,262.86L411.40,262.86L411.40,262.86L411.90,262.86L411.90,262.86L412.40,262.86L412.40,262.86L412.90,262.86L412.90,262.86L413.40,262.86L413.40,262.86L413.90,262.86L413.90,262.86L414.40,262.86L414.40,262.86L414.90,262.86L414.90,262.86L415.40,262.86L415.40,262.86L415.90,262.86L415.90,262.86L416.40,262.86L416.40,262.86L416.90,262.86L416.90,262.86L417.40,262.86L417.40,262.86L417.90,262.86L417.90,262.86L418.40,262.86L418.40,262.35L418.90,262.35L418.90,262.35L419.40,262.35L419.40,262.49L419.90,262.49L419.90,262.49L420.40,262.49L420.40,262.86L420.90,262.86L420.90,262.86L421.40,262.86L421.40,262.86L421.90,262.86L421.90,262.86L422.40,262.86L422.40,262.86L422.90,262.86L422.90,262.86L423.40,262.86L423.40,262.86L423.90,262.86L423.90,262.86L424.40,262.86L424.40,262.86L424.90,262.86L424.90,262.86L425.40,262.86L425.40,262.86L425.90,262.86L425.90,262.86L426.40,262.86L426.40,262.86L426.90,262.86L426.90,262.86L427.40,262.86L427.40,262.86L427.90,262.86L427.90,262.86L428.40,262.86L428.40,262.86L428.90,262.86L428.90,262.86L429.40,262.86L429.40,262.86L429.90,262.86L429.90,262.86L430.40,262.86L430.40,262.86L430.90,262.86L430.90,262.86L431.40,262.86L431.40,262.86L431.90,262.86L431.90,262.86L432.40,262.86L432.40,262.86L432.90,262.86L432.90,262.86L433.40,262.86L433.40,262.86L433.90,262.86L433.90,262.86L434.40,262.86L434.40,262.86L434.90,262.86L434.90,262.86L435.40,262.86L435.40,262.86L435.90,262.86L435.90,262.86L436.40,262.86L436.40,262.86L436.90,262.86L436.90,262.86L437.40,262.86L437.40,262.86L437.90,262.86L437.90,262.86L438.40,262.86L438.40,262.86L438.90,262.86L438.90,262.86L439.40,262.86L439.40,262.86L439.90,262.86L439.90,262.86L440.40,262.86L440.40,262.41L440.90,262.41L440.90,262.41L441.40,262.41L441.40,262.86L441.90,262.86L441.90,262.86L442.40,262.86L442.40,262.86L442.90,262.86L442.90,262.86L443.40,262.86L443.40,262.86L443.90,262.86L443.90,262.86L444.40,262.86L444.40,262.86L444.90,262.86L444.90,262.43L445.40,262.43L445.40,262.43L445.90,262.43L445.90,262.86L446.40,262.86L446.40,262.86L446.90,262.86L446.90,262.86L447.40,262.86L447.40,262.86L447.90,262.86L447.90,262.86L448.40,262.86L448.40,262.80L448.90,262.80L448.90,258.66L449.40,258.66L449.40,258.66L449.90,258.66L449.90,258.63L450.40,258.63L450.40,244.66L450.90,244.66L450.90,244.66L451.40,244.66L451.40,255.35L451.90,255.35L451.90,239.66L452.40,239.66L452.40,239.66L452.90,239.66L452.90,250.46L453.40,250.46L453.40,244.66L453.90,244.66L453.90,244.66L454.40,244.66L454.40,252.97L454.90,252.97L454.90,250.66L455.40,250.66L455.40,250.66L455.90,250.66L455.90,257.16L456.40,257.16L456.40,255.66L456.90,255.66L456.90,255.66L457.40,255.66L457.40,262.86L457.90,262.86L457.90,262.86L458.40,262.86L458.40,262.86L458.90,262.86L458.90,262.86L459.40,262.86L459.40,262.86L459.90,262.86L459.90,262.86L460.40,262.86L460.40,262.86L460.90,262.86L460.90,262.86L461.40,262.86L461.40,262.86L461.90,262.86L461.90,262.86L462.40,262.86L462.40,262.86L462.90,262.86L462.90,262.86L463.40,262.86L463.40,262.86L463.90,262.86L463.90,262.86L464.40,262.86L464.40,262.86L464.90,262.86L464.90,262.86L465.40,262.86L465.40,262.86L465.90,262.86L465.90,262.86L466.40,262.86L466.40,262.86L466.90,262.86L466.90,262.86L467.40,262.86L467.40,262.86L467.90,262.86L467.90,262.86L468.40,262.86L468.40,262.86L468.90,262.86L468.90,262.86L469.40,262.86L469.40,262.86L469.90,262.86L469.90,262.86L470.40,262.86L470.40,262.86L470.90,262.86L470.90,262.86L471.40,262.86L471.40,262.86L471.90,262.86L471.90,262.86L472.40,262.86L472.40,262.86L472.90,262.86L472.90,262.86L473.40,262.86L473.40,262.86L473.90,262.86L473.90,262.86L474.40,262.86L474.40,262.86L474.90,262.86L474.90,262.86L475.40,262.86L475.40,262.86L475.90,262.86L475.90,262.86L476.40,262.86L476.40,262.86L476.90,262.86L476.90,262.86L477.40,262.86L477.40,262.86L477.90,262.86L477.90,262.86L478.40,262.86L478.40,262.86L478.90,262.86L478.90,262.86L479.40,262.86L479.40,262.86L479.90,262.86L479.90,262.86L480.40,262.86L480.40,262.86L480.90,262.86L480.90,262.86L481.40,262.86L481.40,262.86L481.90,262.86L481.90,255.66L482.40,255.66L482.40,255.66L482.90,255.66L482.90,262.86L483.40,262.86L483.40,262.86L483.90,262.86L483.90,262.86L484.40,262.86L484.40,262.86L484.90,262.86L484.90,262.86L485.40,262.86L485.40,262.86L485.90,262.86L485.90,262.86L486.40,262.86L486.40,262.86L486.90,262.86L486.90,262.86L487.40,262.86L487.40,262.86L487.90,262.86L487.90,262.86L488.40,262.86L488.40,262.86L488.90,262.86L488.90,262.86L489.40,262.86L489.40,262.86L489.90,262.86L489.90,262.86L490.40,262.86L490.40,262.86L490.90,262.86L490.90,262.86L491.40,262.86L491.40,262.86L491.90,262.86L491.90,262.86L492.40,262.86L492.40,262.86L492.90,262.86L492.90,262.86L493.40,262.86L493.40,262.86L493.90,262.86L493.90,262.86L494.40,262.86L494.40,262.86L494.90,262.86L494.90,262.86L495.40,262.86L495.40,262.86L495.90,262.86L495.90,262.86L496.40,262.86L496.40,262.86L496.90,262.86L496.90,262.86L497.40,262.86L497.40,262.86L497.90,262.86L497.90,261.77L498.40,261.77L498.40,261.77L498.90,261.77L498.90,262.86L499.40,262.86L499.40,262.86L499.90,262.86L499.90,262.86L500.40,262.86L500.40,262.86L500.90,262.86L500.90,262.86L501.40,262.86L501.40,262.86L501.90,262.86L501.90,262.86L502.40,262.86L502.40,262.86L502.90,262.86L502.90,262.86L503.40,262.86L503.40,262.86L503.90,262.86L503.90,262.86L504.40,262.86L504.40,262.86L504.90,262.86L504.90,262.86L505.40,262.86L505.40,262.86L505.90,262.86L505.90,262.86L506.40,262.86L506.40,262.86L506.90,262.86L506.90,262.86L507.40,262.86L507.40,262.86L507.90,262.86L507.90,262.86L508.40,262.86L508.40,262.86L508.90,262.86L508.90,262.86L509.40,262.86L509.40,262.86L509.90,262.86L509.90,262.86L510.40,262.86L510.40,263.66Z" fill="#19288c"/><rect x="277.9" y="290.12" width="232.0" height="0.9" fill="#e2e2e2"/><path d="M277.90,290.12L277.90,289.78L278.40,289.78L278.40,289.82L278.90,289.82L278.90,289.82L279.40,289.82L279.40,289.82L279.90,289.82L279.90,289.76L280.40,289.76L280.40,289.77L280.90,289.77L280.90,289.76L281.40,289.76L281.40,289.76L281.90,289.76L281.90,289.82L282.40,289.82L282.40,289.75L282.90,289.75L282.90,289.80L283.40,289.80L283.40,289.76L283.90,289.76L283.90,289.77L284.40,289.77L284.40,289.78L284.90,289.78L284.90,289.82L285.40,289.82L285.40,289.81L285.90,289.81L285.90,289.72L286.40,289.72L286.40,289.76L286.90,289.76L286.90,289.74L287.40,289.74L287.40,289.82L287.90,289.82L287.90,289.82L288.40,289.82L288.40,289.82L288.90,289.82L288.90,289.82L289.40,289.82L289.40,289.82L289.90,289.82L289.90,289.82L290.40,289.82L290.40,289.82L290.90,289.82L290.90,289.74L291.40,289.74L291.40,289.82L291.90,289.82L291.90,289.77L292.40,289.77L292.40,289.81L292.90,289.81L292.90,289.78L293.40,289.78L293.40,289.76L293.90,289.76L293.90,289.75L294.40,289.75L294.40,289.76L294.90,289.76L294.90,289.74L295.40,289.74L295.40,289.71L295.90,289.71L295.90,289.81L296.40,289.81L296.40,289.81L296.90,289.81L296.90,289.82L297.40,289.82L297.40,289.79L297.90,289.79L297.90,289.77L298.40,289.77L298.40,289.80L298.90,289.80L298.90,289.70L299.40,289.70L299.40,289.78L299.90,289.78L299.90,289.75L300.40,289.75L300.40,289.70L300.90,289.70L300.90,289.71L301.40,289.71L301.40,289.75L301.90,289.75L301.90,289.71L302.40,289.71L302.40,289.74L302.90,289.74L302.90,289.76L303.40,289.76L303.40,289.73L303.90,289.73L303.90,289.68L304.40,289.68L304.40,289.74L304.90,289.74L304.90,289.70L305.40,289.70L305.40,289.70L305.90,289.70L305.90,289.69L306.40,289.69L306.40,289.72L306.90,289.72L306.90,289.67L307.40,289.67L307.40,289.76L307.90,289.76L307.90,289.81L308.40,289.81L308.40,289.71L308.90,289.71L308.90,289.77L309.40,289.77L309.40,289.80L309.90,289.80L309.90,289.65L310.40,289.65L310.40,289.67L310.90,289.67L310.90,289.78L311.40,289.78L311.40,289.78L311.90,289.78L311.90,289.75L312.40,289.75L312.40,289.66L312.90,289.66L312.90,289.71L313.40,289.71L313.40,289.78L313.90,289.78L313.90,289.78L314.40,289.78L314.40,289.77L314.90,289.77L314.90,289.66L315.40,289.66L315.40,289.78L315.90,289.78L315.90,289.69L316.40,289.69L316.40,289.75L316.90,289.75L316.90,289.65L317.40,289.65L317.40,289.79L317.90,289.79L317.90,289.73L318.40,289.73L318.40,289.63L318.90,289.63L318.90,289.34L319.40,289.34L319.40,289.32L319.90,289.32L319.90,289.15L320.40,289.15L320.40,289.12L320.90,289.12L320.90,289.01L321.40,289.01L321.40,289.16L321.90,289.16L321.90,288.98L322.40,288.98L322.40,288.95L322.90,288.95L322.90,288.87L323.40,288.87L323.40,289.10L323.90,289.10L323.90,288.83L324.40,288.83L324.40,288.87L324.90,288.87L324.90,288.78L325.40,288.78L325.40,289.05L325.90,289.05L325.90,288.99L326.40,288.99L326.40,288.98L326.90,288.98L326.90,288.72L327.40,288.72L327.40,288.91L327.90,288.91L327.90,288.85L328.40,288.85L328.40,288.71L328.90,288.71L328.90,288.65L329.40,288.65L329.40,289.15L329.90,289.15L329.90,288.69L330.40,288.69L330.40,288.60L330.90,288.60L330.90,288.35L331.40,288.35L331.40,288.38L331.90,288.38L331.90,287.74L332.40,287.74L332.40,288.02L332.90,288.02L332.90,287.92L333.40,287.92L333.40,288.33L333.90,288.33L333.90,287.58L334.40,287.58L334.40,287.86L334.90,287.86L334.90,287.99L335.40,287.99L335.40,288.41L335.90,288.41L335.90,287.99L336.40,287.99L336.40,287.94L336.90,287.94L336.90,288.11L337.40,288.11L337.40,287.76L337.90,287.76L337.90,287.50L338.40,287.50L338.40,287.93L338.90,287.93L338.90,288.30L339.40,288.30L339.40,288.13L339.90,288.13L339.90,287.67L340.40,287.67L340.40,288.06L340.90,288.06L340.90,288.21L341.40,288.21L341.40,287.63L341.90,287.63L341.90,287.94L342.40,287.94L342.40,287.21L342.90,287.21L342.90,286.42L343.40,286.42L343.40,285.84L343.90,285.84L343.90,285.03L344.40,285.03L344.40,285.15L344.90,285.15L344.90,284.48L345.40,284.48L345.40,285.15L345.90,285.15L345.90,284.47L346.40,284.47L346.40,285.80L346.90,285.80L346.90,285.44L347.40,285.44L347.40,284.15L347.90,284.15L347.90,285.72L348.40,285.72L348.40,284.44L348.90,284.44L348.90,285.02L349.40,285.02L349.40,285.13L349.90,285.13L349.90,284.61L350.40,284.61L350.40,283.16L350.90,283.16L350.90,281.96L351.40,281.96L351.40,280.50L351.90,280.50L351.90,282.99L352.40,282.99L352.40,280.18L352.90,280.18L352.90,282.66L353.40,282.66L353.40,280.33L353.90,280.33L353.90,280.53L354.40,280.53L354.40,280.74L354.90,280.74L354.90,279.27L355.40,279.27L355.40,279.52L355.90,279.52L355.90,280.31L356.40,280.31L356.40,281.46L356.90,281.46L356.90,283.88L357.40,283.88L357.40,285.05L357.90,285.05L357.90,283.72L358.40,283.72L358.40,284.97L358.90,284.97L358.90,283.97L359.40,283.97L359.40,285.42L359.90,285.42L359.90,284.22L360.40,284.22L360.40,285.48L360.90,285.48L360.90,284.57L361.40,284.57L361.40,283.47L361.90,283.47L361.90,283.07L362.40,283.07L362.40,283.58L362.90,283.58L362.90,285.06L363.40,285.06L363.40,283.13L363.90,283.13L363.90,283.89L364.40,283.89L364.40,280.99L364.90,280.99L364.90,277.59L365.40,277.59L365.40,279.21L365.90,279.21L365.90,275.90L366.40,275.90L366.40,278.45L366.90,278.45L366.90,278.01L367.40,278.01L367.40,279.36L367.90,279.36L367.90,276.86L368.40,276.86L368.40,278.58L368.90,278.58L368.90,274.89L369.40,274.89L369.40,274.94L369.90,274.94L369.90,274.49L370.40,274.49L370.40,275.34L370.90,275.34L370.90,275.09L371.40,275.09L371.40,269.59L371.90,269.59L371.90,272.40L372.40,272.40L372.40,277.25L372.90,277.25L372.90,280.78L373.40,280.78L373.40,280.39L373.90,280.39L373.90,280.01L374.40,280.01L374.40,283.07L374.90,283.07L374.90,281.20L375.40,281.20L375.40,281.12L375.90,281.12L375.90,281.12L376.40,281.12L376.40,278.99L376.90,278.99L376.90,280.18L377.40,280.18L377.40,276.69L377.90,276.69L377.90,279.48L378.40,279.48L378.40,280.05L378.90,280.05L378.90,280.56L379.40,280.56L379.40,279.40L379.90,279.40L379.90,277.18L380.40,277.18L380.40,278.03L380.90,278.03L380.90,279.00L381.40,279.00L381.40,278.17L381.90,278.17L381.90,275.57L382.40,275.57L382.40,278.14L382.90,278.14L382.90,274.31L383.40,274.31L383.40,275.36L383.90,275.36L383.90,279.28L384.40,279.28L384.40,276.13L384.90,276.13L384.90,274.85L385.40,274.85L385.40,277.82L385.90,277.82L385.90,275.75L386.40,275.75L386.40,272.98L386.90,272.98L386.90,273.03L387.40,273.03L387.40,274.32L387.90,274.32L387.90,274.67L388.40,274.67L388.40,278.36L388.90,278.36L388.90,274.13L389.40,274.13L389.40,277.83L389.90,277.83L389.90,277.85L390.40,277.85L390.40,275.17L390.90,275.17L390.90,278.70L391.40,278.70L391.40,277.29L391.90,277.29L391.90,275.58L392.40,275.58L392.40,274.04L392.90,274.04L392.90,275.07L393.40,275.07L393.40,277.67L393.90,277.67L393.90,275.14L394.40,275.14L394.40,272.69L394.90,272.69L394.90,273.66L395.40,273.66L395.40,274.12L395.90,274.12L395.90,271.97L396.40,271.97L396.40,274.37L396.90,274.37L396.90,270.41L397.40,270.41L397.40,275.33L397.90,275.33L397.90,269.79L398.40,269.79L398.40,268.31L398.90,268.31L398.90,271.41L399.40,271.41L399.40,268.25L399.90,268.25L399.90,272.56L400.40,272.56L400.40,268.33L400.90,268.33L400.90,267.79L401.40,267.79L401.40,271.18L401.90,271.18L401.90,266.24L402.40,266.24L402.40,271.73L402.90,271.73L402.90,271.62L403.40,271.62L403.40,271.42L403.90,271.42L403.90,276.96L404.40,276.96L404.40,272.63L404.90,272.63L404.90,279.34L405.40,279.34L405.40,273.89L405.90,273.89L405.90,276.22L406.40,276.22L406.40,269.03L406.90,269.03L406.90,265.69L407.40,265.69L407.40,267.44L407.90,267.44L407.90,271.21L408.40,271.21L408.40,265.26L408.90,265.26L408.90,266.11L409.40,266.11L409.40,266.96L409.90,266.96L409.90,265.26L410.40,265.26L410.40,265.83L410.90,265.83L410.90,265.26L411.40,265.26L411.40,265.37L411.90,265.37L411.90,268.72L412.40,268.72L412.40,265.26L412.90,265.26L412.90,265.26L413.40,265.26L413.40,268.63L413.90,268.63L413.90,277.93L414.40,277.93L414.40,277.43L414.90,277.43L414.90,280.05L415.40,280.05L415.40,279.22L415.90,279.22L415.90,276.03L416.40,276.03L416.40,280.26L416.90,280.26L416.90,280.42L417.40,280.42L417.40,279.91L417.90,279.91L417.90,280.06L418.40,280.06L418.40,279.40L418.90,279.40L418.90,279.67L419.40,279.67L419.40,279.49L419.90,279.49L419.90,279.20L420.40,279.20L420.40,277.70L420.90,277.70L420.90,277.23L421.40,277.23L421.40,280.13L421.90,280.13L421.90,279.62L422.40,279.62L422.40,277.23L422.90,277.23L422.90,280.02L423.40,280.02L423.40,279.97L423.90,279.97L423.90,279.63L424.40,279.63L424.40,280.90L424.90,280.90L424.90,281.44L425.40,281.44L425.40,279.37L425.90,279.37L425.90,281.35L426.40,281.35L426.40,280.09L426.90,280.09L426.90,280.50L427.40,280.50L427.40,279.94L427.90,279.94L427.90,282.19L428.40,282.19L428.40,280.28L428.90,280.28L428.90,282.44L429.40,282.44L429.40,280.07L429.90,280.07L429.90,281.50L430.40,281.50L430.40,282.33L430.90,282.33L430.90,281.21L431.40,281.21L431.40,279.73L431.90,279.73L431.90,278.24L432.40,278.24L432.40,279.74L432.90,279.74L432.90,279.24L433.40,279.24L433.40,280.84L433.90,280.84L433.90,280.63L434.40,280.63L434.40,281.61L434.90,281.61L434.90,279.24L435.40,279.24L435.40,279.16L435.90,279.16L435.90,279.92L436.40,279.92L436.40,280.82L436.90,280.82L436.90,277.95L437.40,277.95L437.40,278.39L437.90,278.39L437.90,277.87L438.40,277.87L438.40,278.48L438.90,278.48L438.90,278.16L439.40,278.16L439.40,281.13L439.90,281.13L439.90,277.31L440.40,277.31L440.40,280.66L440.90,280.66L440.90,277.32L441.40,277.32L441.40,276.65L441.90,276.65L441.90,280.42L442.40,280.42L442.40,275.63L442.90,275.63L442.90,276.29L443.40,276.29L443.40,277.08L443.90,277.08L443.90,277.52L444.40,277.52L444.40,279.61L444.90,279.61L444.90,279.57L445.40,279.57L445.40,279.61L445.90,279.61L445.90,279.21L446.40,279.21L446.40,281.95L446.90,281.95L446.90,279.65L447.40,279.65L447.40,280.47L447.90,280.47L447.90,281.82L448.40,281.82L448.40,283.08L448.90,283.08L448.90,282.40L449.40,282.40L449.40,283.73L449.90,283.73L449.90,285.12L450.40,285.12L450.40,285.67L450.90,285.67L450.90,285.87L451.40,285.87L451.40,284.48L451.90,284.48L451.90,284.38L452.40,284.38L452.40,285.62L452.90,285.62L452.90,285.50L453.40,285.50L453.40,285.59L453.90,285.59L453.90,286.17L454.40,286.17L454.40,285.11L454.90,285.11L454.90,286.18L455.40,286.18L455.40,285.76L455.90,285.76L455.90,285.84L456.40,285.84L456.40,286.23L456.90,286.23L456.90,287.13L457.40,287.13L457.40,287.68L457.90,287.68L457.90,287.71L458.40,287.71L458.40,288.14L458.90,288.14L458.90,287.57L459.40,287.57L459.40,288.06L459.90,288.06L459.90,287.54L460.40,287.54L460.40,288.12L460.90,288.12L460.90,287.75L461.40,287.75L461.40,288.93L461.90,288.93L461.90,289.66L462.40,289.66L462.40,289.67L462.90,289.67L462.90,289.76L463.40,289.76L463.40,289.66L463.90,289.66L463.90,289.68L464.40,289.68L464.40,289.64L464.90,289.64L464.90,289.70L465.40,289.70L465.40,289.65L465.90,289.65L465.90,289.75L466.40,289.75L466.40,289.73L466.90,289.73L466.90,289.70L467.40,289.70L467.40,289.75L467.90,289.75L467.90,289.67L468.40,289.67L468.40,289.69L468.90,289.69L468.90,289.70L469.40,289.70L469.40,289.64L469.90,289.64L469.90,289.79L470.40,289.79L470.40,289.66L470.90,289.66L470.90,289.66L471.40,289.66L471.40,289.78L471.90,289.78L471.90,289.78L472.40,289.78L472.40,289.72L472.90,289.72L472.90,289.72L473.40,289.72L473.40,289.67L473.90,289.67L473.90,289.65L474.40,289.65L474.40,289.74L474.90,289.74L474.90,289.69L475.40,289.69L475.40,289.68L475.90,289.68L475.90,289.80L476.40,289.80L476.40,289.66L476.90,289.66L476.90,289.72L477.40,289.72L477.40,289.78L477.90,289.78L477.90,289.78L478.40,289.78L478.40,289.68L478.90,289.68L478.90,289.78L479.40,289.78L479.40,289.75L479.90,289.75L479.90,289.77L480.40,289.77L480.40,289.82L480.90,289.82L480.90,289.80L481.40,289.80L481.40,289.76L481.90,289.76L481.90,289.79L482.40,289.79L482.40,289.75L482.90,289.75L482.90,289.76L483.40,289.76L483.40,289.80L483.90,289.80L483.90,289.77L484.40,289.77L484.40,289.74L484.90,289.74L484.90,289.68L485.40,289.68L485.40,289.80L485.90,289.80L485.90,289.73L486.40,289.73L486.40,289.75L486.90,289.75L486.90,289.73L487.40,289.73L487.40,289.77L487.90,289.77L487.90,289.75L488.40,289.75L488.40,289.81L488.90,289.81L488.90,289.78L489.40,289.78L489.40,289.78L489.90,289.78L489.90,289.81L490.40,289.81L490.40,289.76L490.90,289.76L490.90,289.78L491.40,289.78L491.40,289.81L491.90,289.81L491.90,289.80L492.40,289.80L492.40,289.81L492.90,289.81L492.90,289.82L493.40,289.82L493.40,289.78L493.90,289.78L493.90,289.78L494.40,289.78L494.40,289.73L494.90,289.73L494.90,289.74L495.40,289.74L495.40,289.77L495.90,289.77L495.90,289.78L496.40,289.78L496.40,289.82L496.90,289.82L496.90,289.72L497.40,289.72L497.40,289.76L497.90,289.76L497.90,289.82L498.40,289.82L498.40,289.78L498.90,289.78L498.90,289.82L499.40,289.82L499.40,289.74L499.90,289.74L499.90,289.82L500.40,289.82L500.40,289.78L500.90,289.78L500.90,289.80L501.40,289.80L501.40,289.73L501.90,289.73L501.90,289.78L502.40,289.78L502.40,289.82L502.90,289.82L502.90,289.82L503.40,289.82L503.40,289.81L503.90,289.81L503.90,289.79L504.40,289.79L504.40,289.74L504.90,289.74L504.90,289.82L505.40,289.82L505.40,289.79L505.90,289.79L505.90,289.82L506.40,289.82L506.40,289.82L506.90,289.82L506.90,289.79L507.40,289.79L507.40,289.82L507.90,289.82L507.90,289.76L508.40,289.76L508.40,289.82L508.90,289.82L508.90,289.75L509.40,289.75L509.40,289.82L509.90,289.82L509.90,289.82L510.40,289.82L510.40,290.12Z" fill="#2d695f"/><rect x="277.9" y="316.58" width="232.0" height="0.9" fill="#e2e2e2"/><path d="M277.90,316.58L277.90,316.34L278.40,316.34L278.40,316.38L278.90,316.38L278.90,316.38L279.40,316.38L279.40,316.38L279.90,316.38L279.90,316.35L280.40,316.35L280.40,316.34L280.90,316.34L280.90,316.38L281.40,316.38L281.40,316.38L281.90,316.38L281.90,316.34L282.40,316.34L282.40,316.37L282.90,316.37L282.90,316.35L283.40,316.35L283.40,316.38L283.90,316.38L283.90,316.31L284.40,316.31L284.40,316.32L284.90,316.32L284.90,316.38L285.40,316.38L285.40,316.33L285.90,316.33L285.90,316.32L286.40,316.32L286.40,316.37L286.90,316.37L286.90,316.35L287.40,316.35L287.40,316.30L287.90,316.30L287.90,316.34L288.40,316.34L288.40,316.35L288.90,316.35L288.90,316.30L289.40,316.30L289.40,316.35L289.90,316.35L289.90,316.29L290.40,316.29L290.40,316.31L290.90,316.31L290.90,316.28L291.40,316.28L291.40,316.29L291.90,316.29L291.90,316.37L292.40,316.37L292.40,316.31L292.90,316.31L292.90,316.37L293.40,316.37L293.40,316.31L293.90,316.31L293.90,316.33L294.40,316.33L294.40,316.35L294.90,316.35L294.90,316.33L295.40,316.33L295.40,316.26L295.90,316.26L295.90,316.32L296.40,316.32L296.40,316.32L296.90,316.32L296.90,316.26L297.40,316.26L297.40,316.25L297.90,316.25L297.90,316.34L298.40,316.34L298.40,316.30L298.90,316.30L298.90,316.26L299.40,316.26L299.40,316.29L299.90,316.29L299.90,316.26L300.40,316.26L300.40,316.33L300.90,316.33L300.90,316.29L301.40,316.29L301.40,316.23L301.90,316.23L301.90,316.32L302.40,316.32L302.40,316.23L302.90,316.23L302.90,316.25L303.40,316.25L303.40,316.22L303.90,316.22L303.90,316.31L304.40,316.31L304.40,316.22L304.90,316.22L304.90,316.27L305.40,316.27L305.40,316.21L305.90,316.21L305.90,316.26L306.40,316.26L306.40,316.29L306.90,316.29L306.90,316.26L307.40,316.26L307.40,316.25L307.90,316.25L307.90,316.25L308.40,316.25L308.40,316.24L308.90,316.24L308.90,316.26L309.40,316.26L309.40,316.18L309.90,316.18L309.90,316.23L310.40,316.23L310.40,316.20L310.90,316.20L310.90,316.29L311.40,316.29L311.40,316.29L311.90,316.29L311.90,316.16L312.40,316.16L312.40,316.17L312.90,316.17L312.90,316.25L313.40,316.25L313.40,316.23L313.90,316.23L313.90,316.14L314.40,316.14L314.40,316.24L314.90,316.24L314.90,316.28L315.40,316.28L315.40,316.19L315.90,316.19L315.90,316.17L316.40,316.17L316.40,316.21L316.90,316.21L316.90,316.26L317.40,316.26L317.40,316.15L317.90,316.15L317.90,316.15L318.40,316.15L318.40,316.13L318.90,316.13L318.90,316.20L319.40,316.20L319.40,316.17L319.90,316.17L319.90,316.13L320.40,316.13L320.40,316.15L320.90,316.15L320.90,316.08L321.40,316.08L321.40,316.13L321.90,316.13L321.90,316.24L322.40,316.24L322.40,316.17L322.90,316.17L322.90,316.11L323.40,316.11L323.40,316.23L323.90,316.23L323.90,316.12L324.40,316.12L324.40,316.10L324.90,316.10L324.90,316.05L325.40,316.05L325.40,316.07L325.90,316.07L325.90,316.07L326.40,316.07L326.40,316.08L326.90,316.08L326.90,316.20L327.40,316.20L327.40,316.08L327.90,316.08L327.90,316.07L328.40,316.07L328.40,316.14L328.90,316.14L328.90,316.19L329.40,316.19L329.40,316.07L329.90,316.07L329.90,316.16L330.40,316.16L330.40,316.07L330.90,316.07L330.90,316.11L331.40,316.11L331.40,316.11L331.90,316.11L331.90,316.18L332.40,316.18L332.40,316.14L332.90,316.14L332.90,316.09L333.40,316.09L333.40,316.15L333.90,316.15L333.90,316.05L334.40,316.05L334.40,316.05L334.90,316.05L334.90,316.17L335.40,316.17L335.40,316.08L335.90,316.08L335.90,316.12L336.40,316.12L336.40,315.58L336.90,315.58L336.90,315.39L337.40,315.39L337.40,315.08L337.90,315.08L337.90,314.80L338.40,314.80L338.40,315.24L338.90,315.24L338.90,314.89L339.40,314.89L339.40,314.76L339.90,314.76L339.90,314.67L340.40,314.67L340.40,314.52L340.90,314.52L340.90,314.55L341.40,314.55L341.40,314.90L341.90,314.90L341.90,314.43L342.40,314.43L342.40,314.49L342.90,314.49L342.90,314.61L343.40,314.61L343.40,314.66L343.90,314.66L343.90,314.49L344.40,314.49L344.40,314.80L344.90,314.80L344.90,314.31L345.40,314.31L345.40,313.75L345.90,313.75L345.90,313.02L346.40,313.02L346.40,312.40L346.90,312.40L346.90,312.55L347.40,312.55L347.40,312.43L347.90,312.43L347.90,313.32L348.40,313.32L348.40,312.43L348.90,312.43L348.90,313.23L349.40,313.23L349.40,312.54L349.90,312.54L349.90,313.20L350.40,313.20L350.40,313.21L350.90,313.21L350.90,312.75L351.40,312.75L351.40,313.63L351.90,313.63L351.90,313.21L352.40,313.21L352.40,313.06L352.90,313.06L352.90,312.28L353.40,312.28L353.40,312.83L353.90,312.83L353.90,312.61L354.40,312.61L354.40,312.92L354.90,312.92L354.90,313.63L355.40,313.63L355.40,313.53L355.90,313.53L355.90,312.30L356.40,312.30L356.40,313.27L356.90,313.27L356.90,313.68L357.40,313.68L357.40,313.12L357.90,313.12L357.90,312.50L358.40,312.50L358.40,313.66L358.90,313.66L358.90,313.05L359.40,313.05L359.40,313.88L359.90,313.88L359.90,313.76L360.40,313.76L360.40,313.72L360.90,313.72L360.90,313.89L361.40,313.89L361.40,312.72L361.90,312.72L361.90,313.75L362.40,313.75L362.40,313.12L362.90,313.12L362.90,312.93L363.40,312.93L363.40,313.29L363.90,313.29L363.90,313.60L364.40,313.60L364.40,311.09L364.90,311.09L364.90,310.10L365.40,310.10L365.40,310.69L365.90,310.69L365.90,309.86L366.40,309.86L366.40,309.96L366.90,309.96L366.90,309.30L367.40,309.30L367.40,311.22L367.90,311.22L367.90,309.16L368.40,309.16L368.40,310.39L368.90,310.39L368.90,310.29L369.40,310.29L369.40,308.46L369.90,308.46L369.90,311.29L370.40,311.29L370.40,309.12L370.90,309.12L370.90,311.27L371.40,311.27L371.40,311.09L371.90,311.09L371.90,311.02L372.40,311.02L372.40,311.76L372.90,311.76L372.90,312.01L373.40,312.01L373.40,312.36L373.90,312.36L373.90,312.19L374.40,312.19L374.40,313.22L374.90,313.22L374.90,311.63L375.40,311.63L375.40,311.82L375.90,311.82L375.90,313.25L376.40,313.25L376.40,312.99L376.90,312.99L376.90,312.82L377.40,312.82L377.40,313.27L377.90,313.27L377.90,312.50L378.40,312.50L378.40,310.92L378.90,310.92L378.90,306.65L379.40,306.65L379.40,307.55L379.90,307.55L379.90,302.89L380.40,302.89L380.40,303.98L380.90,303.98L380.90,304.02L381.40,304.02L381.40,305.04L381.90,305.04L381.90,303.53L382.40,303.53L382.40,305.43L382.90,305.43L382.90,307.34L383.40,307.34L383.40,305.23L383.90,305.23L383.90,304.83L384.40,304.83L384.40,303.63L384.90,303.63L384.90,306.93L385.40,306.93L385.40,304.45L385.90,304.45L385.90,303.36L386.40,303.36L386.40,303.47L386.90,303.47L386.90,300.52L387.40,300.52L387.40,300.44L387.90,300.44L387.90,301.02L388.40,301.02L388.40,301.63L388.90,301.63L388.90,305.48L389.40,305.48L389.40,302.58L389.90,302.58L389.90,302.27L390.40,302.27L390.40,306.66L390.90,306.66L390.90,305.56L391.40,305.56L391.40,303.56L391.90,303.56L391.90,306.95L392.40,306.95L392.40,307.08L392.90,307.08L392.90,306.92L393.40,306.92L393.40,307.47L393.90,307.47L393.90,305.93L394.40,305.93L394.40,305.06L394.90,305.06L394.90,307.34L395.40,307.34L395.40,306.81L395.90,306.81L395.90,307.16L396.40,307.16L396.40,304.88L396.90,304.88L396.90,305.71L397.40,305.71L397.40,307.10L397.90,307.10L397.90,305.76L398.40,305.76L398.40,306.72L398.90,306.72L398.90,306.15L399.40,306.15L399.40,307.38L399.90,307.38L399.90,305.60L400.40,305.60L400.40,304.54L400.90,304.54L400.90,304.38L401.40,304.38L401.40,300.27L401.90,300.27L401.90,300.45L402.40,300.45L402.40,304.09L402.90,304.09L402.90,302.32L403.40,302.32L403.40,306.89L403.90,306.89L403.90,305.08L404.40,305.08L404.40,307.86L404.90,307.86L404.90,305.96L405.40,305.96L405.40,303.93L405.90,303.93L405.90,305.39L406.40,305.39L406.40,305.92L406.90,305.92L406.90,304.70L407.40,304.70L407.40,305.21L407.90,305.21L407.90,303.57L408.40,303.57L408.40,304.96L408.90,304.96L408.90,297.21L409.40,297.21L409.40,300.76L409.90,300.76L409.90,296.20L410.40,296.20L410.40,300.82L410.90,300.82L410.90,299.22L411.40,299.22L411.40,301.79L411.90,301.79L411.90,306.26L412.40,306.26L412.40,308.04L412.90,308.04L412.90,305.43L413.40,305.43L413.40,305.84L413.90,305.84L413.90,306.16L414.40,306.16L414.40,306.73L414.90,306.73L414.90,305.61L415.40,305.61L415.40,305.62L415.90,305.62L415.90,307.81L416.40,307.81L416.40,306.51L416.90,306.51L416.90,305.62L417.40,305.62L417.40,307.66L417.90,307.66L417.90,308.45L418.40,308.45L418.40,305.97L418.90,305.97L418.90,304.15L419.40,304.15L419.40,305.42L419.90,305.42L419.90,308.01L420.40,308.01L420.40,304.71L420.90,304.71L420.90,304.69L421.40,304.69L421.40,307.23L421.90,307.23L421.90,304.01L422.40,304.01L422.40,307.27L422.90,307.27L422.90,304.24L423.40,304.24L423.40,304.86L423.90,304.86L423.90,305.72L424.40,305.72L424.40,304.57L424.90,304.57L424.90,308.61L425.40,308.61L425.40,308.64L425.90,308.64L425.90,310.87L426.40,310.87L426.40,311.21L426.90,311.21L426.90,309.65L427.40,309.65L427.40,311.65L427.90,311.65L427.90,311.80L428.40,311.80L428.40,310.63L428.90,310.63L428.90,311.59L429.40,311.59L429.40,310.93L429.90,310.93L429.90,311.81L430.40,311.81L430.40,312.40L430.90,312.40L430.90,311.84L431.40,311.84L431.40,312.31L431.90,312.31L431.90,311.77L432.40,311.77L432.40,313.09L432.90,313.09L432.90,312.68L433.40,312.68L433.40,313.03L433.90,313.03L433.90,311.72L434.40,311.72L434.40,312.88L434.90,312.88L434.90,311.74L435.40,311.74L435.40,312.55L435.90,312.55L435.90,311.98L436.40,311.98L436.40,313.16L436.90,313.16L436.90,311.77L437.40,311.77L437.40,312.41L437.90,312.41L437.90,312.40L438.40,312.40L438.40,312.26L438.90,312.26L438.90,311.69L439.40,311.69L439.40,312.75L439.90,312.75L439.90,313.28L440.40,313.28L440.40,311.77L440.90,311.77L440.90,312.38L441.40,312.38L441.40,311.14L441.90,311.14L441.90,311.10L442.40,311.10L442.40,311.57L442.90,311.57L442.90,312.72L443.40,312.72L443.40,312.40L443.90,312.40L443.90,312.18L444.40,312.18L444.40,311.12L444.90,311.12L444.90,312.00L445.40,312.00L445.40,311.27L445.90,311.27L445.90,311.46L446.40,311.46L446.40,312.13L446.90,312.13L446.90,311.99L447.40,311.99L447.40,312.97L447.90,312.97L447.90,314.78L448.40,314.78L448.40,315.13L448.90,315.13L448.90,315.12L449.40,315.12L449.40,315.01L449.90,315.01L449.90,314.48L450.40,314.48L450.40,314.12L450.90,314.12L450.90,314.74L451.40,314.74L451.40,314.08L451.90,314.08L451.90,313.86L452.40,313.86L452.40,314.30L452.90,314.30L452.90,313.91L453.40,313.91L453.40,314.30L453.90,314.30L453.90,313.92L454.40,313.92L454.40,314.16L454.90,314.16L454.90,313.05L455.40,313.05L455.40,314.91L455.90,314.91L455.90,315.82L456.40,315.82L456.40,316.11L456.90,316.11L456.90,316.02L457.40,316.02L457.40,316.01L457.90,316.01L457.90,316.03L458.40,316.03L458.40,316.00L458.90,316.00L458.90,316.17L459.40,316.17L459.40,316.00L459.90,316.00L459.90,316.02L460.40,316.02L460.40,316.11L460.90,316.11L460.90,316.02L461.40,316.02L461.40,316.02L461.90,316.02L461.90,316.04L462.40,316.04L462.40,316.03L462.90,316.03L462.90,315.99L463.40,315.99L463.40,316.14L463.90,316.14L463.90,316.13L464.40,316.13L464.40,316.06L464.90,316.06L464.90,316.18L465.40,316.18L465.40,316.11L465.90,316.11L465.90,316.05L466.40,316.05L466.40,316.20L466.90,316.20L466.90,316.05L467.40,316.05L467.40,316.17L467.90,316.17L467.90,316.17L468.40,316.17L468.40,316.01L468.90,316.01L468.90,316.18L469.40,316.18L469.40,316.10L469.90,316.10L469.90,316.12L470.40,316.12L470.40,316.21L470.90,316.21L470.90,316.11L471.40,316.11L471.40,316.07L471.90,316.07L471.90,316.04L472.40,316.04L472.40,316.20L472.90,316.20L472.90,316.12L473.40,316.12L473.40,316.17L473.90,316.17L473.90,316.16L474.40,316.16L474.40,316.23L474.90,316.23L474.90,316.22L475.40,316.22L475.40,316.22L475.90,316.22L475.90,316.14L476.40,316.14L476.40,316.22L476.90,316.22L476.90,316.11L477.40,316.11L477.40,316.08L477.90,316.08L477.90,316.17L478.40,316.17L478.40,316.06L478.90,316.06L478.90,316.24L479.40,316.24L479.40,316.12L479.90,316.12L479.90,316.14L480.40,316.14L480.40,316.12L480.90,316.12L480.90,316.13L481.40,316.13L481.40,316.17L481.90,316.17L481.90,316.22L482.40,316.22L482.40,316.08L482.90,316.08L482.90,316.14L483.40,316.14L483.40,316.12L483.90,316.12L483.90,316.25L484.40,316.25L484.40,316.16L484.90,316.16L484.90,316.17L485.40,316.17L485.40,316.25L485.90,316.25L485.90,316.16L486.40,316.16L486.40,316.16L486.90,316.16L486.90,316.17L487.40,316.17L487.40,316.14L487.90,316.14L487.90,316.22L488.40,316.22L488.40,316.15L488.90,316.15L488.90,316.19L489.40,316.19L489.40,316.20L489.90,316.20L489.90,316.24L490.40,316.24L490.40,316.23L490.90,316.23L490.90,316.19L491.40,316.19L491.40,316.27L491.90,316.27L491.90,316.27L492.40,316.27L492.40,316.27L492.90,316.27L492.90,316.24L493.40,316.24L493.40,316.20L493.90,316.20L493.90,316.19L494.40,316.19L494.40,316.27L494.90,316.27L494.90,316.21L495.40,316.21L495.40,316.25L495.90,316.25L495.90,316.20L496.40,316.20L496.40,316.20L496.90,316.20L496.90,316.15L497.40,316.15L497.40,316.26L497.90,316.26L497.90,316.19L498.40,316.19L498.40,316.23L498.90,316.23L498.90,316.26L499.40,316.26L499.40,316.28L499.90,316.28L499.90,316.30L500.40,316.30L500.40,316.26L500.90,316.26L500.90,316.20L501.40,316.20L501.40,316.30L501.90,316.30L501.90,316.18L502.40,316.18L502.40,316.23L502.90,316.23L502.90,316.30L503.40,316.30L503.40,316.29L503.90,316.29L503.90,316.26L504.40,316.26L504.40,316.30L504.90,316.30L504.90,316.21L505.40,316.21L505.40,316.19L505.90,316.19L505.90,316.23L506.40,316.23L506.40,316.32L506.90,316.32L506.90,316.20L507.40,316.20L507.40,316.24L507.90,316.24L507.90,316.26L508.40,316.26L508.40,316.23L508.90,316.23L508.90,316.32L509.40,316.32L509.40,316.22L509.90,316.22L509.90,316.22L510.40,316.22L510.40,316.58Z" fill="#19288c"/><rect x="277.9" y="343.04" width="232.0" height="0.9" fill="#e2e2e2"/><path d="M277.90,343.04L277.90,340.45L278.40,340.45L278.40,338.07L278.90,338.07L278.90,339.88L279.40,339.88L279.40,338.43L279.90,338.43L279.90,340.51L280.40,340.51L280.40,338.08L280.90,338.08L280.90,336.12L281.40,336.12L281.40,336.12L281.90,336.12L281.90,336.63L282.40,336.63L282.40,336.63L282.90,336.63L282.90,337.79L283.40,337.79L283.40,337.79L283.90,337.79L283.90,339.81L284.40,339.81L284.40,338.74L284.90,338.74L284.90,338.69L285.40,338.69L285.40,338.61L285.90,338.61L285.90,336.66L286.40,336.66L286.40,336.66L286.90,336.66L286.90,340.03L287.40,340.03L287.40,338.59L287.90,338.59L287.90,336.87L288.40,336.87L288.40,336.87L288.90,336.87L288.90,338.61L289.40,338.61L289.40,339.17L289.90,339.17L289.90,339.08L290.40,339.08L290.40,338.23L290.90,338.23L290.90,339.44L291.40,339.44L291.40,336.07L291.90,336.07L291.90,336.07L292.40,336.07L292.40,340.36L292.90,340.36L292.90,339.65L293.40,339.65L293.40,339.04L293.90,339.04L293.90,340.19L294.40,340.19L294.40,340.52L294.90,340.52L294.90,339.25L295.40,339.25L295.40,340.39L295.90,340.39L295.90,338.07L296.40,338.07L296.40,338.28L296.90,338.28L296.90,338.28L297.40,338.28L297.40,340.38L297.90,340.38L297.90,339.75L298.40,339.75L298.40,339.83L298.90,339.83L298.90,338.74L299.40,338.74L299.40,339.26L299.90,339.26L299.90,340.25L300.40,340.25L300.40,338.27L300.90,338.27L300.90,338.31L301.40,338.31L301.40,338.14L301.90,338.14L301.90,339.20L302.40,339.20L302.40,340.13L302.90,340.13L302.90,339.41L303.40,339.41L303.40,339.03L303.90,339.03L303.90,338.52L304.40,338.52L304.40,338.47L304.90,338.47L304.90,340.40L305.40,340.40L305.40,338.91L305.90,338.91L305.90,336.65L306.40,336.65L306.40,336.65L306.90,336.65L306.90,340.09L307.40,340.09L307.40,338.02L307.90,338.02L307.90,338.02L308.40,338.02L308.40,338.86L308.90,338.86L308.90,339.12L309.40,339.12L309.40,338.20L309.90,338.20L309.90,337.10L310.40,337.10L310.40,337.10L310.90,337.10L310.90,339.20L311.40,339.20L311.40,338.30L311.90,338.30L311.90,339.25L312.40,339.25L312.40,338.96L312.90,338.96L312.90,340.12L313.40,340.12L313.40,340.34L313.90,340.34L313.90,339.87L314.40,339.87L314.40,338.73L314.90,338.73L314.90,338.11L315.40,338.11L315.40,340.26L315.90,340.26L315.90,336.41L316.40,336.41L316.40,336.41L316.90,336.41L316.90,339.26L317.40,339.26L317.40,339.22L317.90,339.22L317.90,340.46L318.40,340.46L318.40,338.11L318.90,338.11L318.90,338.16L319.40,338.16L319.40,340.13L319.90,340.13L319.90,337.09L320.40,337.09L320.40,337.09L320.90,337.09L320.90,339.96L321.40,339.96L321.40,339.50L321.90,339.50L321.90,339.75L322.40,339.75L322.40,338.65L322.90,338.65L322.90,338.22L323.40,338.22L323.40,338.02L323.90,338.02L323.90,337.84L324.40,337.84L324.40,337.84L324.90,337.84L324.90,338.96L325.40,338.96L325.40,338.87L325.90,338.87L325.90,339.56L326.40,339.56L326.40,339.78L326.90,339.78L326.90,339.50L327.40,339.50L327.40,338.78L327.90,338.78L327.90,340.07L328.40,340.07L328.40,340.02L328.90,340.02L328.90,340.25L329.40,340.25L329.40,340.25L329.90,340.25L329.90,338.03L330.40,338.03L330.40,339.68L330.90,339.68L330.90,338.87L331.40,338.87L331.40,338.97L331.90,338.97L331.90,339.30L332.40,339.30L332.40,338.36L332.90,338.36L332.90,338.62L333.40,338.62L333.40,337.48L333.90,337.48L333.90,337.48L334.40,337.48L334.40,340.30L334.90,340.30L334.90,339.72L335.40,339.72L335.40,338.79L335.90,338.79L335.90,338.79L336.40,338.79L336.40,339.52L336.90,339.52L336.90,339.76L337.40,339.76L337.40,337.54L337.90,337.54L337.90,337.54L338.40,337.54L338.40,338.42L338.90,338.42L338.90,340.16L339.40,340.16L339.40,339.83L339.90,339.83L339.90,338.26L340.40,338.26L340.40,340.10L340.90,340.10L340.90,339.44L341.40,339.44L341.40,338.83L341.90,338.83L341.90,340.24L342.40,340.24L342.40,338.31L342.90,338.31L342.90,338.23L343.40,338.23L343.40,338.85L343.90,338.85L343.90,339.85L344.40,339.85L344.40,339.37L344.90,339.37L344.90,339.21L345.40,339.21L345.40,340.28L345.90,340.28L345.90,338.98L346.40,338.98L346.40,339.97L346.90,339.97L346.90,337.99L347.40,337.99L347.40,339.96L347.90,339.96L347.90,338.37L348.40,338.37L348.40,339.64L348.90,339.64L348.90,340.10L349.40,340.10L349.40,339.64L349.90,339.64L349.90,336.61L350.40,336.61L350.40,336.61L350.90,336.61L350.90,339.88L351.40,339.88L351.40,338.91L351.90,338.91L351.90,338.57L352.40,338.57L352.40,339.39L352.90,339.39L352.90,336.36L353.40,336.36L353.40,336.36L353.90,336.36L353.90,339.32L354.40,339.32L354.40,339.16L354.90,339.16L354.90,338.37L355.40,338.37L355.40,339.77L355.90,339.77L355.90,339.95L356.40,339.95L356.40,338.83L356.90,338.83L356.90,340.16L357.40,340.16L357.40,340.47L357.90,340.47L357.90,339.65L358.40,339.65L358.40,338.08L358.90,338.08L358.90,338.08L359.40,338.08L359.40,338.18L359.90,338.18L359.90,338.18L360.40,338.18L360.40,337.04L360.90,337.04L360.90,337.04L361.40,337.04L361.40,337.75L361.90,337.75L361.90,339.74L362.40,339.74L362.40,337.39L362.90,337.39L362.90,337.39L363.40,337.39L363.40,338.04L363.90,338.04L363.90,338.49L364.40,338.49L364.40,339.68L364.90,339.68L364.90,338.44L365.40,338.44L365.40,338.44L365.90,338.44L365.90,339.32L366.40,339.32L366.40,340.21L366.90,340.21L366.90,338.55L367.40,338.55L367.40,338.36L367.90,338.36L367.90,340.16L368.40,340.16L368.40,338.10L368.90,338.10L368.90,339.02L369.40,339.02L369.40,339.03L369.90,339.03L369.90,340.19L370.40,340.19L370.40,338.45L370.90,338.45L370.90,338.45L371.40,338.45L371.40,339.23L371.90,339.23L371.90,339.18L372.40,339.18L372.40,339.16L372.90,339.16L372.90,336.21L373.40,336.21L373.40,336.21L373.90,336.21L373.90,339.06L374.40,339.06L374.40,339.03L374.90,339.03L374.90,340.31L375.40,340.31L375.40,337.43L375.90,337.43L375.90,337.43L376.40,337.43L376.40,340.36L376.90,340.36L376.90,335.04L377.40,335.04L377.40,335.04L377.90,335.04L377.90,340.24L378.40,340.24L378.40,338.38L378.90,338.38L378.90,339.65L379.40,339.65L379.40,340.48L379.90,340.48L379.90,336.54L380.40,336.54L380.40,336.54L380.90,336.54L380.90,338.03L381.40,338.03L381.40,339.10L381.90,339.10L381.90,339.13L382.40,339.13L382.40,339.96L382.90,339.96L382.90,338.94L383.40,338.94L383.40,340.00L383.90,340.00L383.90,338.98L384.40,338.98L384.40,339.57L384.90,339.57L384.90,339.88L385.40,339.88L385.40,337.54L385.90,337.54L385.90,337.54L386.40,337.54L386.40,339.09L386.90,339.09L386.90,339.17L387.40,339.17L387.40,337.89L387.90,337.89L387.90,337.89L388.40,337.89L388.40,339.27L388.90,339.27L388.90,338.49L389.40,338.49L389.40,338.50L389.90,338.50L389.90,339.88L390.40,339.88L390.40,339.23L390.90,339.23L390.90,339.62L391.40,339.62L391.40,337.83L391.90,337.83L391.90,337.83L392.40,337.83L392.40,338.77L392.90,338.77L392.90,340.14L393.40,340.14L393.40,339.09L393.90,339.09L393.90,338.39L394.40,338.39L394.40,340.15L394.90,340.15L394.90,340.24L395.40,340.24L395.40,338.25L395.90,338.25L395.90,340.20L396.40,340.20L396.40,337.39L396.90,337.39L396.90,337.39L397.40,337.39L397.40,339.40L397.90,339.40L397.90,340.29L398.40,340.29L398.40,338.32L398.90,338.32L398.90,338.51L399.40,338.51L399.40,338.55L399.90,338.55L399.90,338.32L400.40,338.32L400.40,340.36L400.90,340.36L400.90,340.47L401.40,340.47L401.40,339.61L401.90,339.61L401.90,339.96L402.40,339.96L402.40,338.94L402.90,338.94L402.90,339.03L403.40,339.03L403.40,337.21L403.90,337.21L403.90,337.21L404.40,337.21L404.40,339.72L404.90,339.72L404.90,336.52L405.40,336.52L405.40,336.52L405.90,336.52L405.90,338.96L406.40,338.96L406.40,340.00L406.90,340.00L406.90,340.15L407.40,340.15L407.40,338.01L407.90,338.01L407.90,338.01L408.40,338.01L408.40,338.90L408.90,338.90L408.90,336.70L409.40,336.70L409.40,336.70L409.90,336.70L409.90,339.63L410.40,339.63L410.40,338.00L410.90,338.00L410.90,338.00L411.40,338.00L411.40,338.50L411.90,338.50L411.90,339.65L412.40,339.65L412.40,338.51L412.90,338.51L412.90,339.60L413.40,339.60L413.40,338.11L413.90,338.11L413.90,339.69L414.40,339.69L414.40,339.72L414.90,339.72L414.90,338.47L415.40,338.47L415.40,338.47L415.90,338.47L415.90,338.56L416.40,338.56L416.40,339.18L416.90,339.18L416.90,336.31L417.40,336.31L417.40,336.31L417.90,336.31L417.90,339.98L418.40,339.98L418.40,340.32L418.90,340.32L418.90,338.33L419.40,338.33L419.40,337.69L419.90,337.69L419.90,337.69L420.40,337.69L420.40,340.35L420.90,340.35L420.90,339.35L421.40,339.35L421.40,339.28L421.90,339.28L421.90,339.89L422.40,339.89L422.40,339.94L422.90,339.94L422.90,336.79L423.40,336.79L423.40,336.79L423.90,336.79L423.90,339.99L424.40,339.99L424.40,338.02L424.90,338.02L424.90,339.88L425.40,339.88L425.40,338.48L425.90,338.48L425.90,338.82L426.40,338.82L426.40,338.92L426.90,338.92L426.90,339.24L427.40,339.24L427.40,339.42L427.90,339.42L427.90,339.42L428.40,339.42L428.40,338.72L428.90,338.72L428.90,338.84L429.40,338.84L429.40,339.59L429.90,339.59L429.90,340.30L430.40,340.30L430.40,338.89L430.90,338.89L430.90,337.93L431.40,337.93L431.40,340.10L431.90,340.10L431.90,340.18L432.40,340.18L432.40,340.06L432.90,340.06L432.90,339.54L433.40,339.54L433.40,338.98L433.90,338.98L433.90,338.07L434.40,338.07L434.40,340.27L434.90,340.27L434.90,339.03L435.40,339.03L435.40,338.22L435.90,338.22L435.90,339.51L436.40,339.51L436.40,338.02L436.90,338.02L436.90,336.09L437.40,336.09L437.40,336.09L437.90,336.09L437.90,339.96L438.40,339.96L438.40,338.82L438.90,338.82L438.90,338.40L439.40,338.40L439.40,338.78L439.90,338.78L439.90,340.01L440.40,340.01L440.40,337.21L440.90,337.21L440.90,337.21L441.40,337.21L441.40,337.28L441.90,337.28L441.90,337.28L442.40,337.28L442.40,340.17L442.90,340.17L442.90,340.38L443.40,340.38L443.40,338.02L443.90,338.02L443.90,339.19L444.40,339.19L444.40,338.27L444.90,338.27L444.90,339.40L445.40,339.40L445.40,339.94L445.90,339.94L445.90,339.14L446.40,339.14L446.40,339.67L446.90,339.67L446.90,339.65L447.40,339.65L447.40,339.20L447.90,339.20L447.90,338.90L448.40,338.90L448.40,338.51L448.90,338.51L448.90,339.75L449.40,339.75L449.40,340.42L449.90,340.42L449.90,340.38L450.40,340.38L450.40,336.68L450.90,336.68L450.90,336.68L451.40,336.68L451.40,339.58L451.90,339.58L451.90,339.17L452.40,339.17L452.40,336.84L452.90,336.84L452.90,336.84L453.40,336.84L453.40,337.77L453.90,337.77L453.90,337.77L454.40,337.77L454.40,340.10L454.90,340.10L454.90,338.62L455.40,338.62L455.40,340.22L455.90,340.22L455.90,339.83L456.40,339.83L456.40,339.98L456.90,339.98L456.90,338.17L457.40,338.17L457.40,338.59L457.90,338.59L457.90,338.28L458.40,338.28L458.40,340.31L458.90,340.31L458.90,338.51L459.40,338.51L459.40,339.03L459.90,339.03L459.90,339.82L460.40,339.82L460.40,338.91L460.90,338.91L460.90,339.51L461.40,339.51L461.40,337.18L461.90,337.18L461.90,337.18L462.40,337.18L462.40,340.27L462.90,340.27L462.90,339.61L463.40,339.61L463.40,339.79L463.90,339.79L463.90,339.77L464.40,339.77L464.40,339.48L464.90,339.48L464.90,338.32L465.40,338.32L465.40,340.24L465.90,340.24L465.90,340.31L466.40,340.31L466.40,338.14L466.90,338.14L466.90,338.83L467.40,338.83L467.40,338.36L467.90,338.36L467.90,338.22L468.40,338.22L468.40,339.37L468.90,339.37L468.90,338.99L469.40,338.99L469.40,338.06L469.90,338.06L469.90,338.06L470.40,338.06L470.40,339.67L470.90,339.67L470.90,338.22L471.40,338.22L471.40,339.54L471.90,339.54L471.90,339.58L472.40,339.58L472.40,337.72L472.90,337.72L472.90,337.72L473.40,337.72L473.40,340.15L473.90,340.15L473.90,338.84L474.40,338.84L474.40,336.79L474.90,336.79L474.90,336.79L475.40,336.79L475.40,338.31L475.90,338.31L475.90,340.07L476.40,340.07L476.40,336.40L476.90,336.40L476.90,336.40L477.40,336.40L477.40,336.58L477.90,336.58L477.90,336.58L478.40,336.58L478.40,340.45L478.90,340.45L478.90,339.57L479.40,339.57L479.40,339.41L479.90,339.41L479.90,337.19L480.40,337.19L480.40,337.19L480.90,337.19L480.90,339.65L481.40,339.65L481.40,339.00L481.90,339.00L481.90,339.36L482.40,339.36L482.40,340.14L482.90,340.14L482.90,336.63L483.40,336.63L483.40,336.63L483.90,336.63L483.90,338.81L484.40,338.81L484.40,338.04L484.90,338.04L484.90,338.58L485.40,338.58L485.40,340.20L485.90,340.20L485.90,338.48L486.40,338.48L486.40,338.18L486.90,338.18L486.90,338.04L487.40,338.04L487.40,337.04L487.90,337.04L487.90,337.04L488.40,337.04L488.40,338.06L488.90,338.06L488.90,338.79L489.40,338.79L489.40,337.97L489.90,337.97L489.90,339.75L490.40,339.75L490.40,339.64L490.90,339.64L490.90,338.95L491.40,338.95L491.40,337.54L491.90,337.54L491.90,337.54L492.40,337.54L492.40,338.18L492.90,338.18L492.90,339.52L493.40,339.52L493.40,336.63L493.90,336.63L493.90,336.63L494.40,336.63L494.40,340.32L494.90,340.32L494.90,340.41L495.40,340.41L495.40,339.10L495.90,339.10L495.90,338.68L496.40,338.68L496.40,339.19L496.90,339.19L496.90,339.69L497.40,339.69L497.40,339.05L497.90,339.05L497.90,339.26L498.40,339.26L498.40,340.32L498.90,340.32L498.90,339.69L499.40,339.69L499.40,338.86L499.90,338.86L499.90,340.21L500.40,340.21L500.40,339.89L500.90,339.89L500.90,337.90L501.40,337.90L501.40,339.13L501.90,339.13L501.90,336.52L502.40,336.52L502.40,336.52L502.90,336.52L502.90,338.81L503.40,338.81L503.40,340.02L503.90,340.02L503.90,338.18L504.40,338.18L504.40,338.18L504.90,338.18L504.90,338.02L505.40,338.02L505.40,338.23L505.90,338.23L505.90,338.82L506.40,338.82L506.40,339.25L506.90,339.25L506.90,339.14L507.40,339.14L507.40,336.07L507.90,336.07L507.90,336.07L508.40,336.07L508.40,338.65L508.90,338.65L508.90,340.31L509.40,340.31L509.40,338.41L509.90,338.41L509.90,338.80L510.40,338.80L510.40,343.04Z" fill="#2d695f"/><rect x="277.9" y="369.5" width="232.0" height="0.9" fill="#e2e2e2"/><path d="M277.90,369.50L277.90,366.06L278.40,366.06L278.40,366.34L278.90,366.34L278.90,366.18L279.40,366.18L279.40,366.25L279.90,366.25L279.90,366.16L280.40,366.16L280.40,366.75L280.90,366.75L280.90,365.80L281.40,365.80L281.40,366.69L281.90,366.69L281.90,365.21L282.40,365.21L282.40,365.90L282.90,365.90L282.90,365.98L283.40,365.98L283.40,365.52L283.90,365.52L283.90,366.95L284.40,366.95L284.40,365.92L284.90,365.92L284.90,367.05L285.40,367.05L285.40,367.45L285.90,367.45L285.90,365.78L286.40,365.78L286.40,367.30L286.90,367.30L286.90,367.09L287.40,367.09L287.40,366.76L287.90,366.76L287.90,364.49L288.40,364.49L288.40,364.49L288.90,364.49L288.90,366.66L289.40,366.66L289.40,365.87L289.90,365.87L289.90,365.70L290.40,365.70L290.40,365.90L290.90,365.90L290.90,365.77L291.40,365.77L291.40,367.04L291.90,367.04L291.90,365.99L292.40,365.99L292.40,364.51L292.90,364.51L292.90,364.51L293.40,364.51L293.40,367.42L293.90,367.42L293.90,365.85L294.40,365.85L294.40,365.25L294.90,365.25L294.90,365.08L295.40,365.08L295.40,365.08L295.90,365.08L295.90,367.04L296.40,367.04L296.40,366.39L296.90,366.39L296.90,365.70L297.40,365.70L297.40,365.51L297.90,365.51L297.90,365.86L298.40,365.86L298.40,366.24L298.90,366.24L298.90,365.29L299.40,365.29L299.40,366.81L299.90,366.81L299.90,366.88L300.40,366.88L300.40,365.16L300.90,365.16L300.90,367.15L301.40,367.15L301.40,366.31L301.90,366.31L301.90,367.33L302.40,367.33L302.40,366.26L302.90,366.26L302.90,367.04L303.40,367.04L303.40,366.21L303.90,366.21L303.90,366.59L304.40,366.59L304.40,366.32L304.90,366.32L304.90,365.17L305.40,365.17L305.40,365.46L305.90,365.46L305.90,365.67L306.40,365.67L306.40,366.09L306.90,366.09L306.90,366.00L307.40,366.00L307.40,366.41L307.90,366.41L307.90,366.70L308.40,366.70L308.40,363.50L308.90,363.50L308.90,363.50L309.40,363.50L309.40,366.33L309.90,366.33L309.90,367.40L310.40,367.40L310.40,366.99L310.90,366.99L310.90,366.68L311.40,366.68L311.40,367.07L311.90,367.07L311.90,365.64L312.40,365.64L312.40,365.33L312.90,365.33L312.90,365.31L313.40,365.31L313.40,365.38L313.90,365.38L313.90,365.10L314.40,365.10L314.40,366.60L314.90,366.60L314.90,367.31L315.40,367.31L315.40,365.35L315.90,365.35L315.90,366.75L316.40,366.75L316.40,367.36L316.90,367.36L316.90,366.94L317.40,366.94L317.40,365.44L317.90,365.44L317.90,366.62L318.40,366.62L318.40,365.69L318.90,365.69L318.90,365.50L319.40,365.50L319.40,365.09L319.90,365.09L319.90,366.34L320.40,366.34L320.40,367.30L320.90,367.30L320.90,365.31L321.40,365.31L321.40,365.42L321.90,365.42L321.90,366.00L322.40,366.00L322.40,364.22L322.90,364.22L322.90,364.22L323.40,364.22L323.40,366.84L323.90,366.84L323.90,366.18L324.40,366.18L324.40,365.14L324.90,365.14L324.90,365.12L325.40,365.12L325.40,365.53L325.90,365.53L325.90,366.68L326.40,366.68L326.40,365.50L326.90,365.50L326.90,365.50L327.40,365.50L327.40,365.29L327.90,365.29L327.90,365.56L328.40,365.56L328.40,363.56L328.90,363.56L328.90,363.56L329.40,363.56L329.40,365.31L329.90,365.31L329.90,366.09L330.40,366.09L330.40,367.09L330.90,367.09L330.90,365.61L331.40,365.61L331.40,365.16L331.90,365.16L331.90,365.16L332.40,365.16L332.40,365.90L332.90,365.90L332.90,365.57L333.40,365.57L333.40,365.47L333.90,365.47L333.90,366.66L334.40,366.66L334.40,367.05L334.90,367.05L334.90,367.14L335.40,367.14L335.40,365.52L335.90,365.52L335.90,366.06L336.40,366.06L336.40,365.06L336.90,365.06L336.90,365.76L337.40,365.76L337.40,365.73L337.90,365.73L337.90,365.31L338.40,365.31L338.40,364.71L338.90,364.71L338.90,366.95L339.40,366.95L339.40,364.30L339.90,364.30L339.90,361.50L340.40,361.50L340.40,361.50L340.90,361.50L340.90,364.32L341.40,364.32L341.40,364.77L341.90,364.77L341.90,364.43L342.40,364.43L342.40,354.90L342.90,354.90L342.90,354.90L343.40,354.90L343.40,364.94L343.90,364.94L343.90,365.07L344.40,365.07L344.40,361.50L344.90,361.50L344.90,361.50L345.40,361.50L345.40,364.28L345.90,364.28L345.90,365.60L346.40,365.60L346.40,365.48L346.90,365.48L346.90,363.36L347.40,363.36L347.40,364.65L347.90,364.65L347.90,364.45L348.40,364.45L348.40,366.15L348.90,366.15L348.90,365.22L349.40,365.22L349.40,363.50L349.90,363.50L349.90,363.50L350.40,363.50L350.40,365.37L350.90,365.37L350.90,366.17L351.40,366.17L351.40,361.50L351.90,361.50L351.90,361.50L352.40,361.50L352.40,365.20L352.90,365.20L352.90,365.88L353.40,365.88L353.40,364.17L353.90,364.17L353.90,366.73L354.40,366.73L354.40,363.50L354.90,363.50L354.90,363.50L355.40,363.50L355.40,364.45L355.90,364.45L355.90,366.89L356.40,366.89L356.40,366.09L356.90,366.09L356.90,364.68L357.40,364.68L357.40,365.53L357.90,365.53L357.90,366.56L358.40,366.56L358.40,366.59L358.90,366.59L358.90,366.02L359.40,366.02L359.40,365.95L359.90,365.95L359.90,366.26L360.40,366.26L360.40,366.78L360.90,366.78L360.90,365.58L361.40,365.58L361.40,365.88L361.90,365.88L361.90,366.44L362.40,366.44L362.40,365.57L362.90,365.57L362.90,364.70L363.40,364.70L363.40,365.29L363.90,365.29L363.90,365.10L364.40,365.10L364.40,366.19L364.90,366.19L364.90,366.30L365.40,366.30L365.40,366.77L365.90,366.77L365.90,364.39L366.40,364.39L366.40,364.13L366.90,364.13L366.90,366.85L367.40,366.85L367.40,366.25L367.90,366.25L367.90,367.05L368.40,367.05L368.40,366.51L368.90,366.51L368.90,366.92L369.40,366.92L369.40,364.55L369.90,364.55L369.90,364.64L370.40,364.64L370.40,365.92L370.90,365.92L370.90,366.35L371.40,366.35L371.40,363.61L371.90,363.61L371.90,363.61L372.40,363.61L372.40,364.79L372.90,364.79L372.90,363.78L373.40,363.78L373.40,363.78L373.90,363.78L373.90,364.66L374.40,364.66L374.40,364.39L374.90,364.39L374.90,364.36L375.40,364.36L375.40,364.22L375.90,364.22L375.90,364.57L376.40,364.57L376.40,366.14L376.90,366.14L376.90,366.44L377.40,366.44L377.40,366.42L377.90,366.42L377.90,365.37L378.40,365.37L378.40,365.58L378.90,365.58L378.90,364.49L379.40,364.49L379.40,365.26L379.90,365.26L379.90,365.26L380.40,365.26L380.40,364.52L380.90,364.52L380.90,365.29L381.40,365.29L381.40,364.73L381.90,364.73L381.90,365.99L382.40,365.99L382.40,365.27L382.90,365.27L382.90,364.22L383.40,364.22L383.40,364.46L383.90,364.46L383.90,364.42L384.40,364.42L384.40,366.97L384.90,366.97L384.90,365.39L385.40,365.39L385.40,366.48L385.90,366.48L385.90,365.93L386.40,365.93L386.40,365.40L386.90,365.40L386.90,366.33L387.40,366.33L387.40,365.81L387.90,365.81L387.90,364.33L388.40,364.33L388.40,367.10L388.90,367.10L388.90,365.23L389.40,365.23L389.40,366.11L389.90,366.11L389.90,365.43L390.40,365.43L390.40,367.02L390.90,367.02L390.90,364.71L391.40,364.71L391.40,364.39L391.90,364.39L391.90,364.36L392.40,364.36L392.40,365.39L392.90,365.39L392.90,366.69L393.40,366.69L393.40,365.54L393.90,365.54L393.90,366.94L394.40,366.94L394.40,364.66L394.90,364.66L394.90,367.04L395.40,367.04L395.40,364.74L395.90,364.74L395.90,366.81L396.40,366.81L396.40,364.82L396.90,364.82L396.90,365.94L397.40,365.94L397.40,366.04L397.90,366.04L397.90,367.06L398.40,367.06L398.40,365.46L398.90,365.46L398.90,366.70L399.40,366.70L399.40,364.43L399.90,364.43L399.90,366.86L400.40,366.86L400.40,365.77L400.90,365.77L400.90,365.83L401.40,365.83L401.40,367.07L401.90,367.07L401.90,365.20L402.40,365.20L402.40,366.06L402.90,366.06L402.90,365.98L403.40,365.98L403.40,365.17L403.90,365.17L403.90,364.73L404.40,364.73L404.40,365.54L404.90,365.54L404.90,363.78L405.40,363.78L405.40,363.78L405.90,363.78L405.90,365.49L406.40,365.49L406.40,364.56L406.90,364.56L406.90,366.29L407.40,366.29L407.40,366.96L407.90,366.96L407.90,366.09L408.40,366.09L408.40,365.19L408.90,365.19L408.90,365.20L409.40,365.20L409.40,367.06L409.90,367.06L409.90,365.61L410.40,365.61L410.40,366.41L410.90,366.41L410.90,364.57L411.40,364.57L411.40,366.66L411.90,366.66L411.90,366.89L412.40,366.89L412.40,363.50L412.90,363.50L412.90,363.50L413.40,363.50L413.40,366.21L413.90,366.21L413.90,367.06L414.40,367.06L414.40,358.70L414.90,358.70L414.90,358.70L415.40,358.70L415.40,364.71L415.90,364.71L415.90,366.89L416.40,366.89L416.40,365.52L416.90,365.52L416.90,367.07L417.40,367.07L417.40,365.66L417.90,365.66L417.90,366.74L418.40,366.74L418.40,365.02L418.90,365.02L418.90,367.11L419.40,367.11L419.40,365.74L419.90,365.74L419.90,364.43L420.40,364.43L420.40,364.97L420.90,364.97L420.90,364.65L421.40,364.65L421.40,365.59L421.90,365.59L421.90,367.10L422.40,367.10L422.40,364.76L422.90,364.76L422.90,364.76L423.40,364.76L423.40,363.50L423.90,363.50L423.90,363.50L424.40,363.50L424.40,366.51L424.90,366.51L424.90,366.76L425.40,366.76L425.40,367.14L425.90,367.14L425.90,365.41L426.40,365.41L426.40,365.41L426.90,365.41L426.90,365.34L427.40,365.34L427.40,364.93L427.90,364.93L427.90,365.62L428.40,365.62L428.40,365.27L428.90,365.27L428.90,366.55L429.40,366.55L429.40,364.91L429.90,364.91L429.90,365.04L430.40,365.04L430.40,366.50L430.90,366.50L430.90,364.60L431.40,364.60L431.40,364.72L431.90,364.72L431.90,364.49L432.40,364.49L432.40,364.55L432.90,364.55L432.90,364.77L433.40,364.77L433.40,366.54L433.90,366.54L433.90,365.24L434.40,365.24L434.40,364.80L434.90,364.80L434.90,365.88L435.40,365.88L435.40,365.50L435.90,365.50L435.90,364.53L436.40,364.53L436.40,364.70L436.90,364.70L436.90,365.22L437.40,365.22L437.40,365.68L437.90,365.68L437.90,364.85L438.40,364.85L438.40,365.68L438.90,365.68L438.90,365.86L439.40,365.86L439.40,367.07L439.90,367.07L439.90,366.20L440.40,366.20L440.40,365.38L440.90,365.38L440.90,365.16L441.40,365.16L441.40,365.05L441.90,365.05L441.90,365.61L442.40,365.61L442.40,367.15L442.90,367.15L442.90,367.19L443.40,367.19L443.40,364.97L443.90,364.97L443.90,366.32L444.40,366.32L444.40,366.64L444.90,366.64L444.90,367.08L445.40,367.08L445.40,366.63L445.90,366.63L445.90,366.30L446.40,366.30L446.40,363.78L446.90,363.78L446.90,363.78L447.40,363.78L447.40,367.13L447.90,367.13L447.90,367.05L448.40,367.05L448.40,366.99L448.90,366.99L448.90,365.51L449.40,365.51L449.40,366.71L449.90,366.71L449.90,363.50L450.40,363.50L450.40,363.50L450.90,363.50L450.90,365.52L451.40,365.52L451.40,361.50L451.90,361.50L451.90,361.50L452.40,361.50L452.40,364.68L452.90,364.68L452.90,351.50L453.40,351.50L453.40,351.50L453.90,351.50L453.90,358.50L454.40,358.50L454.40,364.64L454.90,364.64L454.90,358.50L455.40,358.50L455.40,358.50L455.90,358.50L455.90,366.51L456.40,366.51L456.40,365.76L456.90,365.76L456.90,364.71L457.40,364.71L457.40,364.77L457.90,364.77L457.90,365.36L458.40,365.36L458.40,365.63L458.90,365.63L458.90,367.29L459.40,367.29L459.40,365.99L459.90,365.99L459.90,365.02L460.40,365.02L460.40,366.89L460.90,366.89L460.90,365.52L461.40,365.52L461.40,363.63L461.90,363.63L461.90,363.63L462.40,363.63L462.40,364.47L462.90,364.47L462.90,364.47L463.40,364.47L463.40,365.79L463.90,365.79L463.90,364.73L464.40,364.73L464.40,367.17L464.90,367.17L464.90,367.02L465.40,367.02L465.40,366.87L465.90,366.87L465.90,365.25L466.40,365.25L466.40,366.37L466.90,366.37L466.90,365.86L467.40,365.86L467.40,365.12L467.90,365.12L467.90,365.29L468.40,365.29L468.40,367.02L468.90,367.02L468.90,366.33L469.40,366.33L469.40,366.30L469.90,366.30L469.90,365.10L470.40,365.10L470.40,366.28L470.90,366.28L470.90,367.08L471.40,367.08L471.40,365.28L471.90,365.28L471.90,365.37L472.40,365.37L472.40,367.19L472.90,367.19L472.90,365.47L473.40,365.47L473.40,365.96L473.90,365.96L473.90,367.15L474.40,367.15L474.40,366.68L474.90,366.68L474.90,365.59L475.40,365.59L475.40,365.64L475.90,365.64L475.90,365.42L476.40,365.42L476.40,364.89L476.90,364.89L476.90,366.14L477.40,366.14L477.40,365.17L477.90,365.17L477.90,365.46L478.40,365.46L478.40,366.94L478.90,366.94L478.90,364.81L479.40,364.81L479.40,364.81L479.90,364.81L479.90,364.94L480.40,364.94L480.40,366.44L480.90,366.44L480.90,365.44L481.40,365.44L481.40,365.51L481.90,365.51L481.90,366.16L482.40,366.16L482.40,359.50L482.90,359.50L482.90,359.50L483.40,359.50L483.40,364.98L483.90,364.98L483.90,365.72L484.40,365.72L484.40,364.87L484.90,364.87L484.90,365.12L485.40,365.12L485.40,365.12L485.90,365.12L485.90,365.71L486.40,365.71L486.40,365.94L486.90,365.94L486.90,365.63L487.40,365.63L487.40,367.36L487.90,367.36L487.90,366.92L488.40,366.92L488.40,365.61L488.90,365.61L488.90,365.61L489.40,365.61L489.40,367.14L489.90,367.14L489.90,366.51L490.40,366.51L490.40,365.11L490.90,365.11L490.90,365.21L491.40,365.21L491.40,367.30L491.90,367.30L491.90,365.81L492.40,365.81L492.40,365.81L492.90,365.81L492.90,363.77L493.40,363.77L493.40,363.77L493.90,363.77L493.90,365.40L494.40,365.40L494.40,365.30L494.90,365.30L494.90,365.45L495.40,365.45L495.40,366.76L495.90,366.76L495.90,366.42L496.40,366.42L496.40,366.25L496.90,366.25L496.90,365.43L497.40,365.43L497.40,365.99L497.90,365.99L497.90,365.65L498.40,365.65L498.40,365.17L498.90,365.17L498.90,367.33L499.40,367.33L499.40,366.94L499.90,366.94L499.90,366.93L500.40,366.93L500.40,365.88L500.90,365.88L500.90,367.04L501.40,367.04L501.40,366.97L501.90,366.97L501.90,365.53L502.40,365.53L502.40,367.34L502.90,367.34L502.90,366.97L503.40,366.97L503.40,365.10L503.90,365.10L503.90,365.22L504.40,365.22L504.40,365.02L504.90,365.02L504.90,365.02L505.40,365.02L505.40,365.36L505.90,365.36L505.90,365.34L506.40,365.34L506.40,364.04L506.90,364.04L506.90,364.04L507.40,364.04L507.40,365.74L507.90,365.74L507.90,366.38L508.40,366.38L508.40,365.43L508.90,365.43L508.90,363.54L509.40,363.54L509.40,363.54L509.90,363.54L509.90,365.96L510.40,365.96L510.40,369.50Z" fill="#19288c"/><text x="86" y="381.9" font-size="8.8" font-style="italic" textLength="23.2" lengthAdjust="spacingAndGlyphs" fill="#222" stroke="#222" stroke-width="0.2">Gata2</text><path d="M115,377.4 H232.8" stroke="#6d74b8" stroke-width="0.8"/><path d="M115,379.6 H232.8" stroke="#6d74b8" stroke-width="0.8" stroke-dasharray="1.2 1.2" opacity="0.8"/><rect x="170" y="375.79999999999995" width="2" height="5.400000000000046" rx="0.6" fill="#26307e"/><rect x="175" y="375.79999999999995" width="6" height="5.400000000000046" rx="0.6" fill="#26307e"/><rect x="193.9" y="375.79999999999995" width="1.4000000000000057" height="5.400000000000046" rx="0.6" fill="#26307e"/><rect x="211.9" y="375.79999999999995" width="1.4000000000000057" height="5.400000000000046" rx="0.6" fill="#26307e"/><rect x="217" y="375.79999999999995" width="2.8000000000000114" height="5.400000000000046" rx="0.6" fill="#26307e"/><rect x="155" y="378.85" width="8.800000000000011" height="1.5" fill="#26307e"/><rect x="219.8" y="376.65" width="13.0" height="1.5" fill="#26307e"/><rect x="219.8" y="378.85" width="13.0" height="1.5" fill="#26307e"/><text x="341" y="377.8" font-size="8.8" font-style="italic" textLength="22" lengthAdjust="spacingAndGlyphs" fill="#222" stroke="#222" stroke-width="0.2">Gata2</text><path d="M368.6,374.2 H484.2" stroke="#6d74b8" stroke-width="0.8"/><path d="M370,376.3 H484.2" stroke="#6d74b8" stroke-width="0.8" stroke-dasharray="1.2 1.2" opacity="0.8"/><rect x="422.7" y="372.59999999999997" width="1.5" height="5.300000000000023" rx="0.6" fill="#26307e"/><rect x="427.8" y="372.59999999999997" width="5.0" height="5.300000000000023" rx="0.6" fill="#26307e"/><rect x="430" y="372.59999999999997" width="2.3000000000000114" height="5.300000000000023" rx="0.6" fill="#26307e"/><rect x="446.1" y="372.59999999999997" width="1.1999999999999886" height="5.300000000000023" rx="0.6" fill="#26307e"/><rect x="464" y="372.59999999999997" width="1.1999999999999886" height="5.300000000000023" rx="0.6" fill="#26307e"/><rect x="469.2" y="372.59999999999997" width="2.3000000000000114" height="5.300000000000023" rx="0.6" fill="#26307e"/><rect x="408.3" y="375.55" width="6.5" height="1.5" fill="#26307e"/><rect x="471.5" y="373.45" width="12.699999999999989" height="1.5" fill="#26307e"/><rect x="471.5" y="375.55" width="12.699999999999989" height="1.5" fill="#26307e"/><rect x="334.5" y="210.3" width="29.899999999999977" height="170.2" rx="1.8" fill="none" stroke="#e27b6b" stroke-width="1" stroke-dasharray="4 2.2"/><rect x="408.7" y="210.3" width="10.600000000000023" height="170.2" rx="1.8" fill="none" stroke="#e27b6b" stroke-width="1" stroke-dasharray="4 2.2"/><rect x="440.5" y="210.3" width="24.100000000000023" height="170.2" rx="1.8" fill="none" stroke="#e27b6b" stroke-width="1" stroke-dasharray="4 2.2"/><rect x="0" y="0" width="520" height="1.5" fill="#000"/><rect x="0" y="0" width="1.5" height="389" fill="#000"/><rect x="518.6" y="0" width="1.4" height="389" fill="#000"/><rect x="0" y="387.2" width="520" height="1.8" fill="#000"/></g></svg>

</body></html>
